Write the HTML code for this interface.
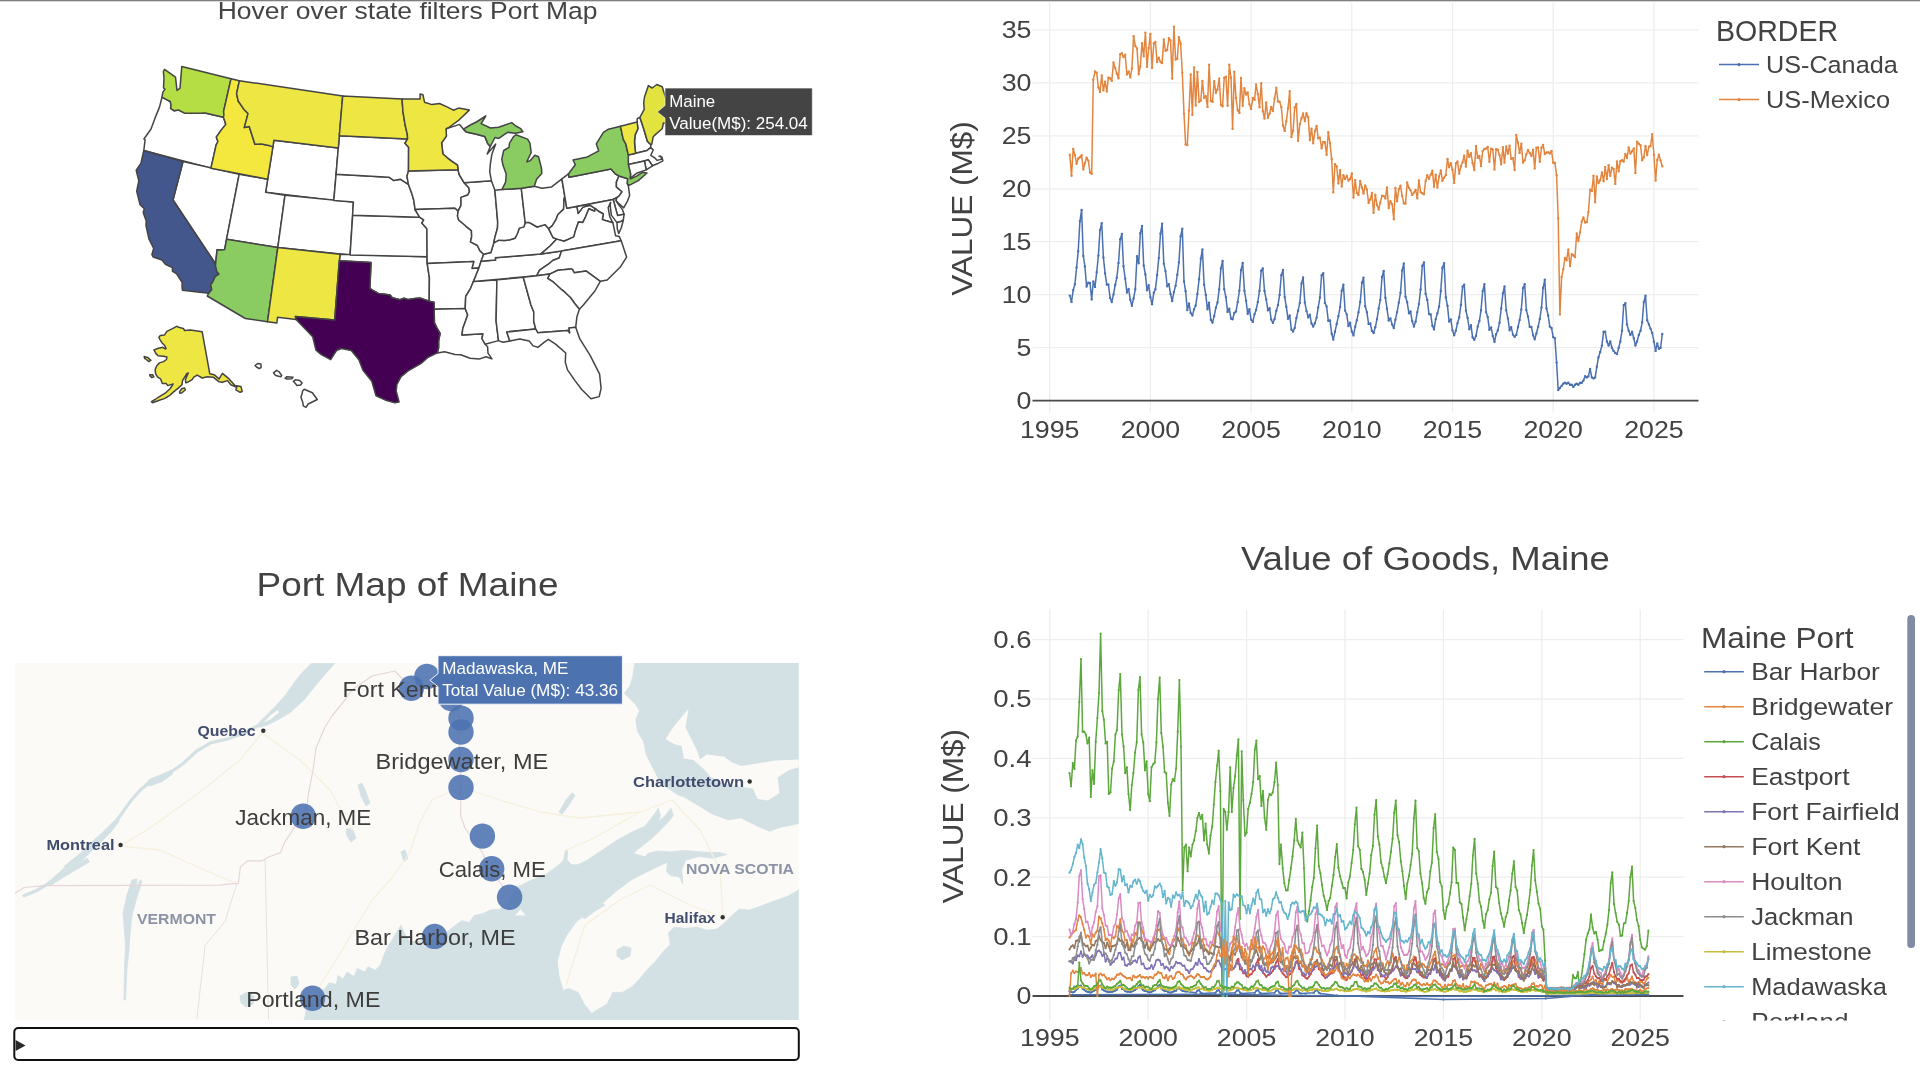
<!DOCTYPE html>
<html lang="en"><head><meta charset="utf-8"><title>Border crossing dashboard</title>
<style>
html,body{margin:0;padding:0;background:#fff;overflow:hidden}
body{width:1920px;height:1070px;font-family:'Liberation Sans', sans-serif;}
svg{display:block;position:absolute;left:0;top:0;will-change:transform}
svg text{font-family:'Liberation Sans', sans-serif;}
</style></head><body>
<svg width="1920" height="1070" viewBox="0 0 1920 1070">
<rect width="1920" height="1070" fill="#fff"/>
<rect x="0" y="0" width="1920" height="1.3" fill="#7f7f7f"/>
<g id="usmap" stroke-linejoin="round">
<path d="M162.0,97.2L167.0,99.8L170.3,101.5L171.0,105.4L170.6,108.4L174.3,110.8L178.3,109.9L184.2,112.9L190.7,113.2L202.1,113.1L205.1,112.9L223.4,117.2L224.4,120.1L225.8,124.4L221.2,130.1L216.3,137.1L217.9,141.5L216.1,145.1L210.9,168.3L143.8,150.5L145.1,139.9L143.9,139.0L150.9,129.2L155.5,116.9L159.5,107.1Z" fill="#fff" stroke="#444" stroke-width="1.5"/>
<path d="M183.0,161.6L239.2,174.2L226.6,239.2L224.6,249.6L221.3,250.0L217.1,249.7L216.4,256.1L215.6,264.0L173.0,200.0Z" fill="#fff" stroke="#444" stroke-width="1.5"/>
<path d="M273.9,140.2L338.3,148.1L333.8,200.6L265.6,192.3Z" fill="#fff" stroke="#444" stroke-width="1.5"/>
<path d="M239.2,174.2L267.7,179.2L265.6,192.3L285.0,195.2L277.8,247.6L226.6,239.2Z" fill="#fff" stroke="#444" stroke-width="1.5"/>
<path d="M285.0,195.2L353.4,202.1L350.1,254.9L277.8,247.6Z" fill="#fff" stroke="#444" stroke-width="1.5"/>
<path d="M340.2,254.2L427.1,256.8L427.2,263.4L429.4,277.9L429.2,301.2L420.3,298.1L414.9,298.6L408.4,299.6L404.1,298.3L399.8,299.8L392.2,297.7L390.1,295.0L384.7,294.2L378.3,293.4L373.0,290.5L369.9,288.3L371.0,262.6L339.3,260.8Z" fill="#fff" stroke="#444" stroke-width="1.5"/>
<path d="M352.7,215.3L419.6,217.2L423.7,219.8L421.8,223.1L426.9,228.7L427.1,256.8L350.1,254.9Z" fill="#fff" stroke="#444" stroke-width="1.5"/>
<path d="M336.1,174.3L388.9,177.2L393.6,180.4L400.3,179.2L406.0,182.8L408.4,184.3L411.8,193.4L413.7,200.0L414.7,206.6L415.0,209.5L417.2,213.2L419.6,217.2L352.6,215.3L353.4,202.1L333.8,200.6Z" fill="#fff" stroke="#444" stroke-width="1.5"/>
<path d="M339.3,135.8L407.6,138.9L404.9,143.3L408.6,147.3L408.5,170.9L407.0,176.2L408.4,184.3L406.0,182.8L400.3,179.2L393.6,180.4L388.9,177.2L336.1,174.3Z" fill="#fff" stroke="#444" stroke-width="1.5"/>
<path d="M408.5,170.9L458.0,169.8L459.4,175.0L464.1,182.7L468.8,187.7L469.5,191.6L467.7,195.0L461.0,197.4L461.0,205.3L458.1,211.1L454.9,208.2L415.0,209.5L414.7,206.6L413.7,200.0L411.8,193.4L408.4,184.3L407.0,176.2Z" fill="#fff" stroke="#444" stroke-width="1.5"/>
<path d="M415.0,209.5L454.9,208.2L458.1,211.1L457.5,216.1L458.7,220.0L466.1,226.3L471.4,230.6L471.7,236.6L470.5,241.9L477.4,245.5L479.8,250.6L483.7,254.3L481.1,261.2L478.9,267.9L471.9,268.4L473.8,261.6L427.2,263.4L427.1,256.8L426.9,228.7L421.8,223.1L423.7,219.8L419.6,217.2L417.2,213.2Z" fill="#fff" stroke="#444" stroke-width="1.5"/>
<path d="M427.2,263.4L473.8,261.6L471.9,268.4L478.9,267.9L475.7,276.1L473.4,281.5L470.6,288.3L465.7,296.5L465.2,308.5L434.2,309.3L434.0,302.3L429.2,301.2L429.4,277.9Z" fill="#fff" stroke="#444" stroke-width="1.5"/>
<path d="M434.2,309.3L465.2,308.5L467.7,314.9L462.8,328.4L462.0,335.0L483.0,333.8L481.9,338.5L485.1,344.2L487.6,346.7L488.0,353.2L491.9,358.9L486.0,356.7L479.2,359.1L470.0,358.3L460.7,354.8L454.9,354.4L444.6,351.8L437.3,352.9L438.6,347.7L438.6,341.1L440.1,333.4L437.0,328.0L434.4,322.9Z" fill="#fff" stroke="#444" stroke-width="1.5"/>
<path d="M473.4,281.5L470.6,288.3L465.7,296.5L465.2,308.5L467.7,314.9L462.8,328.4L462.0,335.0L483.0,333.8L481.9,338.5L485.1,344.2L498.5,340.6L496.1,321.0L496.9,281.2L495.7,280.0Z" fill="#fff" stroke="#444" stroke-width="1.5"/>
<path d="M495.7,280.0L496.9,281.2L496.1,321.0L498.5,340.6L503.1,342.2L509.8,341.0L506.8,332.0L535.7,329.0L533.7,321.3L533.8,312.0L530.9,304.8L523.3,277.3Z" fill="#fff" stroke="#444" stroke-width="1.5"/>
<path d="M473.4,281.5L475.7,276.1L478.9,267.9L481.1,261.2L495.5,260.1L495.3,257.7L540.9,253.9L561.5,251.1L559.2,258.0L553.1,260.2L548.4,264.2L539.6,270.1L536.8,275.7Z" fill="#fff" stroke="#444" stroke-width="1.5"/>
<path d="M481.1,261.2L483.7,254.3L490.9,252.5L493.7,242.9L498.9,240.2L504.8,240.6L509.9,239.7L514.9,238.3L517.0,234.5L519.4,228.1L523.9,226.9L525.2,222.5L529.5,222.6L537.2,227.0L545.0,224.6L548.7,228.8L553.0,237.5L556.7,239.1L550.1,246.0L540.9,253.9L495.3,257.7L495.5,260.1Z" fill="#fff" stroke="#444" stroke-width="1.5"/>
<path d="M464.1,182.7L491.4,180.7L494.9,190.2L497.7,222.0L497.5,228.0L495.2,236.2L493.7,242.9L490.9,252.5L483.7,254.3L479.8,250.6L477.4,245.5L470.5,241.9L471.7,236.6L471.4,230.6L466.1,226.3L458.7,220.0L457.5,216.1L458.1,211.1L461.0,205.3L461.0,197.4L467.7,195.0L469.5,191.6L468.8,187.7Z" fill="#fff" stroke="#444" stroke-width="1.5"/>
<path d="M446.1,128.7L455.9,125.6L459.5,124.4L463.4,129.1L466.2,131.9L475.5,134.1L484.8,136.4L487.7,143.4L490.3,146.5L487.2,154.0L495.7,144.0L491.9,154.2L490.4,163.6L489.7,171.6L491.4,180.7L464.1,182.7L459.4,175.0L458.0,169.8L457.5,165.2L451.2,160.9L447.3,157.8L442.9,154.0L441.6,142.9L446.4,136.1Z" fill="#fff" stroke="#444" stroke-width="1.5"/>
<path d="M494.9,190.2L501.9,189.6L521.3,188.3L525.2,222.5L523.9,226.9L519.4,228.1L517.0,234.5L514.9,238.3L509.9,239.7L504.8,240.6L498.9,240.2L493.7,242.9L495.2,236.2L497.5,228.0L497.7,222.0Z" fill="#fff" stroke="#444" stroke-width="1.5"/>
<path d="M521.3,188.3L534.3,186.3L541.9,188.3L551.6,186.9L561.9,178.8L564.8,196.3L564.0,199.6L563.6,209.1L557.8,214.7L556.0,219.7L552.3,225.6L548.7,228.8L545.0,224.6L537.2,227.0L529.5,222.6L525.2,222.5Z" fill="#fff" stroke="#444" stroke-width="1.5"/>
<path d="M564.8,196.3L564.0,199.6L563.6,209.1L557.8,214.7L556.0,219.7L552.3,225.6L548.7,228.8L553.0,237.5L556.7,239.1L564.0,241.2L573.8,236.9L575.7,229.9L578.5,222.0L582.7,222.6L585.2,217.7L588.9,208.7L594.7,211.2L595.3,208.6L589.8,205.2L583.0,207.1L578.2,213.4L577.0,206.6L566.8,208.3Z" fill="#fff" stroke="#444" stroke-width="1.5"/>
<path d="M561.9,178.8L568.5,173.8L569.1,177.3L611.0,169.1L615.0,173.6L619.0,176.0L616.4,182.1L616.4,186.9L622.1,191.7L619.0,196.1L616.8,197.6L613.2,199.5L566.8,208.3Z" fill="#fff" stroke="#444" stroke-width="1.5"/>
<path d="M637.1,122.0L637.2,118.7L639.9,117.3L644.0,129.8L647.4,141.2L649.3,143.1L651.0,144.7L650.6,147.6L647.1,150.4L635.8,153.3L635.1,149.8L634.5,141.8L635.1,134.9L637.9,128.7Z" fill="#fff" stroke="#444" stroke-width="1.5"/>
<path d="M628.3,154.9L635.8,153.3L647.1,150.4L650.6,147.6L653.3,149.8L650.8,155.3L655.1,158.2L657.2,160.4L661.9,159.1L660.6,156.0L659.1,156.2L661.9,157.0L662.9,160.9L657.2,163.8L652.5,165.8L648.3,159.8L644.4,161.0L628.3,164.4Z" fill="#fff" stroke="#444" stroke-width="1.5"/>
<path d="M644.4,161.0L648.3,159.8L652.5,165.8L646.2,169.9Z" fill="#fff" stroke="#444" stroke-width="1.5"/>
<path d="M628.3,164.4L644.4,161.0L646.2,169.9L636.5,173.3L630.1,178.3L630.6,174.1Z" fill="#fff" stroke="#444" stroke-width="1.5"/>
<path d="M619.0,176.0L627.7,178.8L627.3,183.7L628.4,186.1L629.6,195.4L627.7,200.6L623.7,207.9L619.2,203.9L615.9,200.5L616.8,197.6L619.0,196.1L622.1,191.7L616.4,186.9L616.4,182.1Z" fill="#fff" stroke="#444" stroke-width="1.5"/>
<path d="M613.2,199.5L616.8,197.6L615.9,200.5L618.2,204.1L622.6,209.9L624.1,214.3L617.6,215.6Z" fill="#fff" stroke="#444" stroke-width="1.5"/>
<path d="M577.0,206.6L613.2,199.5L617.6,215.6L624.1,214.3L623.3,220.2L619.5,222.1L617.0,222.6L611.3,215.1L610.2,205.1L610.6,202.3L608.2,207.6L609.7,216.7L612.9,222.8L606.2,220.8L602.3,219.6L603.3,214.0L598.1,211.0L595.3,208.6L589.8,205.2L583.0,207.1L578.2,213.4Z" fill="#fff" stroke="#444" stroke-width="1.5"/>
<path d="M540.9,253.9L550.1,246.0L556.7,239.1L564.0,241.2L573.8,236.9L575.7,229.9L578.5,222.0L582.7,222.6L585.2,217.7L588.9,208.7L594.7,211.2L595.3,208.6L598.1,211.0L603.3,214.0L602.3,219.6L606.2,220.8L612.9,222.8L614.1,228.7L615.6,235.8L619.2,236.4L621.2,240.7L561.5,251.1ZM619.5,222.1L623.3,220.2L621.3,227.8L618.8,233.5L617.3,228.7L617.0,222.6Z" fill="#fff" stroke="#444" stroke-width="1.5"/>
<path d="M536.8,275.7L539.6,270.1L548.4,264.2L553.1,260.2L559.2,258.0L561.5,251.1L621.2,240.7L626.6,257.1L620.1,267.3L607.2,280.0L600.3,281.3L586.3,271.1L574.3,272.8L572.4,269.4L571.0,268.9L557.8,270.3L549.7,274.1Z" fill="#fff" stroke="#444" stroke-width="1.5"/>
<path d="M549.7,274.1L557.8,270.3L571.0,268.9L572.4,269.4L574.3,272.8L586.3,271.1L600.3,281.3L594.9,291.0L588.5,298.8L583.4,305.0L579.4,309.3L574.9,303.7L570.6,297.7L564.8,292.2L561.7,289.7L553.5,282.2L547.6,278.3Z" fill="#fff" stroke="#444" stroke-width="1.5"/>
<path d="M523.3,277.3L536.8,275.7L549.7,274.1L547.6,278.3L553.5,282.2L561.7,289.7L564.8,292.2L570.6,297.7L574.9,303.7L579.4,309.3L576.9,316.8L575.7,327.3L569.0,327.9L569.7,332.9L567.7,330.5L537.8,332.8L535.7,329.0L533.7,321.3L533.8,312.0L530.9,304.8Z" fill="#fff" stroke="#444" stroke-width="1.5"/>
<path d="M506.8,332.0L506.8,332.0L535.7,329.0L537.8,332.8L567.7,330.5L569.7,332.9L569.0,327.9L575.7,327.3L579.8,338.9L590.0,355.2L599.6,374.1L601.1,388.4L599.2,396.6L591.0,398.8L581.7,389.5L575.0,380.6L567.5,369.9L565.3,362.3L565.7,353.0L555.9,344.4L548.4,339.4L544.7,341.9L537.9,347.3L533.1,345.9L529.2,341.0L519.8,338.9L509.8,341.0Z" fill="#fff" stroke="#444" stroke-width="1.5"/>
<path d="M164.5,69.4L175.5,77.2L177.0,90.5L180.0,88.1L181.8,66.6L231.0,78.8L223.6,111.4L223.9,115.0L223.4,117.2L205.1,112.9L202.1,113.1L190.7,113.2L184.2,112.9L178.3,109.9L174.3,110.8L170.6,108.4L171.0,105.4L170.3,101.5L167.0,99.8L162.0,97.2L162.8,92.4L165.0,89.0L163.5,87.8L164.0,78.5L163.4,71.5Z" fill="#b5dd44" stroke="#444" stroke-width="1.5"/>
<path d="M143.8,150.5L183.0,161.6L173.0,200.0L215.6,264.0L215.5,266.0L216.9,271.7L218.9,274.1L215.2,276.7L212.6,282.3L210.7,284.6L211.7,289.7L208.7,293.3L182.4,290.3L182.0,285.9L182.2,282.5L176.4,273.7L172.5,271.4L172.3,267.6L165.4,264.3L162.0,260.0L153.1,257.0L151.9,254.7L153.7,248.3L148.9,238.8L146.0,225.6L146.2,220.9L143.2,212.5L144.3,208.6L140.1,204.7L136.7,191.2L138.8,180.8L136.2,170.3L140.9,163.5Z" fill="#43578c" stroke="#444" stroke-width="1.5"/>
<path d="M231.0,78.8L239.4,80.7L236.6,93.6L238.2,101.0L243.8,109.2L248.0,113.6L244.3,127.6L249.2,126.5L252.2,135.8L254.9,144.3L261.5,144.1L268.9,145.4L272.9,146.9L267.7,179.2L210.9,168.3L216.1,145.1L217.9,141.5L216.3,137.1L221.2,130.1L225.8,124.4L224.4,120.1L223.4,117.2L223.9,115.0L223.6,111.4Z" fill="#f4e83e" stroke="#444" stroke-width="1.5"/>
<path d="M239.4,80.7L342.7,96.0L338.3,148.1L273.9,140.2L272.9,146.9L268.9,145.4L261.5,144.1L254.9,144.3L252.2,135.8L249.2,126.5L244.3,127.6L248.0,113.6L243.8,109.2L238.2,101.0L236.6,93.6Z" fill="#eee642" stroke="#444" stroke-width="1.5"/>
<path d="M226.6,239.2L277.8,247.6L267.5,321.8L245.3,318.5L207.2,296.0L208.7,293.3L211.7,289.7L210.7,284.6L212.6,282.3L215.2,276.7L218.9,274.1L216.9,271.7L215.5,266.0L215.6,264.0L216.4,256.1L217.1,249.7L221.3,250.0L224.6,249.6Z" fill="#8acb62" stroke="#444" stroke-width="1.5"/>
<path d="M277.8,247.6L340.2,254.2L339.3,260.8L334.7,320.1L295.4,316.4L296.1,319.4L277.6,317.2L276.8,323.1L267.5,321.8Z" fill="#eee642" stroke="#444" stroke-width="1.5"/>
<path d="M339.3,260.8L371.0,262.6L369.9,288.3L373.0,290.5L378.3,293.4L384.7,294.2L390.1,295.0L392.2,297.7L399.8,299.8L404.1,298.3L408.4,299.6L414.9,298.6L420.3,298.1L429.2,301.2L434.0,302.3L434.2,309.3L434.4,322.9L437.0,328.0L440.1,333.4L438.6,341.1L438.6,347.7L437.3,352.9L427.6,357.7L420.8,363.7L408.1,370.9L401.1,376.7L396.9,384.5L396.2,391.0L399.1,402.0L394.9,402.7L386.6,400.6L376.0,395.8L371.8,381.3L363.0,370.4L358.9,359.8L351.3,350.6L341.2,348.5L336.5,350.5L330.7,359.7L321.3,354.6L316.0,350.2L312.7,336.7L301.4,325.0L296.1,319.4L295.4,316.4L334.7,320.1Z" fill="#440154" stroke="#444" stroke-width="1.5"/>
<path d="M342.7,96.0L402.0,98.9L403.0,111.9L405.1,125.0L407.3,134.2L407.6,138.9L339.3,135.8Z" fill="#eee642" stroke="#444" stroke-width="1.5"/>
<path d="M402.0,98.9L420.1,99.0L420.1,94.1L423.0,94.8L424.5,102.2L432.0,104.6L439.5,103.5L448.0,107.4L453.4,110.2L458.6,108.1L469.3,110.1L459.2,119.8L448.8,127.5L446.1,128.7L446.4,136.1L441.6,142.9L442.9,154.0L447.3,157.8L451.2,160.9L457.5,165.2L458.0,169.8L408.5,170.9L408.6,147.3L404.9,143.3L407.6,138.9L407.3,134.2L405.1,125.0L403.0,111.9Z" fill="#eee642" stroke="#444" stroke-width="1.5"/>
<path d="M463.4,129.1L470.3,125.0L476.4,122.0L485.8,116.0L481.1,123.6L490.5,128.0L498.6,127.3L511.7,122.6L515.8,126.0L520.7,128.7L522.9,131.7L515.7,133.3L507.4,132.3L498.8,138.4L495.0,137.5L490.3,146.5L487.7,143.4L484.8,136.4L475.5,134.1L466.2,131.9ZM501.9,189.6L521.3,188.3L534.3,186.3L536.7,179.0L541.8,173.6L541.5,168.3L538.5,156.8L534.9,155.3L530.4,160.6L526.8,161.7L531.2,152.5L530.0,143.4L527.6,139.1L515.9,134.8L513.4,136.9L509.5,143.2L509.0,147.3L503.7,150.5L501.8,159.2L502.9,165.1L506.2,174.0L505.6,182.1Z" fill="#8acb62" stroke="#444" stroke-width="1.5"/>
<path d="M568.5,173.8L575.3,164.8L573.0,159.9L587.4,156.9L598.7,150.8L596.3,143.9L603.4,132.3L608.4,129.2L620.5,126.3L623.2,139.2L625.8,144.0L628.3,154.9L628.3,164.4L630.6,174.1L630.1,178.3L630.7,178.8L637.1,175.9L642.3,172.3L647.0,173.0L638.3,180.6L629.2,185.3L627.3,183.7L627.7,178.8L619.0,176.0L615.0,173.6L611.0,169.1L569.1,177.3Z" fill="#8acb62" stroke="#444" stroke-width="1.5"/>
<path d="M620.5,126.3L637.1,122.0L637.9,128.7L635.1,134.9L634.5,141.8L635.1,149.8L635.8,153.3L628.3,154.9L625.8,144.0L623.2,139.2Z" fill="#eee642" stroke="#444" stroke-width="1.5"/>
<path d="M639.9,117.3L644.2,109.4L643.7,102.7L644.5,97.0L648.4,85.6L652.2,88.0L656.8,84.5L662.2,86.8L666.7,101.0L670.9,104.3L672.0,108.0L674.8,109.2L678.0,112.8L672.9,118.8L668.5,123.5L663.4,123.0L662.2,128.8L655.9,134.1L653.2,136.8L651.8,144.1L651.0,144.7L649.3,143.1L647.4,141.2L644.0,129.8Z" fill="#e2e33f" stroke="#444" stroke-width="1.5"/>
<path d="M158.9,337.2L160.2,335.6L164.4,335.1L166.9,331.4L172.0,328.8L176.6,326.3L179.5,327.6L183.3,328.4L184.6,330.5L190.5,330.1L197.2,330.9L202.2,331.8L209.8,373.8L214.0,374.7L219.1,378.9L222.4,373.4L229.1,378.9L235.0,385.6L240.9,386.4L242.2,391.5L240.1,392.3L235.9,389.8L236.7,387.3L230.8,384.8L227.5,380.6L222.4,382.2L219.1,381.8L213.2,377.2L207.3,376.8L202.2,378.0L197.2,375.1L193.8,377.2L192.1,379.7L187.9,382.2L185.8,382.7L185.4,379.7L187.1,375.5L188.4,373.0L186.7,373.8L182.5,380.6L182.0,384.8L178.3,388.1L173.6,391.9L169.4,395.7L164.4,398.6L159.3,400.3L152.6,402.8L151.4,401.6L155.1,399.5L160.2,396.1L165.2,393.2L170.3,388.5L173.2,383.9L167.8,385.6L166.1,383.5L162.3,383.5L160.6,378.9L157.7,377.2L155.6,373.8L155.1,369.6L156.8,365.8L159.3,362.9L163.5,361.6L166.5,359.5L166.9,357.0L163.5,356.2L158.1,355.7L156.0,353.6L153.9,349.9L158.5,348.2L162.7,347.3L165.2,349.0L166.1,348.6L164.4,345.2L161.9,342.7L159.8,339.3ZM144.2,356.6L147.6,357.4L150.9,360.4L148.8,361.6L146.3,359.5L144.6,358.3ZM149.7,374.7L152.6,374.7L153.9,376.8L151.8,377.6L150.1,375.9ZM179.5,391.9L182.0,388.5L184.6,388.1L185.4,389.8L182.0,392.7L179.9,393.2Z" fill="#eee642" stroke="#444" stroke-width="1.5"/><path d="M255.0,365.5L258.1,363.4L260.9,364.0L261.1,367.6L259.3,368.5L256.8,367.3ZM273.5,372.8L276.6,370.3L279.0,371.6L281.7,375.5L280.8,376.7L276.6,375.8L274.8,374.6ZM285.1,378.2L286.6,376.7L293.0,377.3L291.8,378.8L286.9,379.0ZM293.3,381.3L295.4,379.8L299.7,380.4L302.1,383.1L300.6,384.9L296.9,385.5L295.1,383.1ZM302.7,390.7L304.2,389.2L312.4,392.8L317.3,399.5L308.2,404.0L306.0,407.4L303.3,405.9L302.7,402.2L300.9,397.1L302.1,393.7Z" fill="#fff" stroke="#444" stroke-width="1.5"/>
<text x="407.6" y="18.5" font-size="23.09" text-anchor="middle" fill="#444" textLength="379.7" lengthAdjust="spacingAndGlyphs">Hover over state filters Port Map</text>
<path d="M657.3,111.9L665,105.6V88.1H812.3V135.6H665V118.1Z" fill="#444" stroke="#fff" stroke-width="0.6"/>
<text x="669.2" y="106.6" font-size="16.9" text-anchor="start" fill="#fff">Maine</text>
<text x="669.2" y="128.7" font-size="16.9" text-anchor="start" fill="#fff" textLength="138.6" lengthAdjust="spacingAndGlyphs">Value(M$): 254.04</text>
</g>
<g id="chart1">
<path d="M1049.7,3.0V412.5M1150.4,3.0V412.5M1251.1,3.0V412.5M1351.8,3.0V412.5M1452.5,3.0V412.5M1553.2,3.0V412.5M1653.9,3.0V412.5M1032.5,347.7H1698.5M1032.5,294.7H1698.5M1032.5,241.7H1698.5M1032.5,188.8H1698.5M1032.5,135.8H1698.5M1032.5,82.8H1698.5M1032.5,29.8H1698.5" stroke="#eeeeee" stroke-width="1.3" fill="none"/>
<path d="M1032.5,400.7H1698.5" stroke="#4a4a4a" stroke-width="1.8"/>
<clipPath id="c1"><rect x="1032.5" y="3.0" width="666.0" height="409.5"/></clipPath><g clip-path="url(#c1)">
<path d="M1069.8,295.6L1071.5,301.9L1073.2,290.2L1074.9,284.3L1076.6,267.4L1078.2,251.2L1079.9,221.3L1081.6,209.9L1083.3,255.9L1084.9,266.5L1086.6,286.5L1088.3,282.8L1090.0,283.0L1091.7,299.4L1093.3,281.5L1095.0,286.9L1096.7,272.2L1098.4,255.6L1100.0,230.1L1101.7,223.2L1103.4,257.5L1105.1,273.4L1106.8,284.6L1108.4,284.5L1110.1,297.9L1111.8,302.1L1113.5,294.4L1115.2,285.0L1116.8,277.7L1118.5,262.9L1120.2,239.2L1121.9,233.9L1123.5,266.3L1125.2,278.6L1126.9,292.5L1128.6,289.0L1130.3,299.7L1131.9,305.7L1133.6,298.5L1135.3,289.2L1137.0,256.2L1138.7,263.3L1140.3,233.2L1142.0,225.9L1143.7,265.4L1145.4,274.5L1147.0,290.2L1148.7,285.3L1150.4,297.2L1152.1,304.3L1153.8,292.7L1155.4,289.3L1157.1,275.0L1158.8,258.1L1160.5,233.5L1162.1,223.8L1163.8,263.6L1165.5,271.1L1167.2,286.2L1168.9,284.1L1170.5,293.9L1172.2,301.0L1173.9,292.1L1175.6,285.8L1177.3,274.8L1178.9,262.4L1180.6,236.2L1182.3,228.8L1184.0,281.4L1185.6,291.3L1187.3,310.1L1189.0,303.5L1190.7,313.1L1192.4,315.4L1194.0,309.4L1195.7,305.4L1197.4,293.9L1199.1,279.3L1200.8,258.6L1202.4,249.4L1204.1,284.7L1205.8,294.9L1207.5,309.3L1209.1,302.7L1210.8,319.7L1212.5,322.6L1214.2,316.0L1215.9,307.6L1217.5,302.5L1219.2,289.4L1220.9,268.5L1222.6,260.9L1224.2,289.2L1225.9,297.1L1227.6,311.9L1229.3,308.8L1231.0,318.5L1232.6,319.2L1234.3,313.0L1236.0,311.4L1237.7,302.0L1239.4,290.6L1241.0,270.2L1242.7,263.0L1244.4,290.7L1246.1,300.7L1247.7,313.8L1249.4,309.2L1251.1,319.6L1252.8,321.9L1254.5,314.3L1256.1,310.0L1257.8,302.0L1259.5,290.8L1261.2,270.8L1262.8,268.5L1264.5,291.0L1266.2,299.5L1267.9,310.2L1269.6,308.3L1271.2,319.6L1272.9,322.8L1274.6,319.0L1276.3,310.8L1278.0,305.1L1279.6,294.9L1281.3,275.2L1283.0,270.0L1284.7,297.1L1286.3,306.7L1288.0,318.7L1289.7,315.5L1291.4,329.6L1293.1,331.5L1294.7,327.9L1296.4,318.0L1298.1,310.7L1299.8,302.9L1301.5,283.4L1303.1,277.5L1304.8,302.4L1306.5,310.9L1308.2,317.4L1309.8,314.6L1311.5,323.4L1313.2,326.6L1314.9,323.2L1316.6,317.6L1318.2,307.5L1319.9,297.5L1321.6,275.2L1323.3,273.2L1324.9,302.9L1326.6,306.5L1328.3,320.8L1330.0,320.4L1331.7,333.7L1333.3,339.6L1335.0,331.7L1336.7,324.0L1338.4,316.1L1340.1,306.9L1341.7,290.7L1343.4,284.8L1345.1,310.6L1346.8,314.6L1348.4,326.1L1350.1,322.7L1351.8,331.5L1353.5,335.4L1355.2,326.8L1356.8,320.3L1358.5,312.2L1360.2,302.0L1361.9,282.7L1363.5,277.6L1365.2,306.2L1366.9,312.2L1368.6,323.9L1370.3,323.5L1371.9,330.8L1373.6,333.0L1375.3,327.3L1377.0,319.1L1378.7,308.4L1380.3,300.0L1382.0,277.0L1383.7,271.0L1385.4,297.8L1387.0,308.7L1388.7,320.6L1390.4,318.4L1392.1,324.4L1393.8,328.1L1395.4,319.7L1397.1,312.1L1398.8,302.6L1400.5,292.8L1402.2,270.4L1403.8,263.5L1405.5,296.8L1407.2,302.3L1408.9,313.3L1410.5,311.5L1412.2,321.3L1413.9,326.6L1415.6,321.8L1417.3,312.1L1418.9,304.1L1420.6,289.4L1422.3,265.8L1424.0,262.4L1425.6,293.7L1427.3,299.9L1429.0,314.1L1430.7,314.5L1432.4,325.7L1434.0,329.4L1435.7,319.1L1437.4,313.2L1439.1,306.6L1440.8,290.9L1442.4,267.8L1444.1,263.2L1445.8,297.3L1447.5,305.8L1449.1,321.6L1450.8,319.5L1452.5,330.4L1454.2,335.3L1455.9,330.6L1457.5,323.2L1459.2,317.3L1460.9,304.9L1462.6,286.6L1464.2,284.6L1465.9,310.6L1467.6,318.0L1469.3,329.2L1471.0,325.2L1472.6,337.3L1474.3,339.7L1476.0,335.9L1477.7,326.5L1479.4,320.9L1481.0,310.3L1482.7,291.1L1484.4,284.1L1486.1,312.1L1487.7,316.9L1489.4,329.7L1491.1,327.4L1492.8,335.9L1494.5,341.8L1496.1,334.3L1497.8,330.3L1499.5,322.8L1501.2,308.5L1502.9,293.3L1504.5,286.4L1506.2,310.2L1507.9,318.5L1509.6,330.2L1511.2,327.1L1512.9,334.6L1514.6,336.7L1516.3,334.9L1518.0,327.0L1519.6,320.1L1521.3,309.6L1523.0,288.1L1524.7,284.1L1526.3,310.0L1528.0,316.6L1529.7,326.7L1531.4,327.0L1533.1,335.2L1534.7,339.2L1536.4,333.5L1538.1,326.8L1539.8,318.9L1541.5,307.6L1543.1,287.9L1544.8,279.7L1546.5,308.4L1548.2,315.5L1549.8,326.6L1551.5,327.9L1553.2,337.1L1554.9,338.2L1556.6,362.6L1558.2,390.1L1559.9,388.0L1561.6,385.9L1563.3,383.7L1564.9,382.7L1566.6,383.7L1568.3,382.7L1570.0,384.8L1571.7,384.8L1573.3,386.9L1575.0,384.8L1576.7,383.7L1578.4,384.8L1580.1,382.7L1581.7,382.7L1583.4,380.6L1585.1,376.3L1586.8,377.4L1588.4,376.3L1590.1,368.9L1591.8,377.4L1593.5,378.4L1595.2,377.4L1596.8,366.8L1598.5,357.3L1600.2,352.0L1601.9,345.6L1603.6,331.8L1605.2,331.8L1606.9,341.4L1608.6,345.6L1610.3,341.4L1611.9,347.7L1613.6,350.9L1615.3,353.0L1617.0,354.1L1618.7,347.7L1620.3,341.4L1622.0,330.8L1623.7,305.3L1625.4,303.2L1627.0,324.4L1628.7,330.8L1630.4,335.0L1632.1,331.8L1633.8,338.2L1635.4,345.6L1637.1,341.4L1638.8,335.0L1640.5,330.8L1642.2,322.3L1643.8,302.1L1645.5,295.8L1647.2,320.2L1648.9,324.4L1650.5,328.6L1652.2,332.9L1653.9,341.4L1655.6,350.9L1657.3,343.5L1658.9,348.8L1660.6,347.7L1662.3,333.9" fill="none" stroke="rgb(74,112,176)" stroke-width="1.5" stroke-linejoin="round"/><path d="M1069.8,295.6h0M1071.5,301.9h0M1073.2,290.2h0M1074.9,284.3h0M1076.6,267.4h0M1078.2,251.2h0M1079.9,221.3h0M1081.6,209.9h0M1083.3,255.9h0M1084.9,266.5h0M1086.6,286.5h0M1088.3,282.8h0M1090.0,283.0h0M1091.7,299.4h0M1093.3,281.5h0M1095.0,286.9h0M1096.7,272.2h0M1098.4,255.6h0M1100.0,230.1h0M1101.7,223.2h0M1103.4,257.5h0M1105.1,273.4h0M1106.8,284.6h0M1108.4,284.5h0M1110.1,297.9h0M1111.8,302.1h0M1113.5,294.4h0M1115.2,285.0h0M1116.8,277.7h0M1118.5,262.9h0M1120.2,239.2h0M1121.9,233.9h0M1123.5,266.3h0M1125.2,278.6h0M1126.9,292.5h0M1128.6,289.0h0M1130.3,299.7h0M1131.9,305.7h0M1133.6,298.5h0M1135.3,289.2h0M1137.0,256.2h0M1138.7,263.3h0M1140.3,233.2h0M1142.0,225.9h0M1143.7,265.4h0M1145.4,274.5h0M1147.0,290.2h0M1148.7,285.3h0M1150.4,297.2h0M1152.1,304.3h0M1153.8,292.7h0M1155.4,289.3h0M1157.1,275.0h0M1158.8,258.1h0M1160.5,233.5h0M1162.1,223.8h0M1163.8,263.6h0M1165.5,271.1h0M1167.2,286.2h0M1168.9,284.1h0M1170.5,293.9h0M1172.2,301.0h0M1173.9,292.1h0M1175.6,285.8h0M1177.3,274.8h0M1178.9,262.4h0M1180.6,236.2h0M1182.3,228.8h0M1184.0,281.4h0M1185.6,291.3h0M1187.3,310.1h0M1189.0,303.5h0M1190.7,313.1h0M1192.4,315.4h0M1194.0,309.4h0M1195.7,305.4h0M1197.4,293.9h0M1199.1,279.3h0M1200.8,258.6h0M1202.4,249.4h0M1204.1,284.7h0M1205.8,294.9h0M1207.5,309.3h0M1209.1,302.7h0M1210.8,319.7h0M1212.5,322.6h0M1214.2,316.0h0M1215.9,307.6h0M1217.5,302.5h0M1219.2,289.4h0M1220.9,268.5h0M1222.6,260.9h0M1224.2,289.2h0M1225.9,297.1h0M1227.6,311.9h0M1229.3,308.8h0M1231.0,318.5h0M1232.6,319.2h0M1234.3,313.0h0M1236.0,311.4h0M1237.7,302.0h0M1239.4,290.6h0M1241.0,270.2h0M1242.7,263.0h0M1244.4,290.7h0M1246.1,300.7h0M1247.7,313.8h0M1249.4,309.2h0M1251.1,319.6h0M1252.8,321.9h0M1254.5,314.3h0M1256.1,310.0h0M1257.8,302.0h0M1259.5,290.8h0M1261.2,270.8h0M1262.8,268.5h0M1264.5,291.0h0M1266.2,299.5h0M1267.9,310.2h0M1269.6,308.3h0M1271.2,319.6h0M1272.9,322.8h0M1274.6,319.0h0M1276.3,310.8h0M1278.0,305.1h0M1279.6,294.9h0M1281.3,275.2h0M1283.0,270.0h0M1284.7,297.1h0M1286.3,306.7h0M1288.0,318.7h0M1289.7,315.5h0M1291.4,329.6h0M1293.1,331.5h0M1294.7,327.9h0M1296.4,318.0h0M1298.1,310.7h0M1299.8,302.9h0M1301.5,283.4h0M1303.1,277.5h0M1304.8,302.4h0M1306.5,310.9h0M1308.2,317.4h0M1309.8,314.6h0M1311.5,323.4h0M1313.2,326.6h0M1314.9,323.2h0M1316.6,317.6h0M1318.2,307.5h0M1319.9,297.5h0M1321.6,275.2h0M1323.3,273.2h0M1324.9,302.9h0M1326.6,306.5h0M1328.3,320.8h0M1330.0,320.4h0M1331.7,333.7h0M1333.3,339.6h0M1335.0,331.7h0M1336.7,324.0h0M1338.4,316.1h0M1340.1,306.9h0M1341.7,290.7h0M1343.4,284.8h0M1345.1,310.6h0M1346.8,314.6h0M1348.4,326.1h0M1350.1,322.7h0M1351.8,331.5h0M1353.5,335.4h0M1355.2,326.8h0M1356.8,320.3h0M1358.5,312.2h0M1360.2,302.0h0M1361.9,282.7h0M1363.5,277.6h0M1365.2,306.2h0M1366.9,312.2h0M1368.6,323.9h0M1370.3,323.5h0M1371.9,330.8h0M1373.6,333.0h0M1375.3,327.3h0M1377.0,319.1h0M1378.7,308.4h0M1380.3,300.0h0M1382.0,277.0h0M1383.7,271.0h0M1385.4,297.8h0M1387.0,308.7h0M1388.7,320.6h0M1390.4,318.4h0M1392.1,324.4h0M1393.8,328.1h0M1395.4,319.7h0M1397.1,312.1h0M1398.8,302.6h0M1400.5,292.8h0M1402.2,270.4h0M1403.8,263.5h0M1405.5,296.8h0M1407.2,302.3h0M1408.9,313.3h0M1410.5,311.5h0M1412.2,321.3h0M1413.9,326.6h0M1415.6,321.8h0M1417.3,312.1h0M1418.9,304.1h0M1420.6,289.4h0M1422.3,265.8h0M1424.0,262.4h0M1425.6,293.7h0M1427.3,299.9h0M1429.0,314.1h0M1430.7,314.5h0M1432.4,325.7h0M1434.0,329.4h0M1435.7,319.1h0M1437.4,313.2h0M1439.1,306.6h0M1440.8,290.9h0M1442.4,267.8h0M1444.1,263.2h0M1445.8,297.3h0M1447.5,305.8h0M1449.1,321.6h0M1450.8,319.5h0M1452.5,330.4h0M1454.2,335.3h0M1455.9,330.6h0M1457.5,323.2h0M1459.2,317.3h0M1460.9,304.9h0M1462.6,286.6h0M1464.2,284.6h0M1465.9,310.6h0M1467.6,318.0h0M1469.3,329.2h0M1471.0,325.2h0M1472.6,337.3h0M1474.3,339.7h0M1476.0,335.9h0M1477.7,326.5h0M1479.4,320.9h0M1481.0,310.3h0M1482.7,291.1h0M1484.4,284.1h0M1486.1,312.1h0M1487.7,316.9h0M1489.4,329.7h0M1491.1,327.4h0M1492.8,335.9h0M1494.5,341.8h0M1496.1,334.3h0M1497.8,330.3h0M1499.5,322.8h0M1501.2,308.5h0M1502.9,293.3h0M1504.5,286.4h0M1506.2,310.2h0M1507.9,318.5h0M1509.6,330.2h0M1511.2,327.1h0M1512.9,334.6h0M1514.6,336.7h0M1516.3,334.9h0M1518.0,327.0h0M1519.6,320.1h0M1521.3,309.6h0M1523.0,288.1h0M1524.7,284.1h0M1526.3,310.0h0M1528.0,316.6h0M1529.7,326.7h0M1531.4,327.0h0M1533.1,335.2h0M1534.7,339.2h0M1536.4,333.5h0M1538.1,326.8h0M1539.8,318.9h0M1541.5,307.6h0M1543.1,287.9h0M1544.8,279.7h0M1546.5,308.4h0M1548.2,315.5h0M1549.8,326.6h0M1551.5,327.9h0M1553.2,337.1h0M1554.9,338.2h0M1556.6,362.6h0M1558.2,390.1h0M1559.9,388.0h0M1561.6,385.9h0M1563.3,383.7h0M1564.9,382.7h0M1566.6,383.7h0M1568.3,382.7h0M1570.0,384.8h0M1571.7,384.8h0M1573.3,386.9h0M1575.0,384.8h0M1576.7,383.7h0M1578.4,384.8h0M1580.1,382.7h0M1581.7,382.7h0M1583.4,380.6h0M1585.1,376.3h0M1586.8,377.4h0M1588.4,376.3h0M1590.1,368.9h0M1591.8,377.4h0M1593.5,378.4h0M1595.2,377.4h0M1596.8,366.8h0M1598.5,357.3h0M1600.2,352.0h0M1601.9,345.6h0M1603.6,331.8h0M1605.2,331.8h0M1606.9,341.4h0M1608.6,345.6h0M1610.3,341.4h0M1611.9,347.7h0M1613.6,350.9h0M1615.3,353.0h0M1617.0,354.1h0M1618.7,347.7h0M1620.3,341.4h0M1622.0,330.8h0M1623.7,305.3h0M1625.4,303.2h0M1627.0,324.4h0M1628.7,330.8h0M1630.4,335.0h0M1632.1,331.8h0M1633.8,338.2h0M1635.4,345.6h0M1637.1,341.4h0M1638.8,335.0h0M1640.5,330.8h0M1642.2,322.3h0M1643.8,302.1h0M1645.5,295.8h0M1647.2,320.2h0M1648.9,324.4h0M1650.5,328.6h0M1652.2,332.9h0M1653.9,341.4h0M1655.6,350.9h0M1657.3,343.5h0M1658.9,348.8h0M1660.6,347.7h0M1662.3,333.9h0" stroke="rgb(74,112,176)" stroke-width="2.4" stroke-linecap="round" fill="none"/>
<path d="M1069.8,154.7L1071.5,175.8L1073.2,148.9L1074.9,155.1L1076.6,163.7L1078.2,158.5L1079.9,157.2L1081.6,155.1L1083.3,169.4L1084.9,163.3L1086.6,157.7L1088.3,160.6L1090.0,172.5L1091.7,173.7L1093.3,79.7L1095.0,71.5L1096.7,72.8L1098.4,87.3L1100.0,91.9L1101.7,75.5L1103.4,90.4L1105.1,81.6L1106.8,91.4L1108.4,77.6L1110.1,78.3L1111.8,80.7L1113.5,62.4L1115.2,68.1L1116.8,73.5L1118.5,78.2L1120.2,54.3L1121.9,53.3L1123.5,57.1L1125.2,54.8L1126.9,74.4L1128.6,71.5L1130.3,77.4L1131.9,68.6L1133.6,36.2L1135.3,46.0L1137.0,48.4L1138.7,74.3L1140.3,66.6L1142.0,43.3L1143.7,56.2L1145.4,32.6L1147.0,66.7L1148.7,47.9L1150.4,34.0L1152.1,67.8L1153.8,43.5L1155.4,42.0L1157.1,62.1L1158.8,57.7L1160.5,62.1L1162.1,63.1L1163.8,39.4L1165.5,50.8L1167.2,50.0L1168.9,38.3L1170.5,40.4L1172.2,78.5L1173.9,26.6L1175.6,59.6L1177.3,58.7L1178.9,37.3L1180.6,43.5L1182.3,72.6L1184.0,113.6L1185.6,144.4L1187.3,145.0L1189.0,110.7L1190.7,74.5L1192.4,114.9L1194.0,67.4L1195.7,105.5L1197.4,71.9L1199.1,101.9L1200.8,100.5L1202.4,80.9L1204.1,97.8L1205.8,96.1L1207.5,106.9L1209.1,64.8L1210.8,101.1L1212.5,101.7L1214.2,81.3L1215.9,92.7L1217.5,89.5L1219.2,78.6L1220.9,105.0L1222.6,106.3L1224.2,77.8L1225.9,76.8L1227.6,105.8L1229.3,64.8L1231.0,77.6L1232.6,128.8L1234.3,71.7L1236.0,98.0L1237.7,110.3L1239.4,112.9L1241.0,77.9L1242.7,105.7L1244.4,88.1L1246.1,94.5L1247.7,92.5L1249.4,104.3L1251.1,108.9L1252.8,98.1L1254.5,99.8L1256.1,84.4L1257.8,94.0L1259.5,107.2L1261.2,83.3L1262.8,110.9L1264.5,118.5L1266.2,102.5L1267.9,117.7L1269.6,113.8L1271.2,106.9L1272.9,111.0L1274.6,98.4L1276.3,87.8L1278.0,101.5L1279.6,101.6L1281.3,107.1L1283.0,125.5L1284.7,130.9L1286.3,121.2L1288.0,108.3L1289.7,91.3L1291.4,137.1L1293.1,130.7L1294.7,107.4L1296.4,104.0L1298.1,140.7L1299.8,124.1L1301.5,118.3L1303.1,113.4L1304.8,121.1L1306.5,113.2L1308.2,117.1L1309.8,140.0L1311.5,128.7L1313.2,143.2L1314.9,131.1L1316.6,125.9L1318.2,138.3L1319.9,137.6L1321.6,148.2L1323.3,141.9L1324.9,142.2L1326.6,154.8L1328.3,132.3L1330.0,143.1L1331.7,159.2L1333.3,192.3L1335.0,164.1L1336.7,166.4L1338.4,183.4L1340.1,170.2L1341.7,186.5L1343.4,175.3L1345.1,178.9L1346.8,175.7L1348.4,180.5L1350.1,179.0L1351.8,173.5L1353.5,197.6L1355.2,180.1L1356.8,192.9L1358.5,195.1L1360.2,180.9L1361.9,187.5L1363.5,193.5L1365.2,185.4L1366.9,189.6L1368.6,202.9L1370.3,199.4L1371.9,192.9L1373.6,212.7L1375.3,194.7L1377.0,205.0L1378.7,209.4L1380.3,202.4L1382.0,195.7L1383.7,196.1L1385.4,198.4L1387.0,187.4L1388.7,208.1L1390.4,201.3L1392.1,204.1L1393.8,219.3L1395.4,187.9L1397.1,201.2L1398.8,189.3L1400.5,185.6L1402.2,196.1L1403.8,203.4L1405.5,203.6L1407.2,182.5L1408.9,187.9L1410.5,190.1L1412.2,194.9L1413.9,192.6L1415.6,189.9L1417.3,198.3L1418.9,180.4L1420.6,192.0L1422.3,193.2L1424.0,194.3L1425.6,181.1L1427.3,175.3L1429.0,178.8L1430.7,174.7L1432.4,170.6L1434.0,186.7L1435.7,174.7L1437.4,187.5L1439.1,176.6L1440.8,170.4L1442.4,180.7L1444.1,177.7L1445.8,175.1L1447.5,158.9L1449.1,167.3L1450.8,163.2L1452.5,169.8L1454.2,182.9L1455.9,163.4L1457.5,161.5L1459.2,173.6L1460.9,166.3L1462.6,162.3L1464.2,155.8L1465.9,166.6L1467.6,150.7L1469.3,156.9L1471.0,153.3L1472.6,163.0L1474.3,170.1L1476.0,145.9L1477.7,157.9L1479.4,155.9L1481.0,166.1L1482.7,151.1L1484.4,149.0L1486.1,148.6L1487.7,147.0L1489.4,161.7L1491.1,148.7L1492.8,149.4L1494.5,169.4L1496.1,149.2L1497.8,149.7L1499.5,155.1L1501.2,164.3L1502.9,147.2L1504.5,162.5L1506.2,146.4L1507.9,153.5L1509.6,145.6L1511.2,158.8L1512.9,158.1L1514.6,170.0L1516.3,135.0L1518.0,142.8L1519.6,152.9L1521.3,143.7L1523.0,162.6L1524.7,160.2L1526.3,154.3L1528.0,150.0L1529.7,153.0L1531.4,156.0L1533.1,149.7L1534.7,168.4L1536.4,147.7L1538.1,147.4L1539.8,161.7L1541.5,147.8L1543.1,144.9L1544.8,154.0L1546.5,152.6L1548.2,152.3L1549.8,153.4L1551.5,150.9L1553.2,162.7L1554.9,162.8L1556.6,175.2L1558.2,218.4L1559.9,314.4L1561.6,277.1L1563.3,269.3L1564.9,258.0L1566.6,260.2L1568.3,249.4L1570.0,266.1L1571.7,254.3L1573.3,255.2L1575.0,257.1L1576.7,233.5L1578.4,241.0L1580.1,232.1L1581.7,221.6L1583.4,217.4L1585.1,222.5L1586.8,222.0L1588.4,212.1L1590.1,189.6L1591.8,190.9L1593.5,175.7L1595.2,202.3L1596.8,176.4L1598.5,183.0L1600.2,180.2L1601.9,172.4L1603.6,181.2L1605.2,167.1L1606.9,179.1L1608.6,165.2L1610.3,175.7L1611.9,167.8L1613.6,168.9L1615.3,183.9L1617.0,161.4L1618.7,171.2L1620.3,161.3L1622.0,160.2L1623.7,161.6L1625.4,153.9L1627.0,158.1L1628.7,147.5L1630.4,153.6L1632.1,151.3L1633.8,148.4L1635.4,173.1L1637.1,141.8L1638.8,143.8L1640.5,145.2L1642.2,160.3L1643.8,157.2L1645.5,146.0L1647.2,155.0L1648.9,146.6L1650.5,146.0L1652.2,134.1L1653.9,154.8L1655.6,180.5L1657.3,159.9L1658.9,154.8L1660.6,160.6L1662.3,166.3" fill="none" stroke="rgb(226,133,62)" stroke-width="1.5" stroke-linejoin="round"/><path d="M1069.8,154.7h0M1071.5,175.8h0M1073.2,148.9h0M1074.9,155.1h0M1076.6,163.7h0M1078.2,158.5h0M1079.9,157.2h0M1081.6,155.1h0M1083.3,169.4h0M1084.9,163.3h0M1086.6,157.7h0M1088.3,160.6h0M1090.0,172.5h0M1091.7,173.7h0M1093.3,79.7h0M1095.0,71.5h0M1096.7,72.8h0M1098.4,87.3h0M1100.0,91.9h0M1101.7,75.5h0M1103.4,90.4h0M1105.1,81.6h0M1106.8,91.4h0M1108.4,77.6h0M1110.1,78.3h0M1111.8,80.7h0M1113.5,62.4h0M1115.2,68.1h0M1116.8,73.5h0M1118.5,78.2h0M1120.2,54.3h0M1121.9,53.3h0M1123.5,57.1h0M1125.2,54.8h0M1126.9,74.4h0M1128.6,71.5h0M1130.3,77.4h0M1131.9,68.6h0M1133.6,36.2h0M1135.3,46.0h0M1137.0,48.4h0M1138.7,74.3h0M1140.3,66.6h0M1142.0,43.3h0M1143.7,56.2h0M1145.4,32.6h0M1147.0,66.7h0M1148.7,47.9h0M1150.4,34.0h0M1152.1,67.8h0M1153.8,43.5h0M1155.4,42.0h0M1157.1,62.1h0M1158.8,57.7h0M1160.5,62.1h0M1162.1,63.1h0M1163.8,39.4h0M1165.5,50.8h0M1167.2,50.0h0M1168.9,38.3h0M1170.5,40.4h0M1172.2,78.5h0M1173.9,26.6h0M1175.6,59.6h0M1177.3,58.7h0M1178.9,37.3h0M1180.6,43.5h0M1182.3,72.6h0M1184.0,113.6h0M1185.6,144.4h0M1187.3,145.0h0M1189.0,110.7h0M1190.7,74.5h0M1192.4,114.9h0M1194.0,67.4h0M1195.7,105.5h0M1197.4,71.9h0M1199.1,101.9h0M1200.8,100.5h0M1202.4,80.9h0M1204.1,97.8h0M1205.8,96.1h0M1207.5,106.9h0M1209.1,64.8h0M1210.8,101.1h0M1212.5,101.7h0M1214.2,81.3h0M1215.9,92.7h0M1217.5,89.5h0M1219.2,78.6h0M1220.9,105.0h0M1222.6,106.3h0M1224.2,77.8h0M1225.9,76.8h0M1227.6,105.8h0M1229.3,64.8h0M1231.0,77.6h0M1232.6,128.8h0M1234.3,71.7h0M1236.0,98.0h0M1237.7,110.3h0M1239.4,112.9h0M1241.0,77.9h0M1242.7,105.7h0M1244.4,88.1h0M1246.1,94.5h0M1247.7,92.5h0M1249.4,104.3h0M1251.1,108.9h0M1252.8,98.1h0M1254.5,99.8h0M1256.1,84.4h0M1257.8,94.0h0M1259.5,107.2h0M1261.2,83.3h0M1262.8,110.9h0M1264.5,118.5h0M1266.2,102.5h0M1267.9,117.7h0M1269.6,113.8h0M1271.2,106.9h0M1272.9,111.0h0M1274.6,98.4h0M1276.3,87.8h0M1278.0,101.5h0M1279.6,101.6h0M1281.3,107.1h0M1283.0,125.5h0M1284.7,130.9h0M1286.3,121.2h0M1288.0,108.3h0M1289.7,91.3h0M1291.4,137.1h0M1293.1,130.7h0M1294.7,107.4h0M1296.4,104.0h0M1298.1,140.7h0M1299.8,124.1h0M1301.5,118.3h0M1303.1,113.4h0M1304.8,121.1h0M1306.5,113.2h0M1308.2,117.1h0M1309.8,140.0h0M1311.5,128.7h0M1313.2,143.2h0M1314.9,131.1h0M1316.6,125.9h0M1318.2,138.3h0M1319.9,137.6h0M1321.6,148.2h0M1323.3,141.9h0M1324.9,142.2h0M1326.6,154.8h0M1328.3,132.3h0M1330.0,143.1h0M1331.7,159.2h0M1333.3,192.3h0M1335.0,164.1h0M1336.7,166.4h0M1338.4,183.4h0M1340.1,170.2h0M1341.7,186.5h0M1343.4,175.3h0M1345.1,178.9h0M1346.8,175.7h0M1348.4,180.5h0M1350.1,179.0h0M1351.8,173.5h0M1353.5,197.6h0M1355.2,180.1h0M1356.8,192.9h0M1358.5,195.1h0M1360.2,180.9h0M1361.9,187.5h0M1363.5,193.5h0M1365.2,185.4h0M1366.9,189.6h0M1368.6,202.9h0M1370.3,199.4h0M1371.9,192.9h0M1373.6,212.7h0M1375.3,194.7h0M1377.0,205.0h0M1378.7,209.4h0M1380.3,202.4h0M1382.0,195.7h0M1383.7,196.1h0M1385.4,198.4h0M1387.0,187.4h0M1388.7,208.1h0M1390.4,201.3h0M1392.1,204.1h0M1393.8,219.3h0M1395.4,187.9h0M1397.1,201.2h0M1398.8,189.3h0M1400.5,185.6h0M1402.2,196.1h0M1403.8,203.4h0M1405.5,203.6h0M1407.2,182.5h0M1408.9,187.9h0M1410.5,190.1h0M1412.2,194.9h0M1413.9,192.6h0M1415.6,189.9h0M1417.3,198.3h0M1418.9,180.4h0M1420.6,192.0h0M1422.3,193.2h0M1424.0,194.3h0M1425.6,181.1h0M1427.3,175.3h0M1429.0,178.8h0M1430.7,174.7h0M1432.4,170.6h0M1434.0,186.7h0M1435.7,174.7h0M1437.4,187.5h0M1439.1,176.6h0M1440.8,170.4h0M1442.4,180.7h0M1444.1,177.7h0M1445.8,175.1h0M1447.5,158.9h0M1449.1,167.3h0M1450.8,163.2h0M1452.5,169.8h0M1454.2,182.9h0M1455.9,163.4h0M1457.5,161.5h0M1459.2,173.6h0M1460.9,166.3h0M1462.6,162.3h0M1464.2,155.8h0M1465.9,166.6h0M1467.6,150.7h0M1469.3,156.9h0M1471.0,153.3h0M1472.6,163.0h0M1474.3,170.1h0M1476.0,145.9h0M1477.7,157.9h0M1479.4,155.9h0M1481.0,166.1h0M1482.7,151.1h0M1484.4,149.0h0M1486.1,148.6h0M1487.7,147.0h0M1489.4,161.7h0M1491.1,148.7h0M1492.8,149.4h0M1494.5,169.4h0M1496.1,149.2h0M1497.8,149.7h0M1499.5,155.1h0M1501.2,164.3h0M1502.9,147.2h0M1504.5,162.5h0M1506.2,146.4h0M1507.9,153.5h0M1509.6,145.6h0M1511.2,158.8h0M1512.9,158.1h0M1514.6,170.0h0M1516.3,135.0h0M1518.0,142.8h0M1519.6,152.9h0M1521.3,143.7h0M1523.0,162.6h0M1524.7,160.2h0M1526.3,154.3h0M1528.0,150.0h0M1529.7,153.0h0M1531.4,156.0h0M1533.1,149.7h0M1534.7,168.4h0M1536.4,147.7h0M1538.1,147.4h0M1539.8,161.7h0M1541.5,147.8h0M1543.1,144.9h0M1544.8,154.0h0M1546.5,152.6h0M1548.2,152.3h0M1549.8,153.4h0M1551.5,150.9h0M1553.2,162.7h0M1554.9,162.8h0M1556.6,175.2h0M1558.2,218.4h0M1559.9,314.4h0M1561.6,277.1h0M1563.3,269.3h0M1564.9,258.0h0M1566.6,260.2h0M1568.3,249.4h0M1570.0,266.1h0M1571.7,254.3h0M1573.3,255.2h0M1575.0,257.1h0M1576.7,233.5h0M1578.4,241.0h0M1580.1,232.1h0M1581.7,221.6h0M1583.4,217.4h0M1585.1,222.5h0M1586.8,222.0h0M1588.4,212.1h0M1590.1,189.6h0M1591.8,190.9h0M1593.5,175.7h0M1595.2,202.3h0M1596.8,176.4h0M1598.5,183.0h0M1600.2,180.2h0M1601.9,172.4h0M1603.6,181.2h0M1605.2,167.1h0M1606.9,179.1h0M1608.6,165.2h0M1610.3,175.7h0M1611.9,167.8h0M1613.6,168.9h0M1615.3,183.9h0M1617.0,161.4h0M1618.7,171.2h0M1620.3,161.3h0M1622.0,160.2h0M1623.7,161.6h0M1625.4,153.9h0M1627.0,158.1h0M1628.7,147.5h0M1630.4,153.6h0M1632.1,151.3h0M1633.8,148.4h0M1635.4,173.1h0M1637.1,141.8h0M1638.8,143.8h0M1640.5,145.2h0M1642.2,160.3h0M1643.8,157.2h0M1645.5,146.0h0M1647.2,155.0h0M1648.9,146.6h0M1650.5,146.0h0M1652.2,134.1h0M1653.9,154.8h0M1655.6,180.5h0M1657.3,159.9h0M1658.9,154.8h0M1660.6,160.6h0M1662.3,166.3h0" stroke="rgb(226,133,62)" stroke-width="2.4" stroke-linecap="round" fill="none"/>
</g>
<text x="1049.7" y="438.4" font-size="23.75" text-anchor="middle" fill="#424242" textLength="59.5" lengthAdjust="spacingAndGlyphs">1995</text>
<text x="1150.4" y="438.4" font-size="23.75" text-anchor="middle" fill="#424242" textLength="59.5" lengthAdjust="spacingAndGlyphs">2000</text>
<text x="1251.1" y="438.4" font-size="23.75" text-anchor="middle" fill="#424242" textLength="59.5" lengthAdjust="spacingAndGlyphs">2005</text>
<text x="1351.8" y="438.4" font-size="23.75" text-anchor="middle" fill="#424242" textLength="59.5" lengthAdjust="spacingAndGlyphs">2010</text>
<text x="1452.5" y="438.4" font-size="23.75" text-anchor="middle" fill="#424242" textLength="59.5" lengthAdjust="spacingAndGlyphs">2015</text>
<text x="1553.2" y="438.4" font-size="23.75" text-anchor="middle" fill="#424242" textLength="59.5" lengthAdjust="spacingAndGlyphs">2020</text>
<text x="1653.9" y="438.4" font-size="23.75" text-anchor="middle" fill="#424242" textLength="59.5" lengthAdjust="spacingAndGlyphs">2025</text>
<text x="1031.5" y="409.0" font-size="23.75" text-anchor="end" fill="#424242" textLength="14.9" lengthAdjust="spacingAndGlyphs">0</text>
<text x="1031.5" y="356.0" font-size="23.75" text-anchor="end" fill="#424242" textLength="14.9" lengthAdjust="spacingAndGlyphs">5</text>
<text x="1031.5" y="303.0" font-size="23.75" text-anchor="end" fill="#424242" textLength="29.8" lengthAdjust="spacingAndGlyphs">10</text>
<text x="1031.5" y="250.0" font-size="23.75" text-anchor="end" fill="#424242" textLength="29.8" lengthAdjust="spacingAndGlyphs">15</text>
<text x="1031.5" y="197.1" font-size="23.75" text-anchor="end" fill="#424242" textLength="29.8" lengthAdjust="spacingAndGlyphs">20</text>
<text x="1031.5" y="144.1" font-size="23.75" text-anchor="end" fill="#424242" textLength="29.8" lengthAdjust="spacingAndGlyphs">25</text>
<text x="1031.5" y="91.1" font-size="23.75" text-anchor="end" fill="#424242" textLength="29.8" lengthAdjust="spacingAndGlyphs">30</text>
<text x="1031.5" y="38.1" font-size="23.75" text-anchor="end" fill="#424242" textLength="29.8" lengthAdjust="spacingAndGlyphs">35</text>
<g transform="translate(972.2,208.4) rotate(-90)"><text x="0.0" y="0.0" font-size="30.35" text-anchor="middle" fill="#424242" textLength="174.5" lengthAdjust="spacingAndGlyphs">VALUE (M$)</text></g>
<text x="1716.0" y="40.6" font-size="29.03" text-anchor="start" fill="#424242" textLength="122.0" lengthAdjust="spacingAndGlyphs">BORDER</text>
<path d="M1719,64.6H1759" stroke="rgb(74,112,176)" stroke-width="1.5"/><circle cx="1739.0" cy="64.6" r="1.6" fill="rgb(74,112,176)"/><text x="1766.0" y="73.2" font-size="23.75" text-anchor="start" fill="#424242" textLength="131.7" lengthAdjust="spacingAndGlyphs">US-Canada</text>
<path d="M1719,99.6H1759" stroke="rgb(226,133,62)" stroke-width="1.5"/><circle cx="1739.0" cy="99.6" r="1.6" fill="rgb(226,133,62)"/><text x="1766.0" y="108.2" font-size="23.75" text-anchor="start" fill="#424242" textLength="124.1" lengthAdjust="spacingAndGlyphs">US-Mexico</text>
</g>
<g id="memap">
<text x="407.5" y="596.0" font-size="33.09" text-anchor="middle" fill="#424242" textLength="301.9" lengthAdjust="spacingAndGlyphs">Port Map of Maine</text>
<clipPath id="cm"><rect x="14.6" y="663.0" width="784.1999999999999" height="356.9"/></clipPath>
<g clip-path="url(#cm)"><rect x="14.6" y="663.0" width="784.1999999999999" height="356.9" fill="#fbfaf6"/>
<path d="M304.4,1019.9L306.1,1011.0L308.8,1004.0L318.5,993.3L325.6,988.0L329.2,982.7L336.3,984.5L338.0,975.6L343.3,979.2L346.9,972.1L354.0,976.5L357.5,968.5L364.6,972.1L368.1,966.8L375.2,970.3L380.5,965.0L384.1,954.4L387.6,947.3L392.9,938.4L398.2,929.6L400.9,925.2L404.4,933.1L408.9,941.1L417.7,942.0L424.8,938.4L433.6,941.1L440.7,939.3L447.8,931.4L456.7,924.3L462.0,920.7L469.1,922.5L474.4,915.4L483.2,913.6L490.3,910.1L499.2,909.2L506.3,906.6L510.0,900.0L517.6,886.9L530.4,880.5L546.2,874.2L552.6,869.4L558.9,864.7L563.7,859.9L565.3,850.4L567.7,851.1L566.9,859.9L571.7,864.7L578.0,864.7L587.5,859.9L597.1,853.5L606.6,847.2L616.1,840.8L627.2,834.5L636.8,829.7L644.7,826.5L651.1,818.6L655.8,812.2L658.2,808.3L660.6,815.4L658.2,821.8L665.4,815.4L670.9,808.3L673.3,815.4L668.5,821.8L660.6,829.7L652.7,837.6L644.7,844.0L638.4,848.8L633.6,853.5L644.7,856.7L647.9,853.5L657.4,851.1L670.1,851.9L684.4,850.4L700.3,851.9L720.0,852.7L726.8,854.5L712.4,858.3L699.0,856.4L685.6,860.2L681.8,869.8L682.7,884.2L679.9,877.5L678.0,876.5L670.3,875.6L666.5,871.7L667.4,862.2L658.8,866.0L647.3,871.7L632.0,879.4L616.6,890.9L603.2,902.4L584.1,915.8L576.4,921.6L566.8,935.0L561.1,946.5L557.2,961.8L559.2,977.1L563.0,990.5L568.7,988.6L578.3,992.4L584.1,1003.9L591.7,1013.5L597.5,1009.7L607.1,1003.9L612.8,992.4L622.4,992.4L632.0,986.7L639.6,979.0L647.3,969.5L655.0,961.8L662.6,952.2L670.3,944.5L668.4,933.0L674.1,927.3L685.6,928.3L697.1,927.3L706.7,930.2L716.3,929.2L723.9,923.5L731.6,915.8L739.3,909.1L748.9,910.1L760.3,906.2L775.7,900.5L787.2,896.6L798.7,889.9L798.8,1019.9L304.4,1019.9ZM634.8,663.0L632.9,676.1L630.1,685.7L624.3,693.3L630.1,699.1L635.8,704.8L639.6,710.6L635.8,720.1L637.7,731.6L643.5,741.2L646.3,754.6L651.1,764.2L655.0,771.9L658.8,779.5L666.5,787.2L678.0,794.9L683.7,796.8L693.3,802.5L702.9,808.3L712.4,814.0L727.8,819.8L741.2,817.9L760.3,827.4L769.9,831.3L779.5,827.4L798.7,823.6L798.8,663.0ZM257.7,723.9L267.1,714.6L276.4,705.2L285.8,694.7L293.9,683.0L302.1,672.5L311.5,663.2L334.8,663.2L325.5,673.7L313.8,687.7L304.5,699.4L290.4,712.3L278.8,719.3L267.1,725.1L258.9,727.4ZM171.3,770.0L161.9,774.2L150.2,778.9L144.4,784.7L150.2,785.9L161.9,781.7L172.4,774.2ZM119.8,816.3L112.8,822.1L102.3,832.6L91.8,842.0L80.1,853.6L69.6,861.8L63.8,866.5L69.6,867.7L80.1,860.7L89.5,852.5L100.0,843.1L110.5,832.6L118.7,822.1ZM87.1,858.3L75.4,865.3L61.4,873.5L49.7,880.5L45.1,885.2L50.9,885.2L63.8,877.0L77.8,868.8L89.5,861.8ZM132.0,880.0L137.0,879.0L136.0,890.0L140.0,880.0L142.0,881.0L137.0,897.0L132.0,915.0L130.0,935.0L129.0,950.0L127.0,968.0L125.5,1000.0L124.0,1000.0L124.5,968.0L125.5,945.0L124.0,925.0L123.0,913.0L127.0,895.0ZM358.0,785.0L362.0,783.0L366.0,792.0L370.0,803.0L366.0,806.0L361.0,796.0ZM346.0,829.0L352.0,828.0L356.0,838.0L351.0,842.0L347.0,836.0ZM559.0,812.0L566.0,800.0L572.0,793.0L575.0,795.0L569.0,805.0L562.0,814.0ZM617.0,950.0L624.0,946.0L631.0,948.0L630.0,956.0L622.0,960.0L617.0,956.0ZM291.0,977.0L297.0,976.0L299.0,984.0L295.0,989.0L291.0,985.0ZM240.0,996.0L247.0,992.0L254.0,996.0L253.0,1004.0L246.0,1007.0L241.0,1003.0ZM401.0,852.0L405.0,850.0L408.0,858.0L404.0,862.0ZM582.8,917.1L593.9,908.3L603.4,903.6L604.7,905.2L595.5,910.7L584.4,919.0Z" fill="#d3e1e5" stroke="#d3e1e5" stroke-width="0.8" stroke-linejoin="round"/>
<path d="M257.7,725.6L243.7,733.3L227.3,739.1L211.0,742.6L197.0,750.8L182.9,763.7L171.3,771.8L161.9,777.7L150.2,782.4L140.9,789.4L131.5,799.9L119.8,816.3L110.5,827.9L96.5,844.3L80.1,860.7L63.8,870.0L49.7,882.9L35.7,891.0L24.0,895.7" fill="none" stroke="#d3e1e5" stroke-width="3.2" stroke-linejoin="round" stroke-linecap="round"/>
<path d="M688.5,708.7L685.6,727.8L691.4,739.3L697.1,750.8L700.0,759.4L706.7,754.6L723.9,756.6L731.6,762.3L741.2,766.1L758.4,763.3L775.7,760.4L799.1,759.4L799.1,767.1L789.1,770.0L777.6,777.6L779.5,793.0L768.0,800.6L757.5,798.7L752.7,788.2L743.1,787.2L731.6,785.3L720.1,782.4L710.5,776.7L703.8,769.0L693.3,760.0L683.7,758.5L681.8,746.0L674.1,744.1L665.5,739.3L674.1,725.9ZM515.1,915.4L520.4,909.2L525.7,915.4ZM263.6,722.8L269.4,716.2L277.6,709.9L279.2,712.3L270.6,719.3Z" fill="#fbfaf6"/>
<path d="M312.0,998.0L336.0,960.0L372.0,900.0L392.0,878.0L410.0,852.0L420.0,822.0L432.0,800.0L461.0,787.0M120.0,846.0L150.0,828.0L200.0,792.0L240.0,760.0L262.0,733.0M262.0,733.0L300.0,760.0L330.0,790.0L352.0,830.0M120.0,846.0L160.0,850.0L200.0,868.0L238.0,884.0M461.0,787.0L500.0,800.0L540.0,812.0L580.0,818.0L640.0,812.0L672.0,800.0M672.0,800.0L700.0,830.0L720.0,870.0L723.0,917.0M566.0,850.0L590.0,840.0L640.0,812.0M723.0,917.0L690.0,905.0L650.0,885.0L620.0,900.0L585.0,925.0L566.0,985.0" fill="none" stroke="#f6f0dc" stroke-width="1.3" stroke-linejoin="round"/>
<path d="M14.7,893.4L24.0,887.5L45.1,885.7L220.3,885.2L225.0,884.4L238.4,883.4L240.4,867.0L247.6,860.8L262.0,860.8L269.2,856.7L280.5,852.6L284.6,842.3L292.8,830.0L307.2,805.3L308.3,795.0L313.0,770.0L316.0,748.0L325.0,727.0L332.0,716.0L345.0,700.0L352.0,690.0L372.0,676.0L395.0,671.0L411.0,688.0L427.0,677.0L445.0,692.0L458.0,712.0L461.0,790.0L460.5,815.0L465.0,828.0L482.0,852.0L490.0,868.0L498.0,880.0L508.0,893.0" fill="none" stroke="#e6d6da" stroke-width="1.2" stroke-linejoin="round"/>
<path d="M265.1,858.7L268.5,1019.5M237.1,883.0L231.0,902.0L225.1,921.4L205.0,945.5L203.0,965.0L201.0,981.6L196.9,1019.0" fill="none" stroke="#e4e2dd" stroke-width="1"/>
<text x="197.5" y="736.0" font-size="15.5" text-anchor="start" fill="#414d6e" textLength="58.0" lengthAdjust="spacingAndGlyphs" font-weight="bold">Quebec</text>
<circle cx="263.3" cy="730.8" r="2.2" fill="#333"/>
<text x="46.5" y="850.2" font-size="15.5" text-anchor="start" fill="#414d6e" textLength="68.0" lengthAdjust="spacingAndGlyphs" font-weight="bold">Montreal</text>
<circle cx="120.6" cy="845.0" r="2.2" fill="#333"/>
<text x="633.0" y="786.6" font-size="15.5" text-anchor="start" fill="#414d6e" textLength="111.0" lengthAdjust="spacingAndGlyphs" font-weight="bold">Charlottetown</text>
<circle cx="749.7" cy="781.5" r="2.2" fill="#333"/>
<text x="664.5" y="922.5" font-size="15.5" text-anchor="start" fill="#414d6e" textLength="51.0" lengthAdjust="spacingAndGlyphs" font-weight="bold">Halifax</text>
<circle cx="722.7" cy="917.3" r="2.2" fill="#333"/>
<text x="137.0" y="924.0" font-size="14.5" text-anchor="start" fill="#8b93a6" textLength="79.0" lengthAdjust="spacingAndGlyphs" font-weight="bold">VERMONT</text>
<text x="686.0" y="873.5" font-size="14.5" text-anchor="start" fill="#8b93a6" textLength="108.0" lengthAdjust="spacingAndGlyphs" font-weight="bold">NOVA SCOTIA</text>
<circle cx="426.9" cy="676.5" r="12.7" fill="rgb(76,114,176)" fill-opacity="0.88"/>
<circle cx="411.3" cy="688.2" r="12.7" fill="rgb(76,114,176)" fill-opacity="0.88"/>
<circle cx="451.3" cy="698.5" r="12.7" fill="rgb(76,114,176)" fill-opacity="0.88"/>
<circle cx="461.0" cy="718.1" r="12.7" fill="rgb(76,114,176)" fill-opacity="0.88"/>
<circle cx="461.0" cy="732.0" r="12.7" fill="rgb(76,114,176)" fill-opacity="0.88"/>
<circle cx="461.0" cy="759.5" r="12.7" fill="rgb(76,114,176)" fill-opacity="0.88"/>
<circle cx="461.0" cy="787.4" r="12.7" fill="rgb(76,114,176)" fill-opacity="0.88"/>
<circle cx="482.4" cy="836.1" r="12.7" fill="rgb(76,114,176)" fill-opacity="0.88"/>
<circle cx="491.7" cy="868.8" r="12.7" fill="rgb(76,114,176)" fill-opacity="0.88"/>
<circle cx="509.6" cy="897.2" r="12.7" fill="rgb(76,114,176)" fill-opacity="0.88"/>
<circle cx="434.6" cy="936.4" r="12.7" fill="rgb(76,114,176)" fill-opacity="0.88"/>
<circle cx="303.2" cy="816.3" r="12.7" fill="rgb(76,114,176)" fill-opacity="0.88"/>
<circle cx="312.5" cy="998.3" r="12.7" fill="rgb(76,114,176)" fill-opacity="0.88"/>
<text x="342.6" y="697.2" font-size="21.5" text-anchor="start" fill="#3d3d3d" textLength="95.5" lengthAdjust="spacingAndGlyphs">Fort Kent</text>
<text x="375.6" y="768.6" font-size="21.5" text-anchor="start" fill="#3d3d3d" textLength="172.6" lengthAdjust="spacingAndGlyphs">Bridgewater, ME</text>
<text x="235.3" y="824.8" font-size="21.5" text-anchor="start" fill="#3d3d3d" textLength="136.0" lengthAdjust="spacingAndGlyphs">Jackman, ME</text>
<text x="438.8" y="877.3" font-size="21.5" text-anchor="start" fill="#3d3d3d" textLength="107.0" lengthAdjust="spacingAndGlyphs">Calais, ME</text>
<text x="354.5" y="944.6" font-size="21.5" text-anchor="start" fill="#3d3d3d" textLength="161.0" lengthAdjust="spacingAndGlyphs">Bar Harbor, ME</text>
<text x="246.2" y="1006.8" font-size="21.5" text-anchor="start" fill="#3d3d3d" textLength="134.2" lengthAdjust="spacingAndGlyphs">Portland, ME</text>
</g>
<path d="M429.9,680.2L438,673.6V655.7H622.4V704.2H438V686.7Z" fill="rgb(76,114,176)" stroke="#f4f6fa" stroke-width="1"/>
<text x="442.2" y="673.6" font-size="17" text-anchor="start" fill="#fff" textLength="126.2" lengthAdjust="spacingAndGlyphs">Madawaska, ME</text>
<text x="442.2" y="695.6" font-size="17" text-anchor="start" fill="#fff" textLength="175.8" lengthAdjust="spacingAndGlyphs">Total Value (M$): 43.36</text>
<rect x="14.3" y="1028.1" width="784.5" height="31.8" rx="4" fill="#fff" stroke="#111" stroke-width="2"/>
<path d="M15.6,1040.1L25.5,1045.4L15.6,1051Z" fill="#2a2a2a"/>
</g>
<g id="chart2">
<path d="M1049.8,609.5V1020.5M1148.2,609.5V1020.5M1246.6,609.5V1020.5M1345.0,609.5V1020.5M1443.4,609.5V1020.5M1541.8,609.5V1020.5M1640.2,609.5V1020.5M1032.5,936.6H1683.5M1032.5,877.2H1683.5M1032.5,817.8H1683.5M1032.5,758.4H1683.5M1032.5,699.0H1683.5M1032.5,639.6H1683.5" stroke="#eeeeee" stroke-width="1.3" fill="none"/>
<path d="M1032.5,996.0H1683.5" stroke="#4a4a4a" stroke-width="1.8"/>
<clipPath id="c2"><rect x="1032.5" y="609.5" width="651.0" height="411.0"/></clipPath><g clip-path="url(#c2)">
<path d="M1069.5,991.2L1069.5,991.5L1071.1,991.9L1072.8,992.4L1074.4,991.8L1076.0,989.9L1077.7,988.7L1079.3,986.0L1081.0,985.5L1082.6,988.7L1084.2,989.7L1085.9,991.2L1087.5,991.8L1089.2,992.2L1090.8,992.6L1092.4,991.6L1094.1,990.7L1095.7,989.8L1097.4,989.0L1099.0,986.2L1100.6,985.6L1102.3,989.4L1103.9,990.4L1105.6,991.3L1107.2,991.7L1108.8,992.2L1110.5,992.0L1112.1,991.8L1113.8,991.2L1115.4,990.6L1117.0,989.6L1118.7,986.4L1120.3,985.7L1122.0,988.9L1123.6,989.3L1125.2,991.1L1126.9,991.8L1128.5,991.6L1130.2,992.1L1131.8,991.6L1133.4,990.8L1135.1,990.0L1136.7,988.7L1138.4,986.3L1140.0,984.7L1141.6,988.3L1143.3,990.3L1144.9,991.0L1146.6,991.2L1148.2,992.1L1149.8,992.4L1151.5,991.9L1153.1,990.8L1154.8,990.3L1156.4,988.6L1158.0,986.3L1159.7,984.9L1161.3,988.4L1163.0,989.9L1164.6,991.2L1166.2,990.9L1167.9,992.0L1169.5,992.5L1171.2,992.4L1172.8,992.0L1174.4,990.9L1176.1,990.8L1177.7,988.2L1179.4,988.4L1181.0,989.8L1182.6,991.1L1184.3,991.2L1185.9,991.6L1195.8,992.8L1197.4,990.7L1199.0,990.1L1200.7,992.7L1202.3,993.5L1215.4,992.8L1217.1,990.7L1218.7,990.1L1220.4,992.7L1222.0,993.5L1235.1,992.8L1236.8,990.7L1238.4,990.1L1240.0,992.7L1241.7,993.5L1254.8,992.8L1256.4,990.7L1258.1,990.1L1259.7,992.7L1261.4,993.5L1274.5,992.8L1276.1,990.7L1277.8,990.1L1279.4,992.7L1281.0,993.5L1294.2,992.8L1295.8,990.7L1297.4,990.1L1299.1,992.7L1300.7,993.5L1313.8,992.8L1315.5,990.7L1317.1,990.1L1318.8,992.7L1320.4,993.5L1337.1,995.4L1443.4,999.6L1545.7,998.4L1591.0,994.8L1612.6,992.4L1632.3,993.0L1648.1,994.2" fill="none" stroke="rgb(76,114,176)" stroke-width="1.5" stroke-linejoin="round"/><path d="M1069.5,991.2h0M1069.5,991.5h0M1071.1,991.9h0M1072.8,992.4h0M1074.4,991.8h0M1076.0,989.9h0M1077.7,988.7h0M1079.3,986.0h0M1081.0,985.5h0M1082.6,988.7h0M1084.2,989.7h0M1085.9,991.2h0M1087.5,991.8h0M1089.2,992.2h0M1090.8,992.6h0M1092.4,991.6h0M1094.1,990.7h0M1095.7,989.8h0M1097.4,989.0h0M1099.0,986.2h0M1100.6,985.6h0M1102.3,989.4h0M1103.9,990.4h0M1105.6,991.3h0M1107.2,991.7h0M1108.8,992.2h0M1110.5,992.0h0M1112.1,991.8h0M1113.8,991.2h0M1115.4,990.6h0M1117.0,989.6h0M1118.7,986.4h0M1120.3,985.7h0M1122.0,988.9h0M1123.6,989.3h0M1125.2,991.1h0M1126.9,991.8h0M1128.5,991.6h0M1130.2,992.1h0M1131.8,991.6h0M1133.4,990.8h0M1135.1,990.0h0M1136.7,988.7h0M1138.4,986.3h0M1140.0,984.7h0M1141.6,988.3h0M1143.3,990.3h0M1144.9,991.0h0M1146.6,991.2h0M1148.2,992.1h0M1149.8,992.4h0M1151.5,991.9h0M1153.1,990.8h0M1154.8,990.3h0M1156.4,988.6h0M1158.0,986.3h0M1159.7,984.9h0M1161.3,988.4h0M1163.0,989.9h0M1164.6,991.2h0M1166.2,990.9h0M1167.9,992.0h0M1169.5,992.5h0M1171.2,992.4h0M1172.8,992.0h0M1174.4,990.9h0M1176.1,990.8h0M1177.7,988.2h0M1179.4,988.4h0M1181.0,989.8h0M1182.6,991.1h0M1184.3,991.2h0M1185.9,991.6h0M1195.8,992.8h0M1197.4,990.7h0M1199.0,990.1h0M1200.7,992.7h0M1202.3,993.5h0M1215.4,992.8h0M1217.1,990.7h0M1218.7,990.1h0M1220.4,992.7h0M1222.0,993.5h0M1235.1,992.8h0M1236.8,990.7h0M1238.4,990.1h0M1240.0,992.7h0M1241.7,993.5h0M1254.8,992.8h0M1256.4,990.7h0M1258.1,990.1h0M1259.7,992.7h0M1261.4,993.5h0M1274.5,992.8h0M1276.1,990.7h0M1277.8,990.1h0M1279.4,992.7h0M1281.0,993.5h0M1294.2,992.8h0M1295.8,990.7h0M1297.4,990.1h0M1299.1,992.7h0M1300.7,993.5h0M1313.8,992.8h0M1315.5,990.7h0M1317.1,990.1h0M1318.8,992.7h0M1320.4,993.5h0M1337.1,995.4h0M1443.4,999.6h0M1545.7,998.4h0M1591.0,994.8h0M1612.6,992.4h0M1632.3,993.0h0M1648.1,994.2h0" stroke="rgb(76,114,176)" stroke-width="2.2" stroke-linecap="round" fill="none"/>
<path d="M1069.5,937.7L1071.1,935.0L1072.8,932.7L1074.4,931.3L1076.0,929.9L1077.7,920.5L1079.3,915.4L1081.0,917.4L1082.6,924.0L1084.2,929.9L1085.9,937.6L1087.5,935.4L1089.2,936.7L1090.8,943.9L1092.4,934.2L1094.1,936.6L1095.7,932.7L1097.4,930.6L1099.0,916.6L1100.6,918.2L1102.3,923.4L1103.9,929.3L1105.6,940.2L1107.2,938.7L1108.8,940.5L1110.5,946.4L1112.1,935.6L1113.8,938.3L1115.4,936.4L1117.0,926.2L1118.7,927.8L1120.3,919.4L1122.0,930.4L1123.6,932.8L1125.2,940.3L1126.9,940.2L1128.5,946.4L1130.2,950.1L1131.8,939.3L1133.4,942.3L1135.1,933.2L1136.7,934.7L1138.4,922.4L1140.0,922.3L1141.6,930.0L1143.3,933.2L1144.9,940.4L1146.6,940.2L1148.2,949.2L1149.8,948.1L1151.5,941.9L1153.1,944.9L1154.8,934.1L1156.4,930.4L1158.0,930.0L1159.7,929.5L1161.3,935.1L1163.0,939.1L1164.6,938.7L1166.2,945.7L1167.9,952.4L1169.5,954.0L1171.2,945.1L1172.8,939.6L1174.4,940.4L1176.1,936.4L1177.7,930.8L1179.4,928.1L1181.0,939.5L1182.6,939.2L1184.3,945.0L1185.9,945.6L1187.6,953.1L1189.2,955.5L1190.8,950.9L1192.5,942.5L1194.1,944.0L1195.8,937.6L1197.4,935.4L1199.0,936.5L1200.7,943.3L1202.3,939.4L1204.0,945.2L1205.6,950.2L1207.2,950.6L1208.9,952.9L1210.5,947.9L1212.2,944.4L1213.8,945.7L1215.4,936.3L1217.1,931.7L1218.7,934.5L1220.4,938.0L1222.0,945.0L1223.6,951.3L1225.3,953.7L1226.9,950.8L1228.6,959.8L1230.2,957.9L1231.8,948.1L1233.5,944.7L1235.1,943.8L1236.8,935.8L1238.4,942.6L1240.0,946.6L1241.7,949.4L1243.3,953.1L1245.0,956.6L1246.6,960.6L1248.2,960.1L1249.9,952.1L1251.5,948.7L1253.2,947.5L1254.8,946.5L1256.4,944.3L1258.1,936.9L1259.7,946.8L1261.4,947.8L1263.0,959.1L1264.6,958.5L1266.3,955.4L1267.9,957.7L1269.6,954.3L1271.2,954.5L1272.8,952.8L1274.5,948.0L1276.1,941.2L1277.8,945.7L1279.4,948.9L1281.0,954.1L1282.7,953.9L1284.3,962.1L1286.0,958.4L1287.6,957.7L1289.2,964.1L1290.9,956.3L1292.5,952.6L1294.2,947.4L1295.8,945.9L1297.4,948.4L1299.1,952.1L1300.7,949.5L1302.4,954.3L1304.0,962.6L1305.6,965.5L1307.3,967.3L1308.9,965.7L1310.6,959.4L1312.2,959.2L1313.8,949.2L1315.5,947.4L1317.1,951.8L1318.8,952.9L1320.4,957.4L1322.0,959.9L1323.7,963.4L1325.3,966.4L1327.0,967.9L1328.6,963.9L1330.2,958.6L1331.9,957.2L1333.5,959.0L1335.2,949.1L1336.8,947.0L1338.4,952.6L1340.1,954.9L1341.7,966.2L1343.4,962.8L1345.0,969.0L1346.6,963.8L1348.3,967.3L1349.9,960.0L1351.6,961.5L1353.2,954.4L1354.8,954.5L1356.5,956.4L1358.1,957.6L1359.8,960.6L1361.4,958.7L1363.0,965.2L1364.7,965.5L1366.3,966.5L1368.0,960.6L1369.6,966.6L1371.2,959.0L1372.9,957.1L1374.5,951.4L1376.2,948.6L1377.8,959.2L1379.4,957.7L1381.1,963.0L1382.7,963.4L1384.4,970.3L1386.0,964.7L1387.6,961.1L1389.3,964.9L1390.9,962.5L1392.6,953.4L1394.2,958.4L1395.8,958.0L1397.5,962.3L1399.1,957.5L1400.8,961.5L1402.4,965.2L1404.0,965.7L1405.7,972.9L1407.3,964.9L1409.0,964.9L1410.6,961.5L1412.2,960.0L1413.9,956.5L1415.5,957.6L1417.2,963.5L1418.8,961.9L1420.4,967.2L1422.1,963.6L1423.7,964.6L1425.4,966.9L1427.0,967.4L1428.6,967.6L1430.3,963.5L1431.9,960.0L1433.6,955.3L1435.2,951.6L1436.8,964.0L1438.5,962.3L1440.1,965.6L1441.8,964.2L1443.4,964.6L1445.0,967.0L1446.7,966.5L1448.3,963.4L1450.0,961.7L1451.6,957.3L1453.2,955.7L1454.9,955.2L1456.5,963.4L1458.2,959.0L1459.8,967.4L1461.4,965.9L1463.1,965.9L1464.7,965.9L1466.4,963.8L1468.0,971.3L1469.6,965.9L1471.3,963.4L1472.9,959.6L1474.6,961.3L1476.2,961.3L1477.8,967.8L1479.5,968.9L1481.1,963.5L1482.8,967.4L1484.4,971.3L1486.0,972.9L1487.7,963.0L1489.3,963.0L1491.0,965.3L1492.6,961.1L1494.2,957.6L1495.9,961.0L1497.5,966.9L1499.2,963.5L1500.8,970.2L1502.4,972.7L1504.1,968.4L1505.7,973.2L1507.4,966.4L1509.0,968.6L1510.6,962.5L1512.3,962.6L1513.9,961.1L1515.6,959.4L1517.2,965.8L1518.8,969.1L1520.5,968.1L1522.1,973.1L1523.8,975.3L1525.4,971.6L1527.0,970.8L1528.7,969.3L1530.3,959.5L1532.0,965.4L1533.6,957.4L1535.2,959.8L1536.9,963.8L1538.5,973.2L1540.2,969.3L1541.8,975.4L1543.4,971.2L1545.1,968.6L1546.7,990.7L1548.4,990.4L1550.0,989.0L1551.6,989.4L1553.3,987.8L1554.9,988.8L1556.6,990.1L1558.2,988.7L1559.8,987.7L1561.5,987.3L1563.1,990.7L1564.8,990.5L1566.4,987.9L1568.0,990.1L1569.7,987.7L1571.3,988.4L1573.0,987.4L1574.6,988.8L1576.2,988.1L1577.9,985.2L1579.5,988.6L1581.2,985.4L1582.8,987.4L1584.4,987.7L1586.1,983.2L1587.7,983.3L1589.4,980.8L1591.0,979.5L1592.6,976.7L1594.3,981.2L1595.9,980.2L1597.6,984.1L1599.2,981.3L1600.8,983.2L1602.5,984.4L1604.1,979.8L1605.8,979.3L1607.4,980.7L1609.0,977.8L1610.7,974.9L1612.3,976.8L1614.0,976.7L1615.6,982.9L1617.2,980.7L1618.9,980.2L1620.5,982.3L1622.2,981.5L1623.8,981.6L1625.4,980.3L1627.1,978.1L1628.7,981.6L1630.4,979.8L1632.0,976.6L1633.6,981.4L1635.3,982.4L1636.9,983.0L1638.6,982.2L1640.2,982.5L1641.8,981.4L1643.5,983.6L1645.1,982.8L1646.8,978.8L1648.4,977.8" fill="none" stroke="rgb(226,133,62)" stroke-width="1.5" stroke-linejoin="round"/><path d="M1069.5,937.7h0M1071.1,935.0h0M1072.8,932.7h0M1074.4,931.3h0M1076.0,929.9h0M1077.7,920.5h0M1079.3,915.4h0M1081.0,917.4h0M1082.6,924.0h0M1084.2,929.9h0M1085.9,937.6h0M1087.5,935.4h0M1089.2,936.7h0M1090.8,943.9h0M1092.4,934.2h0M1094.1,936.6h0M1095.7,932.7h0M1097.4,930.6h0M1099.0,916.6h0M1100.6,918.2h0M1102.3,923.4h0M1103.9,929.3h0M1105.6,940.2h0M1107.2,938.7h0M1108.8,940.5h0M1110.5,946.4h0M1112.1,935.6h0M1113.8,938.3h0M1115.4,936.4h0M1117.0,926.2h0M1118.7,927.8h0M1120.3,919.4h0M1122.0,930.4h0M1123.6,932.8h0M1125.2,940.3h0M1126.9,940.2h0M1128.5,946.4h0M1130.2,950.1h0M1131.8,939.3h0M1133.4,942.3h0M1135.1,933.2h0M1136.7,934.7h0M1138.4,922.4h0M1140.0,922.3h0M1141.6,930.0h0M1143.3,933.2h0M1144.9,940.4h0M1146.6,940.2h0M1148.2,949.2h0M1149.8,948.1h0M1151.5,941.9h0M1153.1,944.9h0M1154.8,934.1h0M1156.4,930.4h0M1158.0,930.0h0M1159.7,929.5h0M1161.3,935.1h0M1163.0,939.1h0M1164.6,938.7h0M1166.2,945.7h0M1167.9,952.4h0M1169.5,954.0h0M1171.2,945.1h0M1172.8,939.6h0M1174.4,940.4h0M1176.1,936.4h0M1177.7,930.8h0M1179.4,928.1h0M1181.0,939.5h0M1182.6,939.2h0M1184.3,945.0h0M1185.9,945.6h0M1187.6,953.1h0M1189.2,955.5h0M1190.8,950.9h0M1192.5,942.5h0M1194.1,944.0h0M1195.8,937.6h0M1197.4,935.4h0M1199.0,936.5h0M1200.7,943.3h0M1202.3,939.4h0M1204.0,945.2h0M1205.6,950.2h0M1207.2,950.6h0M1208.9,952.9h0M1210.5,947.9h0M1212.2,944.4h0M1213.8,945.7h0M1215.4,936.3h0M1217.1,931.7h0M1218.7,934.5h0M1220.4,938.0h0M1222.0,945.0h0M1223.6,951.3h0M1225.3,953.7h0M1226.9,950.8h0M1228.6,959.8h0M1230.2,957.9h0M1231.8,948.1h0M1233.5,944.7h0M1235.1,943.8h0M1236.8,935.8h0M1238.4,942.6h0M1240.0,946.6h0M1241.7,949.4h0M1243.3,953.1h0M1245.0,956.6h0M1246.6,960.6h0M1248.2,960.1h0M1249.9,952.1h0M1251.5,948.7h0M1253.2,947.5h0M1254.8,946.5h0M1256.4,944.3h0M1258.1,936.9h0M1259.7,946.8h0M1261.4,947.8h0M1263.0,959.1h0M1264.6,958.5h0M1266.3,955.4h0M1267.9,957.7h0M1269.6,954.3h0M1271.2,954.5h0M1272.8,952.8h0M1274.5,948.0h0M1276.1,941.2h0M1277.8,945.7h0M1279.4,948.9h0M1281.0,954.1h0M1282.7,953.9h0M1284.3,962.1h0M1286.0,958.4h0M1287.6,957.7h0M1289.2,964.1h0M1290.9,956.3h0M1292.5,952.6h0M1294.2,947.4h0M1295.8,945.9h0M1297.4,948.4h0M1299.1,952.1h0M1300.7,949.5h0M1302.4,954.3h0M1304.0,962.6h0M1305.6,965.5h0M1307.3,967.3h0M1308.9,965.7h0M1310.6,959.4h0M1312.2,959.2h0M1313.8,949.2h0M1315.5,947.4h0M1317.1,951.8h0M1318.8,952.9h0M1320.4,957.4h0M1322.0,959.9h0M1323.7,963.4h0M1325.3,966.4h0M1327.0,967.9h0M1328.6,963.9h0M1330.2,958.6h0M1331.9,957.2h0M1333.5,959.0h0M1335.2,949.1h0M1336.8,947.0h0M1338.4,952.6h0M1340.1,954.9h0M1341.7,966.2h0M1343.4,962.8h0M1345.0,969.0h0M1346.6,963.8h0M1348.3,967.3h0M1349.9,960.0h0M1351.6,961.5h0M1353.2,954.4h0M1354.8,954.5h0M1356.5,956.4h0M1358.1,957.6h0M1359.8,960.6h0M1361.4,958.7h0M1363.0,965.2h0M1364.7,965.5h0M1366.3,966.5h0M1368.0,960.6h0M1369.6,966.6h0M1371.2,959.0h0M1372.9,957.1h0M1374.5,951.4h0M1376.2,948.6h0M1377.8,959.2h0M1379.4,957.7h0M1381.1,963.0h0M1382.7,963.4h0M1384.4,970.3h0M1386.0,964.7h0M1387.6,961.1h0M1389.3,964.9h0M1390.9,962.5h0M1392.6,953.4h0M1394.2,958.4h0M1395.8,958.0h0M1397.5,962.3h0M1399.1,957.5h0M1400.8,961.5h0M1402.4,965.2h0M1404.0,965.7h0M1405.7,972.9h0M1407.3,964.9h0M1409.0,964.9h0M1410.6,961.5h0M1412.2,960.0h0M1413.9,956.5h0M1415.5,957.6h0M1417.2,963.5h0M1418.8,961.9h0M1420.4,967.2h0M1422.1,963.6h0M1423.7,964.6h0M1425.4,966.9h0M1427.0,967.4h0M1428.6,967.6h0M1430.3,963.5h0M1431.9,960.0h0M1433.6,955.3h0M1435.2,951.6h0M1436.8,964.0h0M1438.5,962.3h0M1440.1,965.6h0M1441.8,964.2h0M1443.4,964.6h0M1445.0,967.0h0M1446.7,966.5h0M1448.3,963.4h0M1450.0,961.7h0M1451.6,957.3h0M1453.2,955.7h0M1454.9,955.2h0M1456.5,963.4h0M1458.2,959.0h0M1459.8,967.4h0M1461.4,965.9h0M1463.1,965.9h0M1464.7,965.9h0M1466.4,963.8h0M1468.0,971.3h0M1469.6,965.9h0M1471.3,963.4h0M1472.9,959.6h0M1474.6,961.3h0M1476.2,961.3h0M1477.8,967.8h0M1479.5,968.9h0M1481.1,963.5h0M1482.8,967.4h0M1484.4,971.3h0M1486.0,972.9h0M1487.7,963.0h0M1489.3,963.0h0M1491.0,965.3h0M1492.6,961.1h0M1494.2,957.6h0M1495.9,961.0h0M1497.5,966.9h0M1499.2,963.5h0M1500.8,970.2h0M1502.4,972.7h0M1504.1,968.4h0M1505.7,973.2h0M1507.4,966.4h0M1509.0,968.6h0M1510.6,962.5h0M1512.3,962.6h0M1513.9,961.1h0M1515.6,959.4h0M1517.2,965.8h0M1518.8,969.1h0M1520.5,968.1h0M1522.1,973.1h0M1523.8,975.3h0M1525.4,971.6h0M1527.0,970.8h0M1528.7,969.3h0M1530.3,959.5h0M1532.0,965.4h0M1533.6,957.4h0M1535.2,959.8h0M1536.9,963.8h0M1538.5,973.2h0M1540.2,969.3h0M1541.8,975.4h0M1543.4,971.2h0M1545.1,968.6h0M1546.7,990.7h0M1548.4,990.4h0M1550.0,989.0h0M1551.6,989.4h0M1553.3,987.8h0M1554.9,988.8h0M1556.6,990.1h0M1558.2,988.7h0M1559.8,987.7h0M1561.5,987.3h0M1563.1,990.7h0M1564.8,990.5h0M1566.4,987.9h0M1568.0,990.1h0M1569.7,987.7h0M1571.3,988.4h0M1573.0,987.4h0M1574.6,988.8h0M1576.2,988.1h0M1577.9,985.2h0M1579.5,988.6h0M1581.2,985.4h0M1582.8,987.4h0M1584.4,987.7h0M1586.1,983.2h0M1587.7,983.3h0M1589.4,980.8h0M1591.0,979.5h0M1592.6,976.7h0M1594.3,981.2h0M1595.9,980.2h0M1597.6,984.1h0M1599.2,981.3h0M1600.8,983.2h0M1602.5,984.4h0M1604.1,979.8h0M1605.8,979.3h0M1607.4,980.7h0M1609.0,977.8h0M1610.7,974.9h0M1612.3,976.8h0M1614.0,976.7h0M1615.6,982.9h0M1617.2,980.7h0M1618.9,980.2h0M1620.5,982.3h0M1622.2,981.5h0M1623.8,981.6h0M1625.4,980.3h0M1627.1,978.1h0M1628.7,981.6h0M1630.4,979.8h0M1632.0,976.6h0M1633.6,981.4h0M1635.3,982.4h0M1636.9,983.0h0M1638.6,982.2h0M1640.2,982.5h0M1641.8,981.4h0M1643.5,983.6h0M1645.1,982.8h0M1646.8,978.8h0M1648.4,977.8h0" stroke="rgb(226,133,62)" stroke-width="2.2" stroke-linecap="round" fill="none"/>
<path d="M1069.5,773.2L1071.1,786.3L1072.8,763.2L1074.4,769.1L1076.0,740.6L1077.7,736.4L1079.3,702.0L1081.0,659.2L1082.6,731.7L1084.2,731.7L1085.9,734.6L1087.5,743.5L1089.2,737.6L1090.8,797.0L1092.4,770.3L1094.1,783.9L1095.7,741.8L1097.4,718.0L1099.0,693.1L1100.6,633.7L1102.3,710.9L1103.9,719.8L1105.6,743.5L1107.2,741.8L1108.8,794.0L1110.5,792.3L1112.1,768.5L1113.8,761.4L1115.4,734.6L1117.0,729.9L1118.7,690.1L1120.3,674.1L1122.0,734.6L1123.6,746.5L1125.2,773.2L1126.9,767.3L1128.5,794.0L1130.2,810.1L1131.8,785.1L1133.4,773.2L1135.1,752.5L1136.7,742.4L1138.4,690.1L1140.0,677.0L1141.6,734.6L1143.3,742.4L1144.9,770.3L1146.6,761.4L1148.2,794.0L1149.8,801.2L1151.5,767.3L1153.1,764.3L1154.8,762.6L1156.4,742.4L1158.0,699.0L1159.7,677.6L1161.3,732.9L1163.0,746.5L1164.6,772.1L1166.2,773.2L1167.9,803.0L1169.5,816.0L1171.2,784.5L1172.8,779.2L1174.4,781.0L1176.1,768.5L1177.7,731.7L1179.4,680.0L1181.0,746.5L1182.6,890.3L1184.3,847.5L1185.9,844.5L1187.6,871.3L1189.2,847.5L1190.8,856.4L1192.5,844.5L1194.1,840.4L1195.8,830.9L1197.4,817.8L1199.0,813.0L1200.7,819.0L1202.3,814.8L1204.0,840.4L1205.6,823.7L1207.2,844.5L1208.9,853.4L1210.5,835.6L1212.2,826.7L1213.8,804.7L1215.4,782.2L1217.1,765.5L1218.7,750.7L1220.4,791.1L1222.0,996.0L1223.6,808.9L1225.3,811.9L1226.9,829.7L1228.6,811.9L1230.2,767.3L1231.8,811.9L1233.5,788.1L1235.1,776.2L1236.8,755.4L1238.4,739.4L1240.0,918.8L1241.7,751.3L1243.3,800.0L1245.0,835.6L1246.6,832.6L1248.2,808.9L1249.9,803.0L1251.5,794.0L1253.2,782.2L1254.8,749.5L1256.4,740.6L1258.1,779.2L1259.7,776.2L1261.4,805.9L1263.0,791.1L1264.6,817.8L1266.3,829.7L1267.9,800.0L1269.6,794.0L1271.2,795.2L1272.8,792.3L1274.5,782.2L1276.1,762.6L1277.8,785.1L1279.4,864.1L1281.0,844.5L1282.7,868.3L1284.3,883.1L1286.0,890.3L1287.6,890.3L1289.2,880.2L1290.9,868.3L1292.5,856.4L1294.2,840.4L1295.8,819.0L1297.4,840.4L1299.1,844.5L1300.7,847.5L1302.4,832.6L1304.0,868.3L1305.6,914.2L1307.3,921.4L1308.9,911.4L1310.6,900.4L1312.2,887.1L1313.8,877.9L1315.5,848.3L1317.1,825.5L1318.8,866.0L1320.4,873.2L1322.0,885.1L1323.7,895.8L1325.3,901.1L1327.0,910.0L1328.6,901.2L1330.2,898.2L1331.9,885.8L1333.5,875.2L1335.2,857.1L1336.8,844.0L1338.4,867.7L1340.1,876.4L1341.7,882.5L1343.4,888.2L1345.0,888.0L1346.6,898.4L1348.3,882.3L1349.9,876.7L1351.6,863.1L1353.2,850.1L1354.8,824.3L1356.5,807.7L1358.1,846.1L1359.8,849.8L1361.4,868.9L1363.0,872.0L1364.7,880.0L1366.3,894.9L1368.0,883.5L1369.6,873.6L1371.2,855.2L1372.9,845.9L1374.5,814.7L1376.2,800.2L1377.8,836.4L1379.4,844.5L1381.1,862.6L1382.7,868.1L1384.4,876.7L1386.0,883.2L1387.6,874.3L1389.3,863.7L1390.9,851.9L1392.6,838.7L1394.2,812.8L1395.8,800.6L1397.5,835.2L1399.1,842.0L1400.8,861.3L1402.4,871.3L1404.0,886.0L1405.7,898.9L1407.3,883.3L1409.0,875.9L1410.6,865.0L1412.2,853.6L1413.9,818.3L1415.5,800.6L1417.2,848.2L1418.8,851.0L1420.4,873.4L1422.1,883.1L1423.7,897.9L1425.4,903.8L1427.0,891.9L1428.6,888.6L1430.3,871.5L1431.9,862.6L1433.6,828.2L1435.2,814.3L1436.8,851.8L1438.5,859.0L1440.1,882.1L1441.8,886.5L1443.4,910.3L1445.0,918.8L1446.7,906.9L1448.3,904.1L1450.0,893.4L1451.6,882.3L1453.2,847.5L1454.9,850.0L1456.5,882.9L1458.2,883.1L1459.8,902.4L1461.4,903.9L1463.1,917.7L1464.7,930.3L1466.4,919.0L1468.0,909.6L1469.6,896.2L1471.3,883.9L1472.9,855.5L1474.6,838.9L1476.2,873.6L1477.8,883.7L1479.5,901.8L1481.1,906.8L1482.8,920.9L1484.4,927.9L1486.0,914.2L1487.7,910.0L1489.3,899.4L1491.0,892.9L1492.6,866.2L1494.2,851.7L1495.9,886.9L1497.5,888.6L1499.2,903.3L1500.8,913.3L1502.4,918.8L1504.1,926.7L1505.7,917.0L1507.4,912.5L1509.0,900.4L1510.6,890.7L1512.3,873.9L1513.9,861.3L1515.6,887.0L1517.2,890.6L1518.8,910.0L1520.5,914.3L1522.1,922.9L1523.8,933.1L1525.4,922.9L1527.0,915.0L1528.7,903.1L1530.3,889.9L1532.0,865.6L1533.6,850.2L1535.2,880.3L1536.9,891.9L1538.5,903.7L1540.2,908.8L1541.8,926.5L1543.4,929.5L1545.1,960.4L1546.7,994.8L1548.4,993.6L1550.0,992.4L1551.6,991.2L1553.3,990.1L1554.9,991.2L1556.6,991.2L1558.2,991.8L1559.8,991.8L1561.5,992.4L1563.1,992.4L1564.8,991.8L1566.4,991.8L1568.0,991.2L1569.7,990.7L1571.3,989.5L1573.0,975.2L1574.6,978.2L1576.2,978.2L1577.9,972.2L1579.5,988.9L1581.2,978.2L1582.8,966.3L1584.4,954.4L1586.1,939.6L1587.7,933.6L1589.4,929.5L1591.0,914.6L1592.6,927.7L1594.3,933.6L1595.9,931.8L1597.6,939.6L1599.2,950.9L1600.8,950.3L1602.5,949.7L1604.1,941.4L1605.8,933.6L1607.4,924.7L1609.0,909.9L1610.7,883.1L1612.3,872.4L1614.0,903.9L1615.6,912.8L1617.2,921.8L1618.9,924.7L1620.5,936.0L1622.2,935.4L1623.8,923.5L1625.4,922.9L1627.1,912.8L1628.7,901.0L1630.4,877.2L1632.0,866.5L1633.6,901.0L1635.3,908.1L1636.9,920.0L1638.6,925.9L1640.2,939.6L1641.8,947.3L1643.5,948.5L1645.1,949.7L1646.8,946.1L1648.4,930.7" fill="none" stroke="rgb(92,168,60)" stroke-width="1.5" stroke-linejoin="round"/><path d="M1069.5,773.2h0M1071.1,786.3h0M1072.8,763.2h0M1074.4,769.1h0M1076.0,740.6h0M1077.7,736.4h0M1079.3,702.0h0M1081.0,659.2h0M1082.6,731.7h0M1084.2,731.7h0M1085.9,734.6h0M1087.5,743.5h0M1089.2,737.6h0M1090.8,797.0h0M1092.4,770.3h0M1094.1,783.9h0M1095.7,741.8h0M1097.4,718.0h0M1099.0,693.1h0M1100.6,633.7h0M1102.3,710.9h0M1103.9,719.8h0M1105.6,743.5h0M1107.2,741.8h0M1108.8,794.0h0M1110.5,792.3h0M1112.1,768.5h0M1113.8,761.4h0M1115.4,734.6h0M1117.0,729.9h0M1118.7,690.1h0M1120.3,674.1h0M1122.0,734.6h0M1123.6,746.5h0M1125.2,773.2h0M1126.9,767.3h0M1128.5,794.0h0M1130.2,810.1h0M1131.8,785.1h0M1133.4,773.2h0M1135.1,752.5h0M1136.7,742.4h0M1138.4,690.1h0M1140.0,677.0h0M1141.6,734.6h0M1143.3,742.4h0M1144.9,770.3h0M1146.6,761.4h0M1148.2,794.0h0M1149.8,801.2h0M1151.5,767.3h0M1153.1,764.3h0M1154.8,762.6h0M1156.4,742.4h0M1158.0,699.0h0M1159.7,677.6h0M1161.3,732.9h0M1163.0,746.5h0M1164.6,772.1h0M1166.2,773.2h0M1167.9,803.0h0M1169.5,816.0h0M1171.2,784.5h0M1172.8,779.2h0M1174.4,781.0h0M1176.1,768.5h0M1177.7,731.7h0M1179.4,680.0h0M1181.0,746.5h0M1182.6,890.3h0M1184.3,847.5h0M1185.9,844.5h0M1187.6,871.3h0M1189.2,847.5h0M1190.8,856.4h0M1192.5,844.5h0M1194.1,840.4h0M1195.8,830.9h0M1197.4,817.8h0M1199.0,813.0h0M1200.7,819.0h0M1202.3,814.8h0M1204.0,840.4h0M1205.6,823.7h0M1207.2,844.5h0M1208.9,853.4h0M1210.5,835.6h0M1212.2,826.7h0M1213.8,804.7h0M1215.4,782.2h0M1217.1,765.5h0M1218.7,750.7h0M1220.4,791.1h0M1222.0,996.0h0M1223.6,808.9h0M1225.3,811.9h0M1226.9,829.7h0M1228.6,811.9h0M1230.2,767.3h0M1231.8,811.9h0M1233.5,788.1h0M1235.1,776.2h0M1236.8,755.4h0M1238.4,739.4h0M1240.0,918.8h0M1241.7,751.3h0M1243.3,800.0h0M1245.0,835.6h0M1246.6,832.6h0M1248.2,808.9h0M1249.9,803.0h0M1251.5,794.0h0M1253.2,782.2h0M1254.8,749.5h0M1256.4,740.6h0M1258.1,779.2h0M1259.7,776.2h0M1261.4,805.9h0M1263.0,791.1h0M1264.6,817.8h0M1266.3,829.7h0M1267.9,800.0h0M1269.6,794.0h0M1271.2,795.2h0M1272.8,792.3h0M1274.5,782.2h0M1276.1,762.6h0M1277.8,785.1h0M1279.4,864.1h0M1281.0,844.5h0M1282.7,868.3h0M1284.3,883.1h0M1286.0,890.3h0M1287.6,890.3h0M1289.2,880.2h0M1290.9,868.3h0M1292.5,856.4h0M1294.2,840.4h0M1295.8,819.0h0M1297.4,840.4h0M1299.1,844.5h0M1300.7,847.5h0M1302.4,832.6h0M1304.0,868.3h0M1305.6,914.2h0M1307.3,921.4h0M1308.9,911.4h0M1310.6,900.4h0M1312.2,887.1h0M1313.8,877.9h0M1315.5,848.3h0M1317.1,825.5h0M1318.8,866.0h0M1320.4,873.2h0M1322.0,885.1h0M1323.7,895.8h0M1325.3,901.1h0M1327.0,910.0h0M1328.6,901.2h0M1330.2,898.2h0M1331.9,885.8h0M1333.5,875.2h0M1335.2,857.1h0M1336.8,844.0h0M1338.4,867.7h0M1340.1,876.4h0M1341.7,882.5h0M1343.4,888.2h0M1345.0,888.0h0M1346.6,898.4h0M1348.3,882.3h0M1349.9,876.7h0M1351.6,863.1h0M1353.2,850.1h0M1354.8,824.3h0M1356.5,807.7h0M1358.1,846.1h0M1359.8,849.8h0M1361.4,868.9h0M1363.0,872.0h0M1364.7,880.0h0M1366.3,894.9h0M1368.0,883.5h0M1369.6,873.6h0M1371.2,855.2h0M1372.9,845.9h0M1374.5,814.7h0M1376.2,800.2h0M1377.8,836.4h0M1379.4,844.5h0M1381.1,862.6h0M1382.7,868.1h0M1384.4,876.7h0M1386.0,883.2h0M1387.6,874.3h0M1389.3,863.7h0M1390.9,851.9h0M1392.6,838.7h0M1394.2,812.8h0M1395.8,800.6h0M1397.5,835.2h0M1399.1,842.0h0M1400.8,861.3h0M1402.4,871.3h0M1404.0,886.0h0M1405.7,898.9h0M1407.3,883.3h0M1409.0,875.9h0M1410.6,865.0h0M1412.2,853.6h0M1413.9,818.3h0M1415.5,800.6h0M1417.2,848.2h0M1418.8,851.0h0M1420.4,873.4h0M1422.1,883.1h0M1423.7,897.9h0M1425.4,903.8h0M1427.0,891.9h0M1428.6,888.6h0M1430.3,871.5h0M1431.9,862.6h0M1433.6,828.2h0M1435.2,814.3h0M1436.8,851.8h0M1438.5,859.0h0M1440.1,882.1h0M1441.8,886.5h0M1443.4,910.3h0M1445.0,918.8h0M1446.7,906.9h0M1448.3,904.1h0M1450.0,893.4h0M1451.6,882.3h0M1453.2,847.5h0M1454.9,850.0h0M1456.5,882.9h0M1458.2,883.1h0M1459.8,902.4h0M1461.4,903.9h0M1463.1,917.7h0M1464.7,930.3h0M1466.4,919.0h0M1468.0,909.6h0M1469.6,896.2h0M1471.3,883.9h0M1472.9,855.5h0M1474.6,838.9h0M1476.2,873.6h0M1477.8,883.7h0M1479.5,901.8h0M1481.1,906.8h0M1482.8,920.9h0M1484.4,927.9h0M1486.0,914.2h0M1487.7,910.0h0M1489.3,899.4h0M1491.0,892.9h0M1492.6,866.2h0M1494.2,851.7h0M1495.9,886.9h0M1497.5,888.6h0M1499.2,903.3h0M1500.8,913.3h0M1502.4,918.8h0M1504.1,926.7h0M1505.7,917.0h0M1507.4,912.5h0M1509.0,900.4h0M1510.6,890.7h0M1512.3,873.9h0M1513.9,861.3h0M1515.6,887.0h0M1517.2,890.6h0M1518.8,910.0h0M1520.5,914.3h0M1522.1,922.9h0M1523.8,933.1h0M1525.4,922.9h0M1527.0,915.0h0M1528.7,903.1h0M1530.3,889.9h0M1532.0,865.6h0M1533.6,850.2h0M1535.2,880.3h0M1536.9,891.9h0M1538.5,903.7h0M1540.2,908.8h0M1541.8,926.5h0M1543.4,929.5h0M1545.1,960.4h0M1546.7,994.8h0M1548.4,993.6h0M1550.0,992.4h0M1551.6,991.2h0M1553.3,990.1h0M1554.9,991.2h0M1556.6,991.2h0M1558.2,991.8h0M1559.8,991.8h0M1561.5,992.4h0M1563.1,992.4h0M1564.8,991.8h0M1566.4,991.8h0M1568.0,991.2h0M1569.7,990.7h0M1571.3,989.5h0M1573.0,975.2h0M1574.6,978.2h0M1576.2,978.2h0M1577.9,972.2h0M1579.5,988.9h0M1581.2,978.2h0M1582.8,966.3h0M1584.4,954.4h0M1586.1,939.6h0M1587.7,933.6h0M1589.4,929.5h0M1591.0,914.6h0M1592.6,927.7h0M1594.3,933.6h0M1595.9,931.8h0M1597.6,939.6h0M1599.2,950.9h0M1600.8,950.3h0M1602.5,949.7h0M1604.1,941.4h0M1605.8,933.6h0M1607.4,924.7h0M1609.0,909.9h0M1610.7,883.1h0M1612.3,872.4h0M1614.0,903.9h0M1615.6,912.8h0M1617.2,921.8h0M1618.9,924.7h0M1620.5,936.0h0M1622.2,935.4h0M1623.8,923.5h0M1625.4,922.9h0M1627.1,912.8h0M1628.7,901.0h0M1630.4,877.2h0M1632.0,866.5h0M1633.6,901.0h0M1635.3,908.1h0M1636.9,920.0h0M1638.6,925.9h0M1640.2,939.6h0M1641.8,947.3h0M1643.5,948.5h0M1645.1,949.7h0M1646.8,946.1h0M1648.4,930.7h0" stroke="rgb(92,168,60)" stroke-width="2.2" stroke-linecap="round" fill="none"/>
<path d="M1235.1,966.6L1236.8,960.5L1238.4,958.9L1240.0,969.3L1241.7,969.6L1243.3,973.3L1245.0,973.2L1246.6,976.1L1248.2,976.7L1249.9,974.6L1251.5,974.2L1253.2,971.2L1254.8,970.0L1256.4,963.5L1258.1,959.4L1259.7,968.3L1261.4,970.2L1263.0,972.6L1264.6,974.3L1266.3,976.8L1267.9,975.1L1269.6,974.5L1271.2,973.0L1272.8,970.9L1274.5,966.8L1276.1,962.4L1277.8,959.0L1279.4,968.6L1281.0,970.2L1282.7,973.3L1284.3,974.9L1286.0,977.2L1287.6,976.7L1289.2,974.5L1290.9,973.7L1292.5,971.8L1294.2,968.1L1295.8,962.9L1297.4,960.8L1299.1,968.9L1300.7,969.6L1302.4,975.3L1304.0,976.0L1305.6,977.7L1307.3,978.8L1308.9,976.6L1310.6,974.2L1312.2,970.8L1313.8,969.4L1315.5,962.1L1317.1,960.2L1318.8,969.2L1320.4,970.0L1322.0,974.5L1323.7,975.9L1325.3,978.1L1327.0,976.7L1328.6,975.5L1330.2,973.7L1331.9,973.2L1333.5,968.8L1335.2,960.0L1336.8,958.9L1338.4,967.0L1340.1,972.5L1341.7,973.4L1343.4,977.1L1345.0,977.5L1346.6,979.9L1348.3,975.6L1349.9,974.5L1351.6,970.8L1353.2,967.9L1354.8,959.7L1356.5,958.8L1358.1,966.8L1359.8,970.4L1361.4,975.7L1363.0,973.9L1364.7,977.8L1366.3,979.4L1368.0,978.3L1369.6,975.3L1371.2,973.5L1372.9,967.3L1374.5,959.3L1376.2,959.6L1377.8,969.9L1379.4,971.1L1381.1,976.4L1382.7,975.5L1384.4,976.3L1386.0,979.3L1387.6,977.1L1389.3,973.8L1390.9,972.6L1392.6,969.3L1394.2,959.2L1395.8,957.0L1397.5,966.9L1399.1,970.5L1400.8,975.6L1402.4,975.0L1404.0,976.4L1405.7,978.1L1407.3,977.9L1409.0,976.0L1410.6,972.7L1412.2,967.7L1413.9,960.1L1415.5,957.6L1417.2,967.0L1418.8,972.5L1420.4,974.9L1422.1,976.3L1423.7,977.4L1425.4,977.5L1427.0,977.9L1428.6,973.7L1430.3,973.9L1431.9,968.3L1433.6,959.8L1435.2,958.3L1436.8,967.8L1438.5,971.2L1440.1,975.5L1441.8,975.0L1443.4,979.5L1445.0,979.3L1446.7,976.1L1448.3,976.7L1450.0,971.0L1451.6,969.5L1453.2,959.0L1454.9,958.1L1456.5,968.1L1458.2,971.3L1459.8,976.9L1461.4,975.2L1463.1,977.9L1464.7,978.3L1466.4,977.1L1468.0,975.2L1469.6,972.2L1471.3,969.0L1472.9,957.9L1474.6,958.0L1476.2,966.5L1477.8,969.6L1479.5,975.5L1481.1,974.9L1482.8,977.4L1484.4,978.7L1486.0,978.0L1487.7,976.1L1489.3,972.8L1491.0,968.9L1492.6,957.3L1494.2,956.7L1495.9,968.1L1497.5,971.2L1499.2,974.4L1500.8,976.1L1502.4,977.9L1504.1,980.1L1505.7,978.2L1507.4,977.0L1509.0,973.3L1510.6,968.9L1512.3,957.4L1513.9,955.8L1515.6,968.9L1517.2,971.0L1518.8,976.9L1520.5,975.8L1522.1,978.4L1523.8,978.1L1525.4,978.3L1527.0,974.3L1528.7,973.0L1530.3,966.1L1532.0,957.7L1533.6,956.9L1535.2,966.1L1536.9,971.4L1538.5,975.9L1540.2,977.1L1541.8,976.8L1543.4,980.6L1545.1,976.4L1546.7,988.6L1548.4,989.5L1550.0,988.7L1551.6,988.2L1553.3,989.3L1554.9,988.7L1556.6,988.5L1558.2,988.6L1559.8,988.5L1561.5,988.7L1563.1,989.1L1564.8,989.5L1566.4,989.3L1568.0,989.1L1569.7,988.8L1571.3,989.0L1573.0,987.9L1574.6,986.4L1576.2,985.8L1577.9,985.1L1579.5,985.9L1581.2,984.6L1582.8,985.8L1584.4,983.0L1586.1,982.4L1587.7,980.3L1589.4,976.6L1591.0,968.1L1592.6,966.0L1594.3,973.6L1595.9,976.3L1597.6,978.2L1599.2,978.2L1600.8,980.7L1602.5,980.8L1604.1,978.9L1605.8,979.7L1607.4,975.9L1609.0,974.3L1610.7,967.8L1612.3,962.9L1614.0,972.2L1615.6,976.4L1617.2,979.1L1618.9,978.9L1620.5,981.1L1622.2,982.6L1623.8,980.7L1625.4,978.9L1627.1,975.4L1628.7,973.3L1630.4,965.6L1632.0,964.6L1633.6,972.5L1635.3,974.6L1636.9,978.1L1638.6,978.0L1640.2,979.9L1641.8,980.2L1643.5,980.0L1645.1,976.7L1646.8,976.3L1648.4,974.2" fill="none" stroke="rgb(196,78,82)" stroke-width="1.5" stroke-linejoin="round"/><path d="M1235.1,966.6h0M1236.8,960.5h0M1238.4,958.9h0M1240.0,969.3h0M1241.7,969.6h0M1243.3,973.3h0M1245.0,973.2h0M1246.6,976.1h0M1248.2,976.7h0M1249.9,974.6h0M1251.5,974.2h0M1253.2,971.2h0M1254.8,970.0h0M1256.4,963.5h0M1258.1,959.4h0M1259.7,968.3h0M1261.4,970.2h0M1263.0,972.6h0M1264.6,974.3h0M1266.3,976.8h0M1267.9,975.1h0M1269.6,974.5h0M1271.2,973.0h0M1272.8,970.9h0M1274.5,966.8h0M1276.1,962.4h0M1277.8,959.0h0M1279.4,968.6h0M1281.0,970.2h0M1282.7,973.3h0M1284.3,974.9h0M1286.0,977.2h0M1287.6,976.7h0M1289.2,974.5h0M1290.9,973.7h0M1292.5,971.8h0M1294.2,968.1h0M1295.8,962.9h0M1297.4,960.8h0M1299.1,968.9h0M1300.7,969.6h0M1302.4,975.3h0M1304.0,976.0h0M1305.6,977.7h0M1307.3,978.8h0M1308.9,976.6h0M1310.6,974.2h0M1312.2,970.8h0M1313.8,969.4h0M1315.5,962.1h0M1317.1,960.2h0M1318.8,969.2h0M1320.4,970.0h0M1322.0,974.5h0M1323.7,975.9h0M1325.3,978.1h0M1327.0,976.7h0M1328.6,975.5h0M1330.2,973.7h0M1331.9,973.2h0M1333.5,968.8h0M1335.2,960.0h0M1336.8,958.9h0M1338.4,967.0h0M1340.1,972.5h0M1341.7,973.4h0M1343.4,977.1h0M1345.0,977.5h0M1346.6,979.9h0M1348.3,975.6h0M1349.9,974.5h0M1351.6,970.8h0M1353.2,967.9h0M1354.8,959.7h0M1356.5,958.8h0M1358.1,966.8h0M1359.8,970.4h0M1361.4,975.7h0M1363.0,973.9h0M1364.7,977.8h0M1366.3,979.4h0M1368.0,978.3h0M1369.6,975.3h0M1371.2,973.5h0M1372.9,967.3h0M1374.5,959.3h0M1376.2,959.6h0M1377.8,969.9h0M1379.4,971.1h0M1381.1,976.4h0M1382.7,975.5h0M1384.4,976.3h0M1386.0,979.3h0M1387.6,977.1h0M1389.3,973.8h0M1390.9,972.6h0M1392.6,969.3h0M1394.2,959.2h0M1395.8,957.0h0M1397.5,966.9h0M1399.1,970.5h0M1400.8,975.6h0M1402.4,975.0h0M1404.0,976.4h0M1405.7,978.1h0M1407.3,977.9h0M1409.0,976.0h0M1410.6,972.7h0M1412.2,967.7h0M1413.9,960.1h0M1415.5,957.6h0M1417.2,967.0h0M1418.8,972.5h0M1420.4,974.9h0M1422.1,976.3h0M1423.7,977.4h0M1425.4,977.5h0M1427.0,977.9h0M1428.6,973.7h0M1430.3,973.9h0M1431.9,968.3h0M1433.6,959.8h0M1435.2,958.3h0M1436.8,967.8h0M1438.5,971.2h0M1440.1,975.5h0M1441.8,975.0h0M1443.4,979.5h0M1445.0,979.3h0M1446.7,976.1h0M1448.3,976.7h0M1450.0,971.0h0M1451.6,969.5h0M1453.2,959.0h0M1454.9,958.1h0M1456.5,968.1h0M1458.2,971.3h0M1459.8,976.9h0M1461.4,975.2h0M1463.1,977.9h0M1464.7,978.3h0M1466.4,977.1h0M1468.0,975.2h0M1469.6,972.2h0M1471.3,969.0h0M1472.9,957.9h0M1474.6,958.0h0M1476.2,966.5h0M1477.8,969.6h0M1479.5,975.5h0M1481.1,974.9h0M1482.8,977.4h0M1484.4,978.7h0M1486.0,978.0h0M1487.7,976.1h0M1489.3,972.8h0M1491.0,968.9h0M1492.6,957.3h0M1494.2,956.7h0M1495.9,968.1h0M1497.5,971.2h0M1499.2,974.4h0M1500.8,976.1h0M1502.4,977.9h0M1504.1,980.1h0M1505.7,978.2h0M1507.4,977.0h0M1509.0,973.3h0M1510.6,968.9h0M1512.3,957.4h0M1513.9,955.8h0M1515.6,968.9h0M1517.2,971.0h0M1518.8,976.9h0M1520.5,975.8h0M1522.1,978.4h0M1523.8,978.1h0M1525.4,978.3h0M1527.0,974.3h0M1528.7,973.0h0M1530.3,966.1h0M1532.0,957.7h0M1533.6,956.9h0M1535.2,966.1h0M1536.9,971.4h0M1538.5,975.9h0M1540.2,977.1h0M1541.8,976.8h0M1543.4,980.6h0M1545.1,976.4h0M1546.7,988.6h0M1548.4,989.5h0M1550.0,988.7h0M1551.6,988.2h0M1553.3,989.3h0M1554.9,988.7h0M1556.6,988.5h0M1558.2,988.6h0M1559.8,988.5h0M1561.5,988.7h0M1563.1,989.1h0M1564.8,989.5h0M1566.4,989.3h0M1568.0,989.1h0M1569.7,988.8h0M1571.3,989.0h0M1573.0,987.9h0M1574.6,986.4h0M1576.2,985.8h0M1577.9,985.1h0M1579.5,985.9h0M1581.2,984.6h0M1582.8,985.8h0M1584.4,983.0h0M1586.1,982.4h0M1587.7,980.3h0M1589.4,976.6h0M1591.0,968.1h0M1592.6,966.0h0M1594.3,973.6h0M1595.9,976.3h0M1597.6,978.2h0M1599.2,978.2h0M1600.8,980.7h0M1602.5,980.8h0M1604.1,978.9h0M1605.8,979.7h0M1607.4,975.9h0M1609.0,974.3h0M1610.7,967.8h0M1612.3,962.9h0M1614.0,972.2h0M1615.6,976.4h0M1617.2,979.1h0M1618.9,978.9h0M1620.5,981.1h0M1622.2,982.6h0M1623.8,980.7h0M1625.4,978.9h0M1627.1,975.4h0M1628.7,973.3h0M1630.4,965.6h0M1632.0,964.6h0M1633.6,972.5h0M1635.3,974.6h0M1636.9,978.1h0M1638.6,978.0h0M1640.2,979.9h0M1641.8,980.2h0M1643.5,980.0h0M1645.1,976.7h0M1646.8,976.3h0M1648.4,974.2h0" stroke="rgb(196,78,82)" stroke-width="2.2" stroke-linecap="round" fill="none"/>
<path d="M1069.5,961.5L1071.1,961.0L1072.8,963.5L1074.4,957.3L1076.0,960.2L1077.7,955.4L1079.3,956.3L1081.0,951.4L1082.6,956.8L1084.2,954.2L1085.9,955.9L1087.5,955.6L1089.2,958.6L1090.8,957.3L1092.4,955.4L1094.1,959.5L1095.7,955.5L1097.4,951.3L1099.0,950.5L1100.6,952.1L1102.3,956.0L1103.9,953.9L1105.6,961.6L1107.2,958.4L1108.8,959.6L1110.5,964.9L1112.1,962.7L1113.8,961.8L1115.4,958.8L1117.0,958.3L1118.7,953.1L1120.3,952.8L1122.0,959.5L1123.6,957.7L1125.2,965.2L1126.9,965.7L1128.5,964.0L1130.2,964.4L1131.8,963.2L1133.4,961.1L1135.1,960.4L1136.7,962.4L1138.4,957.6L1140.0,956.4L1141.6,964.3L1143.3,963.5L1144.9,968.1L1146.6,968.9L1148.2,968.5L1149.8,968.3L1151.5,965.2L1153.1,968.9L1154.8,965.0L1156.4,960.3L1158.0,959.5L1159.7,960.5L1161.3,965.0L1163.0,964.0L1164.6,968.5L1166.2,966.7L1167.9,968.1L1169.5,970.6L1171.2,966.9L1172.8,967.9L1174.4,965.8L1176.1,961.9L1177.7,963.2L1179.4,963.2L1181.0,963.6L1182.6,965.8L1184.3,965.5L1185.9,969.7L1187.6,970.3L1189.2,973.1L1190.8,969.5L1192.5,969.0L1194.1,966.5L1195.8,962.9L1197.4,965.0L1199.0,959.0L1200.7,963.4L1202.3,964.2L1204.0,968.0L1205.6,968.3L1207.2,970.7L1208.9,971.7L1210.5,971.5L1212.2,969.7L1213.8,968.0L1215.4,966.0L1217.1,960.5L1218.7,960.7L1220.4,964.4L1222.0,969.5L1223.6,970.3L1225.3,969.1L1226.9,969.6L1228.6,972.2L1230.2,969.6L1231.8,966.7L1233.5,968.8L1235.1,966.4L1236.8,961.9L1238.4,964.2L1240.0,964.5L1241.7,967.8L1243.3,972.3L1245.0,970.2L1246.6,973.9L1248.2,970.6L1249.9,968.9L1251.5,969.5L1253.2,965.6L1254.8,967.9L1256.4,964.3L1258.1,965.5L1259.7,969.0L1261.4,965.8L1263.0,972.7L1264.6,967.9L1266.3,971.6L1267.9,971.7L1269.6,974.2L1271.2,967.8L1272.8,966.7L1274.5,969.0L1276.1,966.3L1277.8,966.1L1279.4,966.8L1281.0,970.7L1282.7,968.8L1284.3,971.1L1286.0,971.3L1287.6,974.9L1289.2,971.2L1290.9,971.1L1292.5,968.1L1294.2,967.7L1295.8,961.9L1297.4,962.4L1299.1,965.3L1300.7,969.7L1302.4,972.9L1304.0,973.7L1305.6,975.3L1307.3,971.3L1308.9,974.0L1310.6,969.1L1312.2,971.1L1313.8,966.9L1315.5,966.8L1317.1,966.0L1318.8,966.3L1320.4,968.6L1322.0,969.0L1323.7,973.7L1325.3,975.0L1327.0,977.3L1328.6,975.0L1330.2,969.0L1331.9,969.6L1333.5,968.2L1335.2,966.7L1336.8,963.7L1338.4,967.1L1340.1,971.8L1341.7,974.9L1343.4,974.7L1345.0,972.4L1346.6,973.9L1348.3,975.5L1349.9,974.0L1351.6,971.6L1353.2,967.5L1354.8,964.7L1356.5,967.3L1358.1,969.7L1359.8,971.8L1361.4,970.1L1363.0,973.0L1364.7,972.2L1366.3,977.4L1368.0,973.6L1369.6,972.6L1371.2,968.4L1372.9,969.9L1374.5,968.2L1376.2,964.2L1377.8,966.5L1379.4,970.7L1381.1,974.3L1382.7,976.3L1384.4,975.7L1386.0,973.9L1387.6,975.8L1389.3,973.8L1390.9,971.1L1392.6,971.1L1394.2,969.3L1395.8,966.4L1397.5,966.8L1399.1,969.0L1400.8,974.9L1402.4,972.6L1404.0,973.8L1405.7,976.4L1407.3,976.2L1409.0,975.7L1410.6,970.7L1412.2,968.8L1413.9,969.1L1415.5,969.1L1417.2,972.3L1418.8,969.6L1420.4,971.9L1422.1,974.6L1423.7,975.6L1425.4,976.1L1427.0,977.8L1428.6,974.2L1430.3,972.6L1431.9,968.2L1433.6,969.9L1435.2,965.3L1436.8,972.6L1438.5,971.4L1440.1,972.2L1441.8,977.6L1443.4,976.8L1445.0,980.6L1446.7,976.2L1448.3,974.8L1450.0,970.0L1451.6,970.9L1453.2,965.9L1454.9,966.5L1456.5,968.9L1458.2,973.3L1459.8,977.4L1461.4,974.7L1463.1,979.4L1464.7,977.4L1466.4,978.6L1468.0,974.6L1469.6,971.6L1471.3,968.5L1472.9,970.5L1474.6,970.2L1476.2,971.8L1477.8,970.0L1479.5,976.9L1481.1,976.1L1482.8,978.2L1484.4,981.2L1486.0,976.8L1487.7,976.7L1489.3,973.8L1491.0,970.2L1492.6,968.1L1494.2,970.2L1495.9,970.9L1497.5,973.1L1499.2,974.3L1500.8,979.3L1502.4,979.2L1504.1,978.0L1505.7,977.2L1507.4,976.0L1509.0,973.9L1510.6,971.4L1512.3,968.2L1513.9,967.1L1515.6,970.5L1517.2,971.3L1518.8,975.8L1520.5,978.8L1522.1,979.1L1523.8,977.2L1525.4,976.2L1527.0,975.6L1528.7,976.5L1530.3,974.3L1532.0,968.8L1533.6,969.7L1535.2,974.1L1536.9,971.0L1538.5,977.8L1540.2,974.2L1541.8,977.5L1543.4,976.5L1545.1,976.1L1546.7,989.5L1548.4,989.0L1550.0,988.3L1551.6,988.4L1553.3,989.4L1554.9,989.8L1556.6,988.2L1558.2,990.1L1559.8,989.6L1561.5,989.4L1563.1,989.4L1564.8,988.0L1566.4,988.2L1568.0,989.3L1569.7,988.0L1571.3,987.8L1573.0,988.4L1574.6,989.3L1576.2,988.0L1577.9,986.6L1579.5,987.9L1581.2,988.0L1582.8,987.4L1584.4,987.7L1586.1,988.2L1587.7,985.2L1589.4,985.8L1591.0,984.5L1592.6,982.4L1594.3,982.8L1595.9,983.7L1597.6,987.5L1599.2,985.5L1600.8,986.5L1602.5,985.9L1604.1,987.1L1605.8,986.1L1607.4,984.2L1609.0,983.7L1610.7,984.3L1612.3,982.0L1614.0,983.2L1615.6,983.7L1617.2,985.1L1618.9,984.9L1620.5,986.9L1622.2,986.9L1623.8,985.6L1625.4,985.7L1627.1,984.0L1628.7,985.0L1630.4,984.4L1632.0,982.7L1633.6,983.7L1635.3,984.9L1636.9,984.2L1638.6,987.1L1640.2,984.9L1641.8,987.2L1643.5,987.0L1645.1,984.7L1646.8,985.3L1648.4,982.5" fill="none" stroke="rgb(129,114,179)" stroke-width="1.5" stroke-linejoin="round"/><path d="M1069.5,961.5h0M1071.1,961.0h0M1072.8,963.5h0M1074.4,957.3h0M1076.0,960.2h0M1077.7,955.4h0M1079.3,956.3h0M1081.0,951.4h0M1082.6,956.8h0M1084.2,954.2h0M1085.9,955.9h0M1087.5,955.6h0M1089.2,958.6h0M1090.8,957.3h0M1092.4,955.4h0M1094.1,959.5h0M1095.7,955.5h0M1097.4,951.3h0M1099.0,950.5h0M1100.6,952.1h0M1102.3,956.0h0M1103.9,953.9h0M1105.6,961.6h0M1107.2,958.4h0M1108.8,959.6h0M1110.5,964.9h0M1112.1,962.7h0M1113.8,961.8h0M1115.4,958.8h0M1117.0,958.3h0M1118.7,953.1h0M1120.3,952.8h0M1122.0,959.5h0M1123.6,957.7h0M1125.2,965.2h0M1126.9,965.7h0M1128.5,964.0h0M1130.2,964.4h0M1131.8,963.2h0M1133.4,961.1h0M1135.1,960.4h0M1136.7,962.4h0M1138.4,957.6h0M1140.0,956.4h0M1141.6,964.3h0M1143.3,963.5h0M1144.9,968.1h0M1146.6,968.9h0M1148.2,968.5h0M1149.8,968.3h0M1151.5,965.2h0M1153.1,968.9h0M1154.8,965.0h0M1156.4,960.3h0M1158.0,959.5h0M1159.7,960.5h0M1161.3,965.0h0M1163.0,964.0h0M1164.6,968.5h0M1166.2,966.7h0M1167.9,968.1h0M1169.5,970.6h0M1171.2,966.9h0M1172.8,967.9h0M1174.4,965.8h0M1176.1,961.9h0M1177.7,963.2h0M1179.4,963.2h0M1181.0,963.6h0M1182.6,965.8h0M1184.3,965.5h0M1185.9,969.7h0M1187.6,970.3h0M1189.2,973.1h0M1190.8,969.5h0M1192.5,969.0h0M1194.1,966.5h0M1195.8,962.9h0M1197.4,965.0h0M1199.0,959.0h0M1200.7,963.4h0M1202.3,964.2h0M1204.0,968.0h0M1205.6,968.3h0M1207.2,970.7h0M1208.9,971.7h0M1210.5,971.5h0M1212.2,969.7h0M1213.8,968.0h0M1215.4,966.0h0M1217.1,960.5h0M1218.7,960.7h0M1220.4,964.4h0M1222.0,969.5h0M1223.6,970.3h0M1225.3,969.1h0M1226.9,969.6h0M1228.6,972.2h0M1230.2,969.6h0M1231.8,966.7h0M1233.5,968.8h0M1235.1,966.4h0M1236.8,961.9h0M1238.4,964.2h0M1240.0,964.5h0M1241.7,967.8h0M1243.3,972.3h0M1245.0,970.2h0M1246.6,973.9h0M1248.2,970.6h0M1249.9,968.9h0M1251.5,969.5h0M1253.2,965.6h0M1254.8,967.9h0M1256.4,964.3h0M1258.1,965.5h0M1259.7,969.0h0M1261.4,965.8h0M1263.0,972.7h0M1264.6,967.9h0M1266.3,971.6h0M1267.9,971.7h0M1269.6,974.2h0M1271.2,967.8h0M1272.8,966.7h0M1274.5,969.0h0M1276.1,966.3h0M1277.8,966.1h0M1279.4,966.8h0M1281.0,970.7h0M1282.7,968.8h0M1284.3,971.1h0M1286.0,971.3h0M1287.6,974.9h0M1289.2,971.2h0M1290.9,971.1h0M1292.5,968.1h0M1294.2,967.7h0M1295.8,961.9h0M1297.4,962.4h0M1299.1,965.3h0M1300.7,969.7h0M1302.4,972.9h0M1304.0,973.7h0M1305.6,975.3h0M1307.3,971.3h0M1308.9,974.0h0M1310.6,969.1h0M1312.2,971.1h0M1313.8,966.9h0M1315.5,966.8h0M1317.1,966.0h0M1318.8,966.3h0M1320.4,968.6h0M1322.0,969.0h0M1323.7,973.7h0M1325.3,975.0h0M1327.0,977.3h0M1328.6,975.0h0M1330.2,969.0h0M1331.9,969.6h0M1333.5,968.2h0M1335.2,966.7h0M1336.8,963.7h0M1338.4,967.1h0M1340.1,971.8h0M1341.7,974.9h0M1343.4,974.7h0M1345.0,972.4h0M1346.6,973.9h0M1348.3,975.5h0M1349.9,974.0h0M1351.6,971.6h0M1353.2,967.5h0M1354.8,964.7h0M1356.5,967.3h0M1358.1,969.7h0M1359.8,971.8h0M1361.4,970.1h0M1363.0,973.0h0M1364.7,972.2h0M1366.3,977.4h0M1368.0,973.6h0M1369.6,972.6h0M1371.2,968.4h0M1372.9,969.9h0M1374.5,968.2h0M1376.2,964.2h0M1377.8,966.5h0M1379.4,970.7h0M1381.1,974.3h0M1382.7,976.3h0M1384.4,975.7h0M1386.0,973.9h0M1387.6,975.8h0M1389.3,973.8h0M1390.9,971.1h0M1392.6,971.1h0M1394.2,969.3h0M1395.8,966.4h0M1397.5,966.8h0M1399.1,969.0h0M1400.8,974.9h0M1402.4,972.6h0M1404.0,973.8h0M1405.7,976.4h0M1407.3,976.2h0M1409.0,975.7h0M1410.6,970.7h0M1412.2,968.8h0M1413.9,969.1h0M1415.5,969.1h0M1417.2,972.3h0M1418.8,969.6h0M1420.4,971.9h0M1422.1,974.6h0M1423.7,975.6h0M1425.4,976.1h0M1427.0,977.8h0M1428.6,974.2h0M1430.3,972.6h0M1431.9,968.2h0M1433.6,969.9h0M1435.2,965.3h0M1436.8,972.6h0M1438.5,971.4h0M1440.1,972.2h0M1441.8,977.6h0M1443.4,976.8h0M1445.0,980.6h0M1446.7,976.2h0M1448.3,974.8h0M1450.0,970.0h0M1451.6,970.9h0M1453.2,965.9h0M1454.9,966.5h0M1456.5,968.9h0M1458.2,973.3h0M1459.8,977.4h0M1461.4,974.7h0M1463.1,979.4h0M1464.7,977.4h0M1466.4,978.6h0M1468.0,974.6h0M1469.6,971.6h0M1471.3,968.5h0M1472.9,970.5h0M1474.6,970.2h0M1476.2,971.8h0M1477.8,970.0h0M1479.5,976.9h0M1481.1,976.1h0M1482.8,978.2h0M1484.4,981.2h0M1486.0,976.8h0M1487.7,976.7h0M1489.3,973.8h0M1491.0,970.2h0M1492.6,968.1h0M1494.2,970.2h0M1495.9,970.9h0M1497.5,973.1h0M1499.2,974.3h0M1500.8,979.3h0M1502.4,979.2h0M1504.1,978.0h0M1505.7,977.2h0M1507.4,976.0h0M1509.0,973.9h0M1510.6,971.4h0M1512.3,968.2h0M1513.9,967.1h0M1515.6,970.5h0M1517.2,971.3h0M1518.8,975.8h0M1520.5,978.8h0M1522.1,979.1h0M1523.8,977.2h0M1525.4,976.2h0M1527.0,975.6h0M1528.7,976.5h0M1530.3,974.3h0M1532.0,968.8h0M1533.6,969.7h0M1535.2,974.1h0M1536.9,971.0h0M1538.5,977.8h0M1540.2,974.2h0M1541.8,977.5h0M1543.4,976.5h0M1545.1,976.1h0M1546.7,989.5h0M1548.4,989.0h0M1550.0,988.3h0M1551.6,988.4h0M1553.3,989.4h0M1554.9,989.8h0M1556.6,988.2h0M1558.2,990.1h0M1559.8,989.6h0M1561.5,989.4h0M1563.1,989.4h0M1564.8,988.0h0M1566.4,988.2h0M1568.0,989.3h0M1569.7,988.0h0M1571.3,987.8h0M1573.0,988.4h0M1574.6,989.3h0M1576.2,988.0h0M1577.9,986.6h0M1579.5,987.9h0M1581.2,988.0h0M1582.8,987.4h0M1584.4,987.7h0M1586.1,988.2h0M1587.7,985.2h0M1589.4,985.8h0M1591.0,984.5h0M1592.6,982.4h0M1594.3,982.8h0M1595.9,983.7h0M1597.6,987.5h0M1599.2,985.5h0M1600.8,986.5h0M1602.5,985.9h0M1604.1,987.1h0M1605.8,986.1h0M1607.4,984.2h0M1609.0,983.7h0M1610.7,984.3h0M1612.3,982.0h0M1614.0,983.2h0M1615.6,983.7h0M1617.2,985.1h0M1618.9,984.9h0M1620.5,986.9h0M1622.2,986.9h0M1623.8,985.6h0M1625.4,985.7h0M1627.1,984.0h0M1628.7,985.0h0M1630.4,984.4h0M1632.0,982.7h0M1633.6,983.7h0M1635.3,984.9h0M1636.9,984.2h0M1638.6,987.1h0M1640.2,984.9h0M1641.8,987.2h0M1643.5,987.0h0M1645.1,984.7h0M1646.8,985.3h0M1648.4,982.5h0" stroke="rgb(129,114,179)" stroke-width="2.2" stroke-linecap="round" fill="none"/>
<path d="M1069.5,949.4L1071.1,946.6L1072.8,945.4L1074.4,948.0L1076.0,941.0L1077.7,940.3L1079.3,941.6L1081.0,934.6L1082.6,943.0L1084.2,944.3L1085.9,946.3L1087.5,945.7L1089.2,950.6L1090.8,947.7L1092.4,944.9L1094.1,945.5L1095.7,941.2L1097.4,940.2L1099.0,936.0L1100.6,940.1L1102.3,942.1L1103.9,942.9L1105.6,948.2L1107.2,942.5L1108.8,946.4L1110.5,951.3L1112.1,946.2L1113.8,945.8L1115.4,945.2L1117.0,943.3L1118.7,938.6L1120.3,940.9L1122.0,940.4L1123.6,942.3L1125.2,947.6L1126.9,942.7L1128.5,950.2L1130.2,950.2L1131.8,944.0L1133.4,946.7L1135.1,943.3L1136.7,940.3L1138.4,938.7L1140.0,937.8L1141.6,940.7L1143.3,942.3L1144.9,947.7L1146.6,942.7L1148.2,947.9L1149.8,950.7L1151.5,946.9L1153.1,942.7L1154.8,942.3L1156.4,941.7L1158.0,939.2L1159.7,940.7L1161.3,941.0L1163.0,944.6L1164.6,949.3L1166.2,949.5L1167.9,951.5L1169.5,948.6L1171.2,945.8L1172.8,945.3L1174.4,947.2L1176.1,945.7L1177.7,937.5L1179.4,941.2L1181.0,946.0L1182.6,945.0L1184.3,947.5L1185.9,948.8L1187.6,951.3L1189.2,953.6L1190.8,950.8L1192.5,949.6L1194.1,945.9L1195.8,945.4L1197.4,943.4L1199.0,938.4L1200.7,948.3L1202.3,945.6L1204.0,951.1L1205.6,949.1L1207.2,951.7L1208.9,954.3L1210.5,952.5L1212.2,953.8L1213.8,953.2L1215.4,946.0L1217.1,946.8L1218.7,947.6L1220.4,946.5L1222.0,950.2L1223.6,957.5L1225.3,954.9L1226.9,959.6L1228.6,956.1L1230.2,958.9L1231.8,952.7L1233.5,953.0L1235.1,954.7L1236.8,949.7L1238.4,945.5L1240.0,951.3L1241.7,957.3L1243.3,959.1L1245.0,960.7L1246.6,964.1L1248.2,962.0L1249.9,959.8L1251.5,961.8L1253.2,957.4L1254.8,953.1L1256.4,950.2L1258.1,955.1L1259.7,959.7L1261.4,955.8L1263.0,963.3L1264.6,965.4L1266.3,963.0L1267.9,968.1L1269.6,963.2L1271.2,961.7L1272.8,962.3L1274.5,958.9L1276.1,957.3L1277.8,953.1L1279.4,960.5L1281.0,962.5L1282.7,961.4L1284.3,966.3L1286.0,967.0L1287.6,967.8L1289.2,969.8L1290.9,966.1L1292.5,960.6L1294.2,956.7L1295.8,958.4L1297.4,956.9L1299.1,963.6L1300.7,962.4L1302.4,966.5L1304.0,966.2L1305.6,969.5L1307.3,970.7L1308.9,964.8L1310.6,964.1L1312.2,964.8L1313.8,964.6L1315.5,961.9L1317.1,961.1L1318.8,964.6L1320.4,963.3L1322.0,966.8L1323.7,970.3L1325.3,966.9L1327.0,969.7L1328.6,967.7L1330.2,964.7L1331.9,966.6L1333.5,960.2L1335.2,956.8L1336.8,956.8L1338.4,966.7L1340.1,962.8L1341.7,965.0L1343.4,971.9L1345.0,968.4L1346.6,970.0L1348.3,973.9L1349.9,967.4L1351.6,964.7L1353.2,962.4L1354.8,964.4L1356.5,957.4L1358.1,967.4L1359.8,969.2L1361.4,966.0L1363.0,970.0L1364.7,974.0L1366.3,973.7L1368.0,970.3L1369.6,971.2L1371.2,964.2L1372.9,963.6L1374.5,962.8L1376.2,962.4L1377.8,967.8L1379.4,963.4L1381.1,971.3L1382.7,967.4L1384.4,972.1L1386.0,973.3L1387.6,974.2L1389.3,970.1L1390.9,970.7L1392.6,965.9L1394.2,961.8L1395.8,959.0L1397.5,967.7L1399.1,969.8L1400.8,968.5L1402.4,973.8L1404.0,975.2L1405.7,974.4L1407.3,973.1L1409.0,967.3L1410.6,971.6L1412.2,963.5L1413.9,963.5L1415.5,965.3L1417.2,968.2L1418.8,965.3L1420.4,973.5L1422.1,972.4L1423.7,977.0L1425.4,975.0L1427.0,971.8L1428.6,969.8L1430.3,970.3L1431.9,967.4L1433.6,961.6L1435.2,960.7L1436.8,967.4L1438.5,972.0L1440.1,968.7L1441.8,973.6L1443.4,974.5L1445.0,978.8L1446.7,977.3L1448.3,974.9L1450.0,969.5L1451.6,969.2L1453.2,962.5L1454.9,966.6L1456.5,966.6L1458.2,972.9L1459.8,973.5L1461.4,970.0L1463.1,976.7L1464.7,977.6L1466.4,977.9L1468.0,970.1L1469.6,970.5L1471.3,969.9L1472.9,964.8L1474.6,966.4L1476.2,965.6L1477.8,970.7L1479.5,976.3L1481.1,975.8L1482.8,978.9L1484.4,975.0L1486.0,978.0L1487.7,973.6L1489.3,970.5L1491.0,971.7L1492.6,964.9L1494.2,964.5L1495.9,965.9L1497.5,967.7L1499.2,970.4L1500.8,974.3L1502.4,976.4L1504.1,978.1L1505.7,978.5L1507.4,973.4L1509.0,968.2L1510.6,969.5L1512.3,964.0L1513.9,967.7L1515.6,970.5L1517.2,972.0L1518.8,971.2L1520.5,976.1L1522.1,975.1L1523.8,980.7L1525.4,974.6L1527.0,974.8L1528.7,968.7L1530.3,973.3L1532.0,968.6L1533.6,963.5L1535.2,970.3L1536.9,973.2L1538.5,972.0L1540.2,975.7L1541.8,974.3L1543.4,977.9L1545.1,979.5L1546.7,987.8L1548.4,989.8L1550.0,987.9L1551.6,988.1L1553.3,990.2L1554.9,989.3L1556.6,989.5L1558.2,988.5L1559.8,989.0L1561.5,988.2L1563.1,987.5L1564.8,990.2L1566.4,988.6L1568.0,989.6L1569.7,988.3L1571.3,989.3L1573.0,987.3L1574.6,987.8L1576.2,986.9L1577.9,987.2L1579.5,987.1L1581.2,987.0L1582.8,986.4L1584.4,985.9L1586.1,986.2L1587.7,983.5L1589.4,984.2L1591.0,983.2L1592.6,983.7L1594.3,985.1L1595.9,983.5L1597.6,984.6L1599.2,984.1L1600.8,986.9L1602.5,987.8L1604.1,987.3L1605.8,987.1L1607.4,982.5L1609.0,983.1L1610.7,983.4L1612.3,981.1L1614.0,982.1L1615.6,982.9L1617.2,987.6L1618.9,985.9L1620.5,986.8L1622.2,985.5L1623.8,985.1L1625.4,985.3L1627.1,984.7L1628.7,983.4L1630.4,982.1L1632.0,983.2L1633.6,983.3L1635.3,983.2L1636.9,987.6L1638.6,983.4L1640.2,985.4L1641.8,985.5L1643.5,987.9L1645.1,985.5L1646.8,984.0L1648.4,985.3" fill="none" stroke="rgb(147,120,96)" stroke-width="1.5" stroke-linejoin="round"/><path d="M1069.5,949.4h0M1071.1,946.6h0M1072.8,945.4h0M1074.4,948.0h0M1076.0,941.0h0M1077.7,940.3h0M1079.3,941.6h0M1081.0,934.6h0M1082.6,943.0h0M1084.2,944.3h0M1085.9,946.3h0M1087.5,945.7h0M1089.2,950.6h0M1090.8,947.7h0M1092.4,944.9h0M1094.1,945.5h0M1095.7,941.2h0M1097.4,940.2h0M1099.0,936.0h0M1100.6,940.1h0M1102.3,942.1h0M1103.9,942.9h0M1105.6,948.2h0M1107.2,942.5h0M1108.8,946.4h0M1110.5,951.3h0M1112.1,946.2h0M1113.8,945.8h0M1115.4,945.2h0M1117.0,943.3h0M1118.7,938.6h0M1120.3,940.9h0M1122.0,940.4h0M1123.6,942.3h0M1125.2,947.6h0M1126.9,942.7h0M1128.5,950.2h0M1130.2,950.2h0M1131.8,944.0h0M1133.4,946.7h0M1135.1,943.3h0M1136.7,940.3h0M1138.4,938.7h0M1140.0,937.8h0M1141.6,940.7h0M1143.3,942.3h0M1144.9,947.7h0M1146.6,942.7h0M1148.2,947.9h0M1149.8,950.7h0M1151.5,946.9h0M1153.1,942.7h0M1154.8,942.3h0M1156.4,941.7h0M1158.0,939.2h0M1159.7,940.7h0M1161.3,941.0h0M1163.0,944.6h0M1164.6,949.3h0M1166.2,949.5h0M1167.9,951.5h0M1169.5,948.6h0M1171.2,945.8h0M1172.8,945.3h0M1174.4,947.2h0M1176.1,945.7h0M1177.7,937.5h0M1179.4,941.2h0M1181.0,946.0h0M1182.6,945.0h0M1184.3,947.5h0M1185.9,948.8h0M1187.6,951.3h0M1189.2,953.6h0M1190.8,950.8h0M1192.5,949.6h0M1194.1,945.9h0M1195.8,945.4h0M1197.4,943.4h0M1199.0,938.4h0M1200.7,948.3h0M1202.3,945.6h0M1204.0,951.1h0M1205.6,949.1h0M1207.2,951.7h0M1208.9,954.3h0M1210.5,952.5h0M1212.2,953.8h0M1213.8,953.2h0M1215.4,946.0h0M1217.1,946.8h0M1218.7,947.6h0M1220.4,946.5h0M1222.0,950.2h0M1223.6,957.5h0M1225.3,954.9h0M1226.9,959.6h0M1228.6,956.1h0M1230.2,958.9h0M1231.8,952.7h0M1233.5,953.0h0M1235.1,954.7h0M1236.8,949.7h0M1238.4,945.5h0M1240.0,951.3h0M1241.7,957.3h0M1243.3,959.1h0M1245.0,960.7h0M1246.6,964.1h0M1248.2,962.0h0M1249.9,959.8h0M1251.5,961.8h0M1253.2,957.4h0M1254.8,953.1h0M1256.4,950.2h0M1258.1,955.1h0M1259.7,959.7h0M1261.4,955.8h0M1263.0,963.3h0M1264.6,965.4h0M1266.3,963.0h0M1267.9,968.1h0M1269.6,963.2h0M1271.2,961.7h0M1272.8,962.3h0M1274.5,958.9h0M1276.1,957.3h0M1277.8,953.1h0M1279.4,960.5h0M1281.0,962.5h0M1282.7,961.4h0M1284.3,966.3h0M1286.0,967.0h0M1287.6,967.8h0M1289.2,969.8h0M1290.9,966.1h0M1292.5,960.6h0M1294.2,956.7h0M1295.8,958.4h0M1297.4,956.9h0M1299.1,963.6h0M1300.7,962.4h0M1302.4,966.5h0M1304.0,966.2h0M1305.6,969.5h0M1307.3,970.7h0M1308.9,964.8h0M1310.6,964.1h0M1312.2,964.8h0M1313.8,964.6h0M1315.5,961.9h0M1317.1,961.1h0M1318.8,964.6h0M1320.4,963.3h0M1322.0,966.8h0M1323.7,970.3h0M1325.3,966.9h0M1327.0,969.7h0M1328.6,967.7h0M1330.2,964.7h0M1331.9,966.6h0M1333.5,960.2h0M1335.2,956.8h0M1336.8,956.8h0M1338.4,966.7h0M1340.1,962.8h0M1341.7,965.0h0M1343.4,971.9h0M1345.0,968.4h0M1346.6,970.0h0M1348.3,973.9h0M1349.9,967.4h0M1351.6,964.7h0M1353.2,962.4h0M1354.8,964.4h0M1356.5,957.4h0M1358.1,967.4h0M1359.8,969.2h0M1361.4,966.0h0M1363.0,970.0h0M1364.7,974.0h0M1366.3,973.7h0M1368.0,970.3h0M1369.6,971.2h0M1371.2,964.2h0M1372.9,963.6h0M1374.5,962.8h0M1376.2,962.4h0M1377.8,967.8h0M1379.4,963.4h0M1381.1,971.3h0M1382.7,967.4h0M1384.4,972.1h0M1386.0,973.3h0M1387.6,974.2h0M1389.3,970.1h0M1390.9,970.7h0M1392.6,965.9h0M1394.2,961.8h0M1395.8,959.0h0M1397.5,967.7h0M1399.1,969.8h0M1400.8,968.5h0M1402.4,973.8h0M1404.0,975.2h0M1405.7,974.4h0M1407.3,973.1h0M1409.0,967.3h0M1410.6,971.6h0M1412.2,963.5h0M1413.9,963.5h0M1415.5,965.3h0M1417.2,968.2h0M1418.8,965.3h0M1420.4,973.5h0M1422.1,972.4h0M1423.7,977.0h0M1425.4,975.0h0M1427.0,971.8h0M1428.6,969.8h0M1430.3,970.3h0M1431.9,967.4h0M1433.6,961.6h0M1435.2,960.7h0M1436.8,967.4h0M1438.5,972.0h0M1440.1,968.7h0M1441.8,973.6h0M1443.4,974.5h0M1445.0,978.8h0M1446.7,977.3h0M1448.3,974.9h0M1450.0,969.5h0M1451.6,969.2h0M1453.2,962.5h0M1454.9,966.6h0M1456.5,966.6h0M1458.2,972.9h0M1459.8,973.5h0M1461.4,970.0h0M1463.1,976.7h0M1464.7,977.6h0M1466.4,977.9h0M1468.0,970.1h0M1469.6,970.5h0M1471.3,969.9h0M1472.9,964.8h0M1474.6,966.4h0M1476.2,965.6h0M1477.8,970.7h0M1479.5,976.3h0M1481.1,975.8h0M1482.8,978.9h0M1484.4,975.0h0M1486.0,978.0h0M1487.7,973.6h0M1489.3,970.5h0M1491.0,971.7h0M1492.6,964.9h0M1494.2,964.5h0M1495.9,965.9h0M1497.5,967.7h0M1499.2,970.4h0M1500.8,974.3h0M1502.4,976.4h0M1504.1,978.1h0M1505.7,978.5h0M1507.4,973.4h0M1509.0,968.2h0M1510.6,969.5h0M1512.3,964.0h0M1513.9,967.7h0M1515.6,970.5h0M1517.2,972.0h0M1518.8,971.2h0M1520.5,976.1h0M1522.1,975.1h0M1523.8,980.7h0M1525.4,974.6h0M1527.0,974.8h0M1528.7,968.7h0M1530.3,973.3h0M1532.0,968.6h0M1533.6,963.5h0M1535.2,970.3h0M1536.9,973.2h0M1538.5,972.0h0M1540.2,975.7h0M1541.8,974.3h0M1543.4,977.9h0M1545.1,979.5h0M1546.7,987.8h0M1548.4,989.8h0M1550.0,987.9h0M1551.6,988.1h0M1553.3,990.2h0M1554.9,989.3h0M1556.6,989.5h0M1558.2,988.5h0M1559.8,989.0h0M1561.5,988.2h0M1563.1,987.5h0M1564.8,990.2h0M1566.4,988.6h0M1568.0,989.6h0M1569.7,988.3h0M1571.3,989.3h0M1573.0,987.3h0M1574.6,987.8h0M1576.2,986.9h0M1577.9,987.2h0M1579.5,987.1h0M1581.2,987.0h0M1582.8,986.4h0M1584.4,985.9h0M1586.1,986.2h0M1587.7,983.5h0M1589.4,984.2h0M1591.0,983.2h0M1592.6,983.7h0M1594.3,985.1h0M1595.9,983.5h0M1597.6,984.6h0M1599.2,984.1h0M1600.8,986.9h0M1602.5,987.8h0M1604.1,987.3h0M1605.8,987.1h0M1607.4,982.5h0M1609.0,983.1h0M1610.7,983.4h0M1612.3,981.1h0M1614.0,982.1h0M1615.6,982.9h0M1617.2,987.6h0M1618.9,985.9h0M1620.5,986.8h0M1622.2,985.5h0M1623.8,985.1h0M1625.4,985.3h0M1627.1,984.7h0M1628.7,983.4h0M1630.4,982.1h0M1632.0,983.2h0M1633.6,983.3h0M1635.3,983.2h0M1636.9,987.6h0M1638.6,983.4h0M1640.2,985.4h0M1641.8,985.5h0M1643.5,987.9h0M1645.1,985.5h0M1646.8,984.0h0M1648.4,985.3h0" stroke="rgb(147,120,96)" stroke-width="2.2" stroke-linecap="round" fill="none"/>
<path d="M1069.5,929.6L1071.1,935.5L1072.8,931.2L1074.4,924.2L1076.0,918.8L1077.7,902.7L1079.3,876.0L1081.0,870.3L1082.6,898.9L1084.2,908.9L1085.9,922.2L1087.5,921.6L1089.2,928.3L1090.8,935.8L1092.4,927.4L1094.1,922.3L1095.7,912.0L1097.4,906.4L1099.0,876.4L1100.6,875.4L1102.3,908.4L1103.9,914.9L1105.6,925.5L1107.2,926.4L1108.8,934.9L1110.5,934.9L1112.1,935.9L1113.8,926.7L1115.4,924.3L1117.0,914.5L1118.7,898.5L1120.3,894.0L1122.0,918.2L1123.6,921.7L1125.2,931.4L1126.9,931.1L1128.5,935.3L1130.2,940.3L1131.8,934.6L1133.4,935.3L1135.1,925.8L1136.7,922.7L1138.4,903.2L1140.0,902.6L1141.6,922.7L1143.3,928.1L1144.9,938.7L1146.6,939.7L1148.2,940.5L1149.8,941.5L1151.5,942.9L1153.1,938.3L1154.8,933.9L1156.4,925.6L1158.0,911.1L1159.7,912.8L1161.3,927.4L1163.0,935.1L1164.6,938.0L1166.2,938.0L1167.9,942.7L1169.5,945.1L1171.2,945.5L1172.8,942.2L1174.4,935.9L1176.1,929.5L1177.7,912.4L1179.4,901.4L1181.0,925.4L1182.6,927.7L1184.3,937.3L1185.9,938.0L1187.6,941.4L1189.2,945.1L1190.8,943.5L1192.5,939.1L1194.1,933.1L1195.8,927.0L1197.4,908.7L1199.0,900.5L1200.7,923.9L1202.3,927.8L1204.0,939.0L1205.6,938.8L1207.2,944.9L1208.9,946.6L1210.5,941.8L1212.2,943.1L1213.8,937.3L1215.4,927.4L1217.1,911.7L1218.7,906.3L1220.4,929.5L1222.0,934.8L1223.6,943.5L1225.3,941.4L1226.9,948.5L1228.6,950.6L1230.2,943.7L1231.8,942.2L1233.5,939.3L1235.1,927.1L1236.8,915.0L1238.4,908.2L1240.0,928.8L1241.7,934.8L1243.3,943.2L1245.0,945.8L1246.6,943.9L1248.2,949.0L1249.9,947.0L1251.5,945.1L1253.2,937.4L1254.8,928.4L1256.4,916.9L1258.1,909.9L1259.7,929.3L1261.4,935.7L1263.0,942.6L1264.6,943.0L1266.3,945.5L1267.9,952.8L1269.6,949.2L1271.2,945.5L1272.8,941.0L1274.5,932.4L1276.1,915.2L1277.8,911.4L1279.4,930.3L1281.0,939.0L1282.7,942.0L1284.3,944.1L1286.0,951.7L1287.6,953.3L1289.2,946.7L1290.9,947.0L1292.5,937.4L1294.2,933.7L1295.8,912.5L1297.4,906.7L1299.1,929.8L1300.7,934.6L1302.4,942.8L1304.0,943.5L1305.6,953.3L1307.3,953.2L1308.9,951.7L1310.6,944.4L1312.2,941.0L1313.8,932.7L1315.5,914.3L1317.1,908.6L1318.8,931.2L1320.4,938.4L1322.0,946.2L1323.7,945.5L1325.3,950.6L1327.0,955.5L1328.6,952.0L1330.2,944.9L1331.9,940.9L1333.5,929.5L1335.2,907.2L1336.8,903.3L1338.4,929.4L1340.1,939.1L1341.7,948.2L1343.4,945.2L1345.0,955.2L1346.6,957.9L1348.3,950.5L1349.9,948.0L1351.6,938.9L1353.2,931.5L1354.8,910.0L1356.5,903.3L1358.1,927.4L1359.8,935.0L1361.4,949.9L1363.0,946.9L1364.7,951.6L1366.3,956.2L1368.0,954.0L1369.6,950.2L1371.2,936.7L1372.9,932.1L1374.5,910.6L1376.2,903.6L1377.8,926.3L1379.4,933.5L1381.1,946.1L1382.7,946.2L1384.4,952.0L1386.0,959.3L1387.6,953.0L1389.3,947.1L1390.9,939.0L1392.6,928.5L1394.2,906.5L1395.8,903.2L1397.5,929.7L1399.1,934.3L1400.8,947.4L1402.4,951.3L1404.0,955.1L1405.7,954.9L1407.3,954.7L1409.0,951.4L1410.6,939.3L1412.2,930.1L1413.9,908.7L1415.5,901.2L1417.2,931.6L1418.8,937.4L1420.4,951.6L1422.1,951.5L1423.7,954.9L1425.4,959.7L1427.0,957.2L1428.6,954.3L1430.3,944.9L1431.9,938.4L1433.6,913.8L1435.2,910.7L1436.8,937.4L1438.5,946.0L1440.1,953.9L1441.8,956.8L1443.4,961.4L1445.0,965.3L1446.7,962.8L1448.3,959.8L1450.0,953.4L1451.6,943.7L1453.2,929.2L1454.9,928.6L1456.5,949.5L1458.2,954.0L1459.8,959.1L1461.4,962.8L1463.1,964.9L1464.7,968.6L1466.4,962.1L1468.0,960.8L1469.6,957.1L1471.3,947.9L1472.9,937.6L1474.6,935.0L1476.2,949.2L1477.8,952.3L1479.5,961.0L1481.1,960.0L1482.8,965.3L1484.4,968.6L1486.0,963.9L1487.7,964.7L1489.3,954.5L1491.0,951.3L1492.6,940.5L1494.2,934.8L1495.9,950.1L1497.5,953.5L1499.2,960.1L1500.8,964.2L1502.4,964.2L1504.1,968.3L1505.7,965.2L1507.4,960.7L1509.0,956.8L1510.6,951.5L1512.3,940.7L1513.9,934.6L1515.6,949.8L1517.2,956.8L1518.8,966.2L1520.5,962.1L1522.1,968.3L1523.8,967.8L1525.4,967.2L1527.0,964.0L1528.7,957.4L1530.3,950.9L1532.0,932.9L1533.6,929.9L1535.2,950.3L1536.9,954.4L1538.5,961.0L1540.2,961.8L1541.8,969.7L1543.4,968.7L1545.1,963.1L1546.7,989.7L1548.4,988.8L1550.0,988.2L1551.6,989.9L1553.3,988.7L1554.9,989.1L1556.6,989.0L1558.2,988.5L1559.8,989.7L1561.5,990.0L1563.1,988.9L1564.8,989.2L1566.4,988.2L1568.0,989.1L1569.7,988.1L1571.3,988.3L1573.0,987.9L1574.6,984.9L1576.2,983.2L1577.9,984.3L1579.5,983.4L1581.2,982.9L1582.8,981.3L1584.4,979.7L1586.1,976.2L1587.7,972.1L1589.4,966.3L1591.0,949.2L1592.6,943.1L1594.3,957.6L1595.9,964.2L1597.6,969.8L1599.2,972.4L1600.8,972.8L1602.5,978.4L1604.1,974.8L1605.8,970.0L1607.4,966.8L1609.0,959.6L1610.7,945.7L1612.3,938.4L1614.0,959.2L1615.6,963.4L1617.2,971.3L1618.9,969.2L1620.5,972.8L1622.2,976.2L1623.8,974.2L1625.4,967.2L1627.1,963.3L1628.7,959.3L1630.4,942.6L1632.0,934.8L1633.6,954.6L1635.3,962.0L1636.9,968.2L1638.6,970.4L1640.2,973.6L1641.8,976.9L1643.5,969.7L1645.1,966.2L1646.8,965.2L1648.4,956.3" fill="none" stroke="rgb(218,139,195)" stroke-width="1.5" stroke-linejoin="round"/><path d="M1069.5,929.6h0M1071.1,935.5h0M1072.8,931.2h0M1074.4,924.2h0M1076.0,918.8h0M1077.7,902.7h0M1079.3,876.0h0M1081.0,870.3h0M1082.6,898.9h0M1084.2,908.9h0M1085.9,922.2h0M1087.5,921.6h0M1089.2,928.3h0M1090.8,935.8h0M1092.4,927.4h0M1094.1,922.3h0M1095.7,912.0h0M1097.4,906.4h0M1099.0,876.4h0M1100.6,875.4h0M1102.3,908.4h0M1103.9,914.9h0M1105.6,925.5h0M1107.2,926.4h0M1108.8,934.9h0M1110.5,934.9h0M1112.1,935.9h0M1113.8,926.7h0M1115.4,924.3h0M1117.0,914.5h0M1118.7,898.5h0M1120.3,894.0h0M1122.0,918.2h0M1123.6,921.7h0M1125.2,931.4h0M1126.9,931.1h0M1128.5,935.3h0M1130.2,940.3h0M1131.8,934.6h0M1133.4,935.3h0M1135.1,925.8h0M1136.7,922.7h0M1138.4,903.2h0M1140.0,902.6h0M1141.6,922.7h0M1143.3,928.1h0M1144.9,938.7h0M1146.6,939.7h0M1148.2,940.5h0M1149.8,941.5h0M1151.5,942.9h0M1153.1,938.3h0M1154.8,933.9h0M1156.4,925.6h0M1158.0,911.1h0M1159.7,912.8h0M1161.3,927.4h0M1163.0,935.1h0M1164.6,938.0h0M1166.2,938.0h0M1167.9,942.7h0M1169.5,945.1h0M1171.2,945.5h0M1172.8,942.2h0M1174.4,935.9h0M1176.1,929.5h0M1177.7,912.4h0M1179.4,901.4h0M1181.0,925.4h0M1182.6,927.7h0M1184.3,937.3h0M1185.9,938.0h0M1187.6,941.4h0M1189.2,945.1h0M1190.8,943.5h0M1192.5,939.1h0M1194.1,933.1h0M1195.8,927.0h0M1197.4,908.7h0M1199.0,900.5h0M1200.7,923.9h0M1202.3,927.8h0M1204.0,939.0h0M1205.6,938.8h0M1207.2,944.9h0M1208.9,946.6h0M1210.5,941.8h0M1212.2,943.1h0M1213.8,937.3h0M1215.4,927.4h0M1217.1,911.7h0M1218.7,906.3h0M1220.4,929.5h0M1222.0,934.8h0M1223.6,943.5h0M1225.3,941.4h0M1226.9,948.5h0M1228.6,950.6h0M1230.2,943.7h0M1231.8,942.2h0M1233.5,939.3h0M1235.1,927.1h0M1236.8,915.0h0M1238.4,908.2h0M1240.0,928.8h0M1241.7,934.8h0M1243.3,943.2h0M1245.0,945.8h0M1246.6,943.9h0M1248.2,949.0h0M1249.9,947.0h0M1251.5,945.1h0M1253.2,937.4h0M1254.8,928.4h0M1256.4,916.9h0M1258.1,909.9h0M1259.7,929.3h0M1261.4,935.7h0M1263.0,942.6h0M1264.6,943.0h0M1266.3,945.5h0M1267.9,952.8h0M1269.6,949.2h0M1271.2,945.5h0M1272.8,941.0h0M1274.5,932.4h0M1276.1,915.2h0M1277.8,911.4h0M1279.4,930.3h0M1281.0,939.0h0M1282.7,942.0h0M1284.3,944.1h0M1286.0,951.7h0M1287.6,953.3h0M1289.2,946.7h0M1290.9,947.0h0M1292.5,937.4h0M1294.2,933.7h0M1295.8,912.5h0M1297.4,906.7h0M1299.1,929.8h0M1300.7,934.6h0M1302.4,942.8h0M1304.0,943.5h0M1305.6,953.3h0M1307.3,953.2h0M1308.9,951.7h0M1310.6,944.4h0M1312.2,941.0h0M1313.8,932.7h0M1315.5,914.3h0M1317.1,908.6h0M1318.8,931.2h0M1320.4,938.4h0M1322.0,946.2h0M1323.7,945.5h0M1325.3,950.6h0M1327.0,955.5h0M1328.6,952.0h0M1330.2,944.9h0M1331.9,940.9h0M1333.5,929.5h0M1335.2,907.2h0M1336.8,903.3h0M1338.4,929.4h0M1340.1,939.1h0M1341.7,948.2h0M1343.4,945.2h0M1345.0,955.2h0M1346.6,957.9h0M1348.3,950.5h0M1349.9,948.0h0M1351.6,938.9h0M1353.2,931.5h0M1354.8,910.0h0M1356.5,903.3h0M1358.1,927.4h0M1359.8,935.0h0M1361.4,949.9h0M1363.0,946.9h0M1364.7,951.6h0M1366.3,956.2h0M1368.0,954.0h0M1369.6,950.2h0M1371.2,936.7h0M1372.9,932.1h0M1374.5,910.6h0M1376.2,903.6h0M1377.8,926.3h0M1379.4,933.5h0M1381.1,946.1h0M1382.7,946.2h0M1384.4,952.0h0M1386.0,959.3h0M1387.6,953.0h0M1389.3,947.1h0M1390.9,939.0h0M1392.6,928.5h0M1394.2,906.5h0M1395.8,903.2h0M1397.5,929.7h0M1399.1,934.3h0M1400.8,947.4h0M1402.4,951.3h0M1404.0,955.1h0M1405.7,954.9h0M1407.3,954.7h0M1409.0,951.4h0M1410.6,939.3h0M1412.2,930.1h0M1413.9,908.7h0M1415.5,901.2h0M1417.2,931.6h0M1418.8,937.4h0M1420.4,951.6h0M1422.1,951.5h0M1423.7,954.9h0M1425.4,959.7h0M1427.0,957.2h0M1428.6,954.3h0M1430.3,944.9h0M1431.9,938.4h0M1433.6,913.8h0M1435.2,910.7h0M1436.8,937.4h0M1438.5,946.0h0M1440.1,953.9h0M1441.8,956.8h0M1443.4,961.4h0M1445.0,965.3h0M1446.7,962.8h0M1448.3,959.8h0M1450.0,953.4h0M1451.6,943.7h0M1453.2,929.2h0M1454.9,928.6h0M1456.5,949.5h0M1458.2,954.0h0M1459.8,959.1h0M1461.4,962.8h0M1463.1,964.9h0M1464.7,968.6h0M1466.4,962.1h0M1468.0,960.8h0M1469.6,957.1h0M1471.3,947.9h0M1472.9,937.6h0M1474.6,935.0h0M1476.2,949.2h0M1477.8,952.3h0M1479.5,961.0h0M1481.1,960.0h0M1482.8,965.3h0M1484.4,968.6h0M1486.0,963.9h0M1487.7,964.7h0M1489.3,954.5h0M1491.0,951.3h0M1492.6,940.5h0M1494.2,934.8h0M1495.9,950.1h0M1497.5,953.5h0M1499.2,960.1h0M1500.8,964.2h0M1502.4,964.2h0M1504.1,968.3h0M1505.7,965.2h0M1507.4,960.7h0M1509.0,956.8h0M1510.6,951.5h0M1512.3,940.7h0M1513.9,934.6h0M1515.6,949.8h0M1517.2,956.8h0M1518.8,966.2h0M1520.5,962.1h0M1522.1,968.3h0M1523.8,967.8h0M1525.4,967.2h0M1527.0,964.0h0M1528.7,957.4h0M1530.3,950.9h0M1532.0,932.9h0M1533.6,929.9h0M1535.2,950.3h0M1536.9,954.4h0M1538.5,961.0h0M1540.2,961.8h0M1541.8,969.7h0M1543.4,968.7h0M1545.1,963.1h0M1546.7,989.7h0M1548.4,988.8h0M1550.0,988.2h0M1551.6,989.9h0M1553.3,988.7h0M1554.9,989.1h0M1556.6,989.0h0M1558.2,988.5h0M1559.8,989.7h0M1561.5,990.0h0M1563.1,988.9h0M1564.8,989.2h0M1566.4,988.2h0M1568.0,989.1h0M1569.7,988.1h0M1571.3,988.3h0M1573.0,987.9h0M1574.6,984.9h0M1576.2,983.2h0M1577.9,984.3h0M1579.5,983.4h0M1581.2,982.9h0M1582.8,981.3h0M1584.4,979.7h0M1586.1,976.2h0M1587.7,972.1h0M1589.4,966.3h0M1591.0,949.2h0M1592.6,943.1h0M1594.3,957.6h0M1595.9,964.2h0M1597.6,969.8h0M1599.2,972.4h0M1600.8,972.8h0M1602.5,978.4h0M1604.1,974.8h0M1605.8,970.0h0M1607.4,966.8h0M1609.0,959.6h0M1610.7,945.7h0M1612.3,938.4h0M1614.0,959.2h0M1615.6,963.4h0M1617.2,971.3h0M1618.9,969.2h0M1620.5,972.8h0M1622.2,976.2h0M1623.8,974.2h0M1625.4,967.2h0M1627.1,963.3h0M1628.7,959.3h0M1630.4,942.6h0M1632.0,934.8h0M1633.6,954.6h0M1635.3,962.0h0M1636.9,968.2h0M1638.6,970.4h0M1640.2,973.6h0M1641.8,976.9h0M1643.5,969.7h0M1645.1,966.2h0M1646.8,965.2h0M1648.4,956.3h0" stroke="rgb(218,139,195)" stroke-width="2.2" stroke-linecap="round" fill="none"/>
<path d="M1069.5,961.0L1071.1,962.1L1072.8,958.1L1074.4,960.1L1076.0,956.5L1077.7,946.4L1079.3,936.8L1081.0,932.7L1082.6,945.4L1084.2,953.4L1085.9,955.2L1087.5,958.3L1089.2,963.5L1090.8,960.0L1092.4,959.4L1094.1,959.7L1095.7,950.4L1097.4,944.7L1099.0,931.3L1100.6,927.4L1102.3,942.1L1103.9,952.6L1105.6,953.6L1107.2,956.2L1108.8,961.6L1110.5,961.1L1112.1,959.8L1113.8,955.0L1115.4,949.5L1117.0,943.9L1118.7,931.5L1120.3,925.0L1122.0,943.9L1123.6,946.3L1125.2,952.6L1126.9,954.2L1128.5,959.0L1130.2,963.0L1131.8,956.6L1133.4,956.0L1135.1,946.1L1136.7,943.7L1138.4,922.8L1140.0,923.3L1141.6,938.7L1143.3,946.8L1144.9,953.5L1146.6,955.1L1148.2,959.4L1149.8,960.8L1151.5,955.3L1153.1,954.8L1154.8,948.8L1156.4,938.7L1158.0,925.1L1159.7,918.8L1161.3,939.4L1163.0,945.5L1164.6,956.3L1166.2,953.7L1167.9,959.4L1169.5,964.1L1171.2,959.1L1172.8,957.3L1174.4,949.3L1176.1,942.6L1177.7,923.5L1179.4,916.1L1181.0,938.2L1182.6,947.0L1184.3,955.3L1185.9,956.0L1187.6,959.9L1189.2,960.4L1190.8,960.9L1192.5,954.1L1194.1,949.1L1195.8,939.1L1197.4,922.6L1199.0,921.6L1200.7,943.9L1202.3,946.0L1204.0,957.9L1205.6,957.1L1207.2,964.2L1208.9,963.7L1210.5,961.2L1212.2,957.7L1213.8,954.7L1215.4,942.1L1217.1,926.1L1218.7,922.2L1220.4,943.7L1222.0,951.9L1223.6,960.3L1225.3,957.4L1226.9,964.2L1228.6,965.9L1230.2,960.0L1231.8,960.2L1233.5,951.1L1235.1,949.3L1236.8,930.6L1238.4,929.8L1240.0,949.6L1241.7,953.1L1243.3,958.4L1245.0,963.5L1246.6,964.0L1248.2,964.3L1249.9,966.4L1251.5,960.9L1253.2,956.9L1254.8,949.4L1256.4,932.6L1258.1,930.5L1259.7,949.7L1261.4,955.5L1263.0,959.4L1264.6,964.2L1266.3,964.3L1267.9,964.6L1269.6,963.5L1271.2,959.3L1272.8,958.5L1274.5,948.8L1276.1,933.2L1277.8,931.6L1279.4,949.0L1281.0,955.3L1282.7,964.4L1284.3,963.6L1286.0,969.1L1287.6,966.3L1289.2,967.6L1290.9,962.2L1292.5,955.6L1294.2,952.4L1295.8,930.5L1297.4,925.6L1299.1,948.3L1300.7,954.5L1302.4,960.9L1304.0,963.3L1305.6,969.4L1307.3,967.4L1308.9,968.4L1310.6,962.9L1312.2,956.9L1313.8,947.7L1315.5,932.3L1317.1,925.2L1318.8,949.9L1320.4,953.3L1322.0,965.6L1323.7,965.4L1325.3,968.6L1327.0,969.8L1328.6,965.1L1330.2,961.0L1331.9,957.3L1333.5,951.1L1335.2,928.5L1336.8,922.5L1338.4,945.9L1340.1,956.8L1341.7,962.3L1343.4,967.3L1345.0,967.7L1346.6,969.4L1348.3,967.9L1349.9,964.4L1351.6,955.9L1353.2,949.7L1354.8,925.6L1356.5,917.9L1358.1,943.5L1359.8,952.2L1361.4,962.7L1363.0,962.3L1364.7,970.6L1366.3,973.6L1368.0,965.4L1369.6,966.6L1371.2,957.3L1372.9,945.2L1374.5,922.2L1376.2,916.4L1377.8,947.3L1379.4,951.3L1381.1,965.7L1382.7,965.0L1384.4,969.5L1386.0,970.1L1387.6,970.2L1389.3,965.0L1390.9,957.5L1392.6,947.5L1394.2,926.0L1395.8,917.8L1397.5,946.5L1399.1,954.4L1400.8,962.2L1402.4,967.6L1404.0,970.6L1405.7,976.0L1407.3,971.4L1409.0,962.2L1410.6,954.6L1412.2,943.5L1413.9,925.5L1415.5,914.6L1417.2,946.0L1418.8,951.1L1420.4,963.9L1422.1,965.9L1423.7,970.0L1425.4,975.0L1427.0,968.9L1428.6,962.8L1430.3,956.5L1431.9,946.5L1433.6,924.6L1435.2,924.1L1436.8,946.6L1438.5,953.0L1440.1,965.7L1441.8,968.0L1443.4,970.7L1445.0,976.2L1446.7,968.7L1448.3,965.3L1450.0,963.5L1451.6,953.0L1453.2,936.6L1454.9,930.9L1456.5,954.1L1458.2,962.2L1459.8,970.7L1461.4,970.1L1463.1,974.7L1464.7,976.2L1466.4,970.6L1468.0,966.0L1469.6,964.9L1471.3,955.9L1472.9,941.2L1474.6,935.7L1476.2,952.8L1477.8,961.6L1479.5,967.9L1481.1,969.3L1482.8,974.7L1484.4,974.8L1486.0,968.8L1487.7,967.1L1489.3,965.0L1491.0,957.4L1492.6,943.0L1494.2,937.1L1495.9,955.9L1497.5,963.2L1499.2,969.1L1500.8,966.6L1502.4,973.6L1504.1,974.1L1505.7,969.0L1507.4,969.5L1509.0,964.4L1510.6,957.0L1512.3,943.2L1513.9,939.2L1515.6,958.0L1517.2,960.1L1518.8,967.3L1520.5,968.2L1522.1,975.4L1523.8,976.5L1525.4,969.6L1527.0,967.4L1528.7,963.7L1530.3,954.1L1532.0,940.3L1533.6,936.0L1535.2,951.6L1536.9,957.6L1538.5,968.1L1540.2,969.3L1541.8,970.2L1543.4,974.4L1545.1,968.4L1546.7,988.5L1548.4,988.4L1550.0,990.0L1551.6,988.1L1553.3,989.8L1554.9,988.4L1556.6,988.7L1558.2,989.3L1559.8,988.3L1561.5,988.6L1563.1,989.0L1564.8,988.2L1566.4,989.9L1568.0,987.8L1569.7,988.0L1571.3,988.7L1573.0,986.8L1574.6,986.2L1576.2,985.3L1577.9,983.5L1579.5,984.1L1581.2,983.8L1582.8,984.1L1584.4,981.8L1586.1,976.7L1587.7,974.1L1589.4,968.1L1591.0,952.3L1592.6,949.1L1594.3,962.6L1595.9,965.9L1597.6,973.4L1599.2,975.0L1600.8,977.0L1602.5,981.3L1604.1,975.7L1605.8,974.1L1607.4,967.3L1609.0,963.9L1610.7,948.7L1612.3,942.0L1614.0,959.7L1615.6,965.4L1617.2,975.0L1618.9,973.7L1620.5,976.5L1622.2,978.6L1623.8,975.6L1625.4,971.5L1627.1,966.2L1628.7,959.8L1630.4,944.5L1632.0,937.9L1633.6,958.5L1635.3,963.6L1636.9,971.0L1638.6,973.6L1640.2,975.6L1641.8,976.2L1643.5,976.6L1645.1,969.8L1646.8,967.8L1648.4,958.4" fill="none" stroke="rgb(140,140,140)" stroke-width="1.5" stroke-linejoin="round"/><path d="M1069.5,961.0h0M1071.1,962.1h0M1072.8,958.1h0M1074.4,960.1h0M1076.0,956.5h0M1077.7,946.4h0M1079.3,936.8h0M1081.0,932.7h0M1082.6,945.4h0M1084.2,953.4h0M1085.9,955.2h0M1087.5,958.3h0M1089.2,963.5h0M1090.8,960.0h0M1092.4,959.4h0M1094.1,959.7h0M1095.7,950.4h0M1097.4,944.7h0M1099.0,931.3h0M1100.6,927.4h0M1102.3,942.1h0M1103.9,952.6h0M1105.6,953.6h0M1107.2,956.2h0M1108.8,961.6h0M1110.5,961.1h0M1112.1,959.8h0M1113.8,955.0h0M1115.4,949.5h0M1117.0,943.9h0M1118.7,931.5h0M1120.3,925.0h0M1122.0,943.9h0M1123.6,946.3h0M1125.2,952.6h0M1126.9,954.2h0M1128.5,959.0h0M1130.2,963.0h0M1131.8,956.6h0M1133.4,956.0h0M1135.1,946.1h0M1136.7,943.7h0M1138.4,922.8h0M1140.0,923.3h0M1141.6,938.7h0M1143.3,946.8h0M1144.9,953.5h0M1146.6,955.1h0M1148.2,959.4h0M1149.8,960.8h0M1151.5,955.3h0M1153.1,954.8h0M1154.8,948.8h0M1156.4,938.7h0M1158.0,925.1h0M1159.7,918.8h0M1161.3,939.4h0M1163.0,945.5h0M1164.6,956.3h0M1166.2,953.7h0M1167.9,959.4h0M1169.5,964.1h0M1171.2,959.1h0M1172.8,957.3h0M1174.4,949.3h0M1176.1,942.6h0M1177.7,923.5h0M1179.4,916.1h0M1181.0,938.2h0M1182.6,947.0h0M1184.3,955.3h0M1185.9,956.0h0M1187.6,959.9h0M1189.2,960.4h0M1190.8,960.9h0M1192.5,954.1h0M1194.1,949.1h0M1195.8,939.1h0M1197.4,922.6h0M1199.0,921.6h0M1200.7,943.9h0M1202.3,946.0h0M1204.0,957.9h0M1205.6,957.1h0M1207.2,964.2h0M1208.9,963.7h0M1210.5,961.2h0M1212.2,957.7h0M1213.8,954.7h0M1215.4,942.1h0M1217.1,926.1h0M1218.7,922.2h0M1220.4,943.7h0M1222.0,951.9h0M1223.6,960.3h0M1225.3,957.4h0M1226.9,964.2h0M1228.6,965.9h0M1230.2,960.0h0M1231.8,960.2h0M1233.5,951.1h0M1235.1,949.3h0M1236.8,930.6h0M1238.4,929.8h0M1240.0,949.6h0M1241.7,953.1h0M1243.3,958.4h0M1245.0,963.5h0M1246.6,964.0h0M1248.2,964.3h0M1249.9,966.4h0M1251.5,960.9h0M1253.2,956.9h0M1254.8,949.4h0M1256.4,932.6h0M1258.1,930.5h0M1259.7,949.7h0M1261.4,955.5h0M1263.0,959.4h0M1264.6,964.2h0M1266.3,964.3h0M1267.9,964.6h0M1269.6,963.5h0M1271.2,959.3h0M1272.8,958.5h0M1274.5,948.8h0M1276.1,933.2h0M1277.8,931.6h0M1279.4,949.0h0M1281.0,955.3h0M1282.7,964.4h0M1284.3,963.6h0M1286.0,969.1h0M1287.6,966.3h0M1289.2,967.6h0M1290.9,962.2h0M1292.5,955.6h0M1294.2,952.4h0M1295.8,930.5h0M1297.4,925.6h0M1299.1,948.3h0M1300.7,954.5h0M1302.4,960.9h0M1304.0,963.3h0M1305.6,969.4h0M1307.3,967.4h0M1308.9,968.4h0M1310.6,962.9h0M1312.2,956.9h0M1313.8,947.7h0M1315.5,932.3h0M1317.1,925.2h0M1318.8,949.9h0M1320.4,953.3h0M1322.0,965.6h0M1323.7,965.4h0M1325.3,968.6h0M1327.0,969.8h0M1328.6,965.1h0M1330.2,961.0h0M1331.9,957.3h0M1333.5,951.1h0M1335.2,928.5h0M1336.8,922.5h0M1338.4,945.9h0M1340.1,956.8h0M1341.7,962.3h0M1343.4,967.3h0M1345.0,967.7h0M1346.6,969.4h0M1348.3,967.9h0M1349.9,964.4h0M1351.6,955.9h0M1353.2,949.7h0M1354.8,925.6h0M1356.5,917.9h0M1358.1,943.5h0M1359.8,952.2h0M1361.4,962.7h0M1363.0,962.3h0M1364.7,970.6h0M1366.3,973.6h0M1368.0,965.4h0M1369.6,966.6h0M1371.2,957.3h0M1372.9,945.2h0M1374.5,922.2h0M1376.2,916.4h0M1377.8,947.3h0M1379.4,951.3h0M1381.1,965.7h0M1382.7,965.0h0M1384.4,969.5h0M1386.0,970.1h0M1387.6,970.2h0M1389.3,965.0h0M1390.9,957.5h0M1392.6,947.5h0M1394.2,926.0h0M1395.8,917.8h0M1397.5,946.5h0M1399.1,954.4h0M1400.8,962.2h0M1402.4,967.6h0M1404.0,970.6h0M1405.7,976.0h0M1407.3,971.4h0M1409.0,962.2h0M1410.6,954.6h0M1412.2,943.5h0M1413.9,925.5h0M1415.5,914.6h0M1417.2,946.0h0M1418.8,951.1h0M1420.4,963.9h0M1422.1,965.9h0M1423.7,970.0h0M1425.4,975.0h0M1427.0,968.9h0M1428.6,962.8h0M1430.3,956.5h0M1431.9,946.5h0M1433.6,924.6h0M1435.2,924.1h0M1436.8,946.6h0M1438.5,953.0h0M1440.1,965.7h0M1441.8,968.0h0M1443.4,970.7h0M1445.0,976.2h0M1446.7,968.7h0M1448.3,965.3h0M1450.0,963.5h0M1451.6,953.0h0M1453.2,936.6h0M1454.9,930.9h0M1456.5,954.1h0M1458.2,962.2h0M1459.8,970.7h0M1461.4,970.1h0M1463.1,974.7h0M1464.7,976.2h0M1466.4,970.6h0M1468.0,966.0h0M1469.6,964.9h0M1471.3,955.9h0M1472.9,941.2h0M1474.6,935.7h0M1476.2,952.8h0M1477.8,961.6h0M1479.5,967.9h0M1481.1,969.3h0M1482.8,974.7h0M1484.4,974.8h0M1486.0,968.8h0M1487.7,967.1h0M1489.3,965.0h0M1491.0,957.4h0M1492.6,943.0h0M1494.2,937.1h0M1495.9,955.9h0M1497.5,963.2h0M1499.2,969.1h0M1500.8,966.6h0M1502.4,973.6h0M1504.1,974.1h0M1505.7,969.0h0M1507.4,969.5h0M1509.0,964.4h0M1510.6,957.0h0M1512.3,943.2h0M1513.9,939.2h0M1515.6,958.0h0M1517.2,960.1h0M1518.8,967.3h0M1520.5,968.2h0M1522.1,975.4h0M1523.8,976.5h0M1525.4,969.6h0M1527.0,967.4h0M1528.7,963.7h0M1530.3,954.1h0M1532.0,940.3h0M1533.6,936.0h0M1535.2,951.6h0M1536.9,957.6h0M1538.5,968.1h0M1540.2,969.3h0M1541.8,970.2h0M1543.4,974.4h0M1545.1,968.4h0M1546.7,988.5h0M1548.4,988.4h0M1550.0,990.0h0M1551.6,988.1h0M1553.3,989.8h0M1554.9,988.4h0M1556.6,988.7h0M1558.2,989.3h0M1559.8,988.3h0M1561.5,988.6h0M1563.1,989.0h0M1564.8,988.2h0M1566.4,989.9h0M1568.0,987.8h0M1569.7,988.0h0M1571.3,988.7h0M1573.0,986.8h0M1574.6,986.2h0M1576.2,985.3h0M1577.9,983.5h0M1579.5,984.1h0M1581.2,983.8h0M1582.8,984.1h0M1584.4,981.8h0M1586.1,976.7h0M1587.7,974.1h0M1589.4,968.1h0M1591.0,952.3h0M1592.6,949.1h0M1594.3,962.6h0M1595.9,965.9h0M1597.6,973.4h0M1599.2,975.0h0M1600.8,977.0h0M1602.5,981.3h0M1604.1,975.7h0M1605.8,974.1h0M1607.4,967.3h0M1609.0,963.9h0M1610.7,948.7h0M1612.3,942.0h0M1614.0,959.7h0M1615.6,965.4h0M1617.2,975.0h0M1618.9,973.7h0M1620.5,976.5h0M1622.2,978.6h0M1623.8,975.6h0M1625.4,971.5h0M1627.1,966.2h0M1628.7,959.8h0M1630.4,944.5h0M1632.0,937.9h0M1633.6,958.5h0M1635.3,963.6h0M1636.9,971.0h0M1638.6,973.6h0M1640.2,975.6h0M1641.8,976.2h0M1643.5,976.6h0M1645.1,969.8h0M1646.8,967.8h0M1648.4,958.4h0" stroke="rgb(140,140,140)" stroke-width="2.2" stroke-linecap="round" fill="none"/>
<path d="M1069.5,989.6L1071.1,989.9L1072.8,988.9L1074.4,989.0L1076.0,988.5L1077.7,987.5L1079.3,986.8L1081.0,986.9L1082.6,987.6L1084.2,987.5L1085.9,989.1L1087.5,989.2L1089.2,989.9L1090.8,989.9L1092.4,989.7L1094.1,988.2L1095.7,988.4L1097.4,987.0L1099.0,987.3L1100.6,986.3L1102.3,987.6L1103.9,987.9L1105.6,988.6L1107.2,989.3L1108.8,989.7L1110.5,989.5L1112.1,989.7L1113.8,989.5L1115.4,988.0L1117.0,987.6L1118.7,987.3L1120.3,986.9L1122.0,987.3L1123.6,988.5L1125.2,989.4L1126.9,989.2L1128.5,990.0L1130.2,990.0L1131.8,990.0L1133.4,988.7L1135.1,988.1L1136.7,988.1L1138.4,987.4L1140.0,987.4L1141.6,987.4L1143.3,987.9L1144.9,988.9L1146.6,989.6L1148.2,990.1L1149.8,989.7L1151.5,989.9L1153.1,988.9L1154.8,988.7L1156.4,988.6L1158.0,987.8L1159.7,986.8L1161.3,988.3L1163.0,988.3L1164.6,988.9L1166.2,989.5L1167.9,989.8L1169.5,989.7L1171.2,989.4L1172.8,989.3L1174.4,988.7L1176.1,988.3L1177.7,987.7L1179.4,987.2L1181.0,988.6L1182.6,988.3L1184.3,989.6L1185.9,989.9L1187.6,989.4L1189.2,990.8L1190.8,990.0L1192.5,989.4L1194.1,989.0L1195.8,988.0L1197.4,987.5L1199.0,987.6L1200.7,989.0L1202.3,988.3L1204.0,989.7L1205.6,989.8L1207.2,990.4L1208.9,990.7L1210.5,990.5L1212.2,990.0L1213.8,988.9L1215.4,988.8L1217.1,987.9L1218.7,987.6L1220.4,989.1L1222.0,988.7L1223.6,990.0L1225.3,989.5L1226.9,989.8L1228.6,990.6L1230.2,990.3L1231.8,989.7L1233.5,988.7L1235.1,988.1L1236.8,987.8L1238.4,988.1L1240.0,988.9L1241.7,988.9L1243.3,990.0L1245.0,989.6L1246.6,990.5L1248.2,990.5L1249.9,990.2L1251.5,989.8L1253.2,989.0L1254.8,988.4L1256.4,987.9L1258.1,988.0L1259.7,989.0L1261.4,989.4L1263.0,990.0L1264.6,989.7L1266.3,990.2L1267.9,991.2L1269.6,990.7L1271.2,990.5L1272.8,989.7L1274.5,988.6L1276.1,988.3L1277.8,988.9L1279.4,988.8L1281.0,989.3L1282.7,990.1L1284.3,990.8L1286.0,991.2L1287.6,991.4L1289.2,990.1L1290.9,990.3L1292.5,990.2L1294.2,988.8L1295.8,988.6L1297.4,988.6L1299.1,989.3L1300.7,990.0L1302.4,990.8L1304.0,990.0L1305.6,990.3L1307.3,991.2L1308.9,990.6L1310.6,989.9L1312.2,990.4L1313.8,988.7L1315.5,989.2L1317.1,988.8L1318.8,989.9L1320.4,990.1L1322.0,990.8L1323.7,990.8L1325.3,990.9L1327.0,991.0L1328.6,990.8L1330.2,990.1L1331.9,989.4L1333.5,989.8L1335.2,989.1L1336.8,988.7L1338.4,989.9L1340.1,990.5L1341.7,990.1L1343.4,990.6L1345.0,991.2L1346.6,991.1L1348.3,991.2L1349.9,990.7L1351.6,990.5L1353.2,989.7L1354.8,989.2L1356.5,988.9L1358.1,989.2L1359.8,989.7L1361.4,990.4L1363.0,990.6L1364.7,990.7L1366.3,991.7L1368.0,990.4L1369.6,991.0L1371.2,989.7L1372.9,989.7L1374.5,988.9L1376.2,988.4L1377.8,990.3L1379.4,990.3L1381.1,991.1L1382.7,991.0L1384.4,991.5L1386.0,991.2L1387.6,990.7L1389.3,991.0L1390.9,990.3L1392.6,990.2L1394.2,989.7L1395.8,989.5L1397.5,990.3L1399.1,989.7L1400.8,991.0L1402.4,990.7L1404.0,990.9L1405.7,991.8L1407.3,991.2L1409.0,990.6L1410.6,990.4L1412.2,989.7L1413.9,989.8L1415.5,988.7L1417.2,989.3L1418.8,989.7L1420.4,990.5L1422.1,990.8L1423.7,991.6L1425.4,992.0L1427.0,991.3L1428.6,991.2L1430.3,990.2L1431.9,989.4L1433.6,989.6L1435.2,989.1L1436.8,990.3L1438.5,989.7L1440.1,990.7L1441.8,990.9L1443.4,991.4L1445.0,991.9L1446.7,990.8L1448.3,990.9L1450.0,989.9L1451.6,989.7L1453.2,988.9L1454.9,989.5L1456.5,989.8L1458.2,990.2L1459.8,991.5L1461.4,990.7L1463.1,991.7L1464.7,991.8L1466.4,991.9L1468.0,991.1L1469.6,991.0L1471.3,990.3L1472.9,989.1L1474.6,989.7L1476.2,989.8L1477.8,990.7L1479.5,990.9L1481.1,990.8L1482.8,991.8L1484.4,992.2L1486.0,990.9L1487.7,991.3L1489.3,990.3L1491.0,990.4L1492.6,989.0L1494.2,988.9L1495.9,990.5L1497.5,990.1L1499.2,991.5L1500.8,990.8L1502.4,992.2L1504.1,992.0L1505.7,992.1L1507.4,990.7L1509.0,990.9L1510.6,990.1L1512.3,989.3L1513.9,989.8L1515.6,990.0L1517.2,990.4L1518.8,991.1L1520.5,991.6L1522.1,991.8L1523.8,991.9L1525.4,991.2L1527.0,991.7L1528.7,990.5L1530.3,990.8L1532.0,990.0L1533.6,990.1L1535.2,990.8L1536.9,990.5L1538.5,990.7L1540.2,991.0L1541.8,991.7L1543.4,991.4L1545.1,992.2L1546.7,993.9L1548.4,993.4L1550.0,993.6L1551.6,993.7L1553.3,993.6L1554.9,993.5L1556.6,993.5L1558.2,993.5L1559.8,993.5L1561.5,993.4L1563.1,993.4L1564.8,993.8L1566.4,993.4L1568.0,993.4L1569.7,993.7L1571.3,993.6L1573.0,993.6L1574.6,993.6L1576.2,993.5L1577.9,993.6L1579.5,993.3L1581.2,993.4L1582.8,993.9L1584.4,993.8L1586.1,993.2L1587.7,993.2L1589.4,993.2L1591.0,992.9L1592.6,992.5L1594.3,992.9L1595.9,993.5L1597.6,993.3L1599.2,993.7L1600.8,993.9L1602.5,993.9L1604.1,993.8L1605.8,993.8L1607.4,993.2L1609.0,992.9L1610.7,993.3L1612.3,992.9L1614.0,992.8L1615.6,993.2L1617.2,993.8L1618.9,993.3L1620.5,993.5L1622.2,993.9L1623.8,993.8L1625.4,993.8L1627.1,993.6L1628.7,993.2L1630.4,993.0L1632.0,992.9L1633.6,993.2L1635.3,993.5L1636.9,993.8L1638.6,993.2L1640.2,993.7L1641.8,993.8L1643.5,993.5L1645.1,993.5L1646.8,993.0L1648.4,992.7" fill="none" stroke="rgb(200,190,60)" stroke-width="1.5" stroke-linejoin="round"/><path d="M1069.5,989.6h0M1071.1,989.9h0M1072.8,988.9h0M1074.4,989.0h0M1076.0,988.5h0M1077.7,987.5h0M1079.3,986.8h0M1081.0,986.9h0M1082.6,987.6h0M1084.2,987.5h0M1085.9,989.1h0M1087.5,989.2h0M1089.2,989.9h0M1090.8,989.9h0M1092.4,989.7h0M1094.1,988.2h0M1095.7,988.4h0M1097.4,987.0h0M1099.0,987.3h0M1100.6,986.3h0M1102.3,987.6h0M1103.9,987.9h0M1105.6,988.6h0M1107.2,989.3h0M1108.8,989.7h0M1110.5,989.5h0M1112.1,989.7h0M1113.8,989.5h0M1115.4,988.0h0M1117.0,987.6h0M1118.7,987.3h0M1120.3,986.9h0M1122.0,987.3h0M1123.6,988.5h0M1125.2,989.4h0M1126.9,989.2h0M1128.5,990.0h0M1130.2,990.0h0M1131.8,990.0h0M1133.4,988.7h0M1135.1,988.1h0M1136.7,988.1h0M1138.4,987.4h0M1140.0,987.4h0M1141.6,987.4h0M1143.3,987.9h0M1144.9,988.9h0M1146.6,989.6h0M1148.2,990.1h0M1149.8,989.7h0M1151.5,989.9h0M1153.1,988.9h0M1154.8,988.7h0M1156.4,988.6h0M1158.0,987.8h0M1159.7,986.8h0M1161.3,988.3h0M1163.0,988.3h0M1164.6,988.9h0M1166.2,989.5h0M1167.9,989.8h0M1169.5,989.7h0M1171.2,989.4h0M1172.8,989.3h0M1174.4,988.7h0M1176.1,988.3h0M1177.7,987.7h0M1179.4,987.2h0M1181.0,988.6h0M1182.6,988.3h0M1184.3,989.6h0M1185.9,989.9h0M1187.6,989.4h0M1189.2,990.8h0M1190.8,990.0h0M1192.5,989.4h0M1194.1,989.0h0M1195.8,988.0h0M1197.4,987.5h0M1199.0,987.6h0M1200.7,989.0h0M1202.3,988.3h0M1204.0,989.7h0M1205.6,989.8h0M1207.2,990.4h0M1208.9,990.7h0M1210.5,990.5h0M1212.2,990.0h0M1213.8,988.9h0M1215.4,988.8h0M1217.1,987.9h0M1218.7,987.6h0M1220.4,989.1h0M1222.0,988.7h0M1223.6,990.0h0M1225.3,989.5h0M1226.9,989.8h0M1228.6,990.6h0M1230.2,990.3h0M1231.8,989.7h0M1233.5,988.7h0M1235.1,988.1h0M1236.8,987.8h0M1238.4,988.1h0M1240.0,988.9h0M1241.7,988.9h0M1243.3,990.0h0M1245.0,989.6h0M1246.6,990.5h0M1248.2,990.5h0M1249.9,990.2h0M1251.5,989.8h0M1253.2,989.0h0M1254.8,988.4h0M1256.4,987.9h0M1258.1,988.0h0M1259.7,989.0h0M1261.4,989.4h0M1263.0,990.0h0M1264.6,989.7h0M1266.3,990.2h0M1267.9,991.2h0M1269.6,990.7h0M1271.2,990.5h0M1272.8,989.7h0M1274.5,988.6h0M1276.1,988.3h0M1277.8,988.9h0M1279.4,988.8h0M1281.0,989.3h0M1282.7,990.1h0M1284.3,990.8h0M1286.0,991.2h0M1287.6,991.4h0M1289.2,990.1h0M1290.9,990.3h0M1292.5,990.2h0M1294.2,988.8h0M1295.8,988.6h0M1297.4,988.6h0M1299.1,989.3h0M1300.7,990.0h0M1302.4,990.8h0M1304.0,990.0h0M1305.6,990.3h0M1307.3,991.2h0M1308.9,990.6h0M1310.6,989.9h0M1312.2,990.4h0M1313.8,988.7h0M1315.5,989.2h0M1317.1,988.8h0M1318.8,989.9h0M1320.4,990.1h0M1322.0,990.8h0M1323.7,990.8h0M1325.3,990.9h0M1327.0,991.0h0M1328.6,990.8h0M1330.2,990.1h0M1331.9,989.4h0M1333.5,989.8h0M1335.2,989.1h0M1336.8,988.7h0M1338.4,989.9h0M1340.1,990.5h0M1341.7,990.1h0M1343.4,990.6h0M1345.0,991.2h0M1346.6,991.1h0M1348.3,991.2h0M1349.9,990.7h0M1351.6,990.5h0M1353.2,989.7h0M1354.8,989.2h0M1356.5,988.9h0M1358.1,989.2h0M1359.8,989.7h0M1361.4,990.4h0M1363.0,990.6h0M1364.7,990.7h0M1366.3,991.7h0M1368.0,990.4h0M1369.6,991.0h0M1371.2,989.7h0M1372.9,989.7h0M1374.5,988.9h0M1376.2,988.4h0M1377.8,990.3h0M1379.4,990.3h0M1381.1,991.1h0M1382.7,991.0h0M1384.4,991.5h0M1386.0,991.2h0M1387.6,990.7h0M1389.3,991.0h0M1390.9,990.3h0M1392.6,990.2h0M1394.2,989.7h0M1395.8,989.5h0M1397.5,990.3h0M1399.1,989.7h0M1400.8,991.0h0M1402.4,990.7h0M1404.0,990.9h0M1405.7,991.8h0M1407.3,991.2h0M1409.0,990.6h0M1410.6,990.4h0M1412.2,989.7h0M1413.9,989.8h0M1415.5,988.7h0M1417.2,989.3h0M1418.8,989.7h0M1420.4,990.5h0M1422.1,990.8h0M1423.7,991.6h0M1425.4,992.0h0M1427.0,991.3h0M1428.6,991.2h0M1430.3,990.2h0M1431.9,989.4h0M1433.6,989.6h0M1435.2,989.1h0M1436.8,990.3h0M1438.5,989.7h0M1440.1,990.7h0M1441.8,990.9h0M1443.4,991.4h0M1445.0,991.9h0M1446.7,990.8h0M1448.3,990.9h0M1450.0,989.9h0M1451.6,989.7h0M1453.2,988.9h0M1454.9,989.5h0M1456.5,989.8h0M1458.2,990.2h0M1459.8,991.5h0M1461.4,990.7h0M1463.1,991.7h0M1464.7,991.8h0M1466.4,991.9h0M1468.0,991.1h0M1469.6,991.0h0M1471.3,990.3h0M1472.9,989.1h0M1474.6,989.7h0M1476.2,989.8h0M1477.8,990.7h0M1479.5,990.9h0M1481.1,990.8h0M1482.8,991.8h0M1484.4,992.2h0M1486.0,990.9h0M1487.7,991.3h0M1489.3,990.3h0M1491.0,990.4h0M1492.6,989.0h0M1494.2,988.9h0M1495.9,990.5h0M1497.5,990.1h0M1499.2,991.5h0M1500.8,990.8h0M1502.4,992.2h0M1504.1,992.0h0M1505.7,992.1h0M1507.4,990.7h0M1509.0,990.9h0M1510.6,990.1h0M1512.3,989.3h0M1513.9,989.8h0M1515.6,990.0h0M1517.2,990.4h0M1518.8,991.1h0M1520.5,991.6h0M1522.1,991.8h0M1523.8,991.9h0M1525.4,991.2h0M1527.0,991.7h0M1528.7,990.5h0M1530.3,990.8h0M1532.0,990.0h0M1533.6,990.1h0M1535.2,990.8h0M1536.9,990.5h0M1538.5,990.7h0M1540.2,991.0h0M1541.8,991.7h0M1543.4,991.4h0M1545.1,992.2h0M1546.7,993.9h0M1548.4,993.4h0M1550.0,993.6h0M1551.6,993.7h0M1553.3,993.6h0M1554.9,993.5h0M1556.6,993.5h0M1558.2,993.5h0M1559.8,993.5h0M1561.5,993.4h0M1563.1,993.4h0M1564.8,993.8h0M1566.4,993.4h0M1568.0,993.4h0M1569.7,993.7h0M1571.3,993.6h0M1573.0,993.6h0M1574.6,993.6h0M1576.2,993.5h0M1577.9,993.6h0M1579.5,993.3h0M1581.2,993.4h0M1582.8,993.9h0M1584.4,993.8h0M1586.1,993.2h0M1587.7,993.2h0M1589.4,993.2h0M1591.0,992.9h0M1592.6,992.5h0M1594.3,992.9h0M1595.9,993.5h0M1597.6,993.3h0M1599.2,993.7h0M1600.8,993.9h0M1602.5,993.9h0M1604.1,993.8h0M1605.8,993.8h0M1607.4,993.2h0M1609.0,992.9h0M1610.7,993.3h0M1612.3,992.9h0M1614.0,992.8h0M1615.6,993.2h0M1617.2,993.8h0M1618.9,993.3h0M1620.5,993.5h0M1622.2,993.9h0M1623.8,993.8h0M1625.4,993.8h0M1627.1,993.6h0M1628.7,993.2h0M1630.4,993.0h0M1632.0,992.9h0M1633.6,993.2h0M1635.3,993.5h0M1636.9,993.8h0M1638.6,993.2h0M1640.2,993.7h0M1641.8,993.8h0M1643.5,993.5h0M1645.1,993.5h0M1646.8,993.0h0M1648.4,992.7h0" stroke="rgb(200,190,60)" stroke-width="2.2" stroke-linecap="round" fill="none"/>
<path d="M1069.5,872.7L1071.1,870.0L1072.8,864.0L1074.4,856.9L1076.0,853.1L1077.7,844.7L1079.3,848.2L1081.0,839.3L1082.6,844.0L1084.2,857.4L1085.9,866.0L1087.5,883.6L1089.2,889.3L1090.8,901.1L1092.4,892.6L1094.1,884.8L1095.7,883.1L1097.4,872.4L1099.0,862.6L1100.6,849.2L1102.3,858.5L1103.9,872.5L1105.6,873.4L1107.2,886.4L1108.8,887.6L1110.5,895.1L1112.1,894.0L1113.8,881.2L1115.4,885.8L1117.0,882.4L1118.7,869.1L1120.3,869.6L1122.0,881.5L1123.6,876.0L1125.2,885.2L1126.9,884.4L1128.5,892.5L1130.2,885.9L1131.8,886.9L1133.4,881.6L1135.1,879.6L1136.7,883.8L1138.4,879.4L1140.0,881.4L1141.6,887.2L1143.3,891.1L1144.9,892.9L1146.6,890.7L1148.2,900.8L1149.8,894.9L1151.5,897.0L1153.1,895.3L1154.8,886.4L1156.4,887.6L1158.0,885.9L1159.7,883.6L1161.3,886.5L1163.0,897.1L1164.6,890.9L1166.2,903.5L1167.9,897.9L1169.5,898.9L1171.2,906.7L1172.8,895.6L1174.4,897.8L1176.1,892.4L1177.7,895.5L1179.4,894.7L1181.0,898.6L1182.6,892.4L1184.3,906.1L1185.9,900.8L1187.6,901.7L1189.2,903.4L1190.8,908.3L1192.5,905.9L1194.1,900.8L1195.8,894.8L1197.4,898.8L1199.0,890.6L1200.7,895.3L1202.3,897.3L1204.0,911.4L1205.6,901.7L1207.2,914.6L1208.9,913.1L1210.5,907.1L1212.2,900.7L1213.8,904.0L1215.4,893.5L1217.1,893.6L1218.7,895.3L1220.4,900.0L1222.0,903.9L1223.6,996.0L1225.3,901.0L1226.9,996.0L1228.6,902.6L1230.2,910.2L1231.8,909.1L1233.5,894.7L1235.1,896.9L1236.8,894.4L1238.4,895.6L1240.0,896.5L1241.7,896.3L1243.3,905.0L1245.0,906.3L1246.6,913.2L1248.2,905.0L1249.9,913.3L1251.5,905.6L1253.2,898.5L1254.8,903.9L1256.4,892.9L1258.1,889.7L1259.7,898.8L1261.4,899.7L1263.0,912.3L1264.6,909.5L1266.3,915.7L1267.9,909.2L1269.6,913.3L1271.2,909.1L1272.8,899.3L1274.5,897.9L1276.1,892.3L1277.8,897.8L1279.4,902.5L1281.0,902.2L1282.7,909.4L1284.3,912.6L1286.0,913.9L1287.6,919.1L1289.2,914.3L1290.9,905.1L1292.5,902.6L1294.2,903.7L1295.8,901.6L1297.4,903.1L1299.1,911.6L1300.7,912.4L1302.4,911.0L1304.0,911.3L1305.6,920.3L1307.3,917.3L1308.9,915.3L1310.6,914.1L1312.2,911.4L1313.8,907.3L1315.5,908.2L1317.1,903.7L1318.8,914.1L1320.4,914.5L1322.0,915.6L1323.7,917.7L1325.3,925.3L1327.0,919.6L1328.6,921.0L1330.2,919.7L1331.9,923.6L1333.5,914.3L1335.2,914.0L1336.8,908.6L1338.4,916.4L1340.1,915.1L1341.7,921.7L1343.4,921.1L1345.0,929.4L1346.6,927.9L1348.3,924.7L1349.9,921.5L1351.6,924.2L1353.2,915.4L1354.8,911.3L1356.5,913.0L1358.1,914.9L1359.8,918.0L1361.4,927.7L1363.0,928.8L1364.7,931.6L1366.3,935.6L1368.0,932.2L1369.6,933.4L1371.2,927.2L1372.9,923.2L1374.5,909.6L1376.2,906.7L1377.8,925.3L1379.4,926.9L1381.1,933.0L1382.7,937.8L1384.4,939.7L1386.0,942.0L1387.6,939.7L1389.3,938.5L1390.9,932.6L1392.6,926.3L1394.2,912.8L1395.8,912.5L1397.5,927.6L1399.1,929.6L1400.8,940.5L1402.4,941.1L1404.0,942.6L1405.7,940.7L1407.3,941.8L1409.0,938.4L1410.6,937.5L1412.2,930.0L1413.9,916.0L1415.5,916.4L1417.2,933.6L1418.8,934.7L1420.4,943.5L1422.1,939.9L1423.7,945.6L1425.4,948.8L1427.0,946.8L1428.6,942.2L1430.3,942.8L1431.9,936.9L1433.6,927.0L1435.2,923.3L1436.8,939.1L1438.5,943.3L1440.1,952.1L1441.8,950.4L1443.4,955.7L1445.0,955.1L1446.7,957.0L1448.3,955.4L1450.0,950.7L1451.6,944.5L1453.2,932.1L1454.9,931.7L1456.5,945.7L1458.2,949.9L1459.8,954.9L1461.4,956.8L1463.1,958.3L1464.7,961.9L1466.4,955.7L1468.0,955.6L1469.6,950.1L1471.3,946.1L1472.9,933.9L1474.6,928.8L1476.2,946.8L1477.8,952.2L1479.5,954.5L1481.1,955.1L1482.8,960.3L1484.4,959.8L1486.0,961.3L1487.7,956.6L1489.3,953.8L1491.0,947.0L1492.6,938.3L1494.2,930.3L1495.9,946.2L1497.5,950.1L1499.2,954.5L1500.8,960.8L1502.4,962.5L1504.1,959.7L1505.7,962.3L1507.4,955.4L1509.0,953.1L1510.6,950.5L1512.3,939.4L1513.9,933.9L1515.6,950.8L1517.2,951.0L1518.8,960.6L1520.5,960.2L1522.1,961.9L1523.8,964.1L1525.4,959.8L1527.0,957.8L1528.7,952.0L1530.3,948.4L1532.0,936.9L1533.6,932.1L1535.2,950.7L1536.9,953.4L1538.5,960.5L1540.2,958.3L1541.8,960.8L1543.4,965.6L1545.1,962.5L1546.7,989.3L1548.4,988.3L1550.0,987.8L1551.6,989.8L1553.3,988.1L1554.9,989.2L1556.6,988.6L1558.2,989.7L1559.8,988.1L1561.5,988.8L1563.1,988.3L1564.8,990.0L1566.4,987.9L1568.0,990.1L1569.7,988.6L1571.3,989.8L1573.0,987.8L1574.6,986.0L1576.2,984.4L1577.9,982.8L1579.5,980.3L1581.2,979.0L1582.8,978.5L1584.4,976.1L1586.1,974.7L1587.7,970.7L1589.4,962.1L1591.0,954.0L1592.6,947.9L1594.3,956.7L1595.9,960.8L1597.6,967.4L1599.2,968.4L1600.8,968.8L1602.5,970.6L1604.1,966.9L1605.8,968.2L1607.4,964.1L1609.0,961.9L1610.7,951.1L1612.3,947.8L1614.0,959.9L1615.6,960.0L1617.2,967.9L1618.9,966.2L1620.5,966.3L1622.2,968.8L1623.8,969.7L1625.4,963.7L1627.1,965.2L1628.7,960.5L1630.4,951.5L1632.0,949.3L1633.6,959.4L1635.3,961.3L1636.9,963.4L1638.6,965.8L1640.2,966.3L1641.8,968.8L1643.5,968.7L1645.1,967.5L1646.8,964.2L1648.4,958.9" fill="none" stroke="rgb(100,181,205)" stroke-width="1.5" stroke-linejoin="round"/><path d="M1069.5,872.7h0M1071.1,870.0h0M1072.8,864.0h0M1074.4,856.9h0M1076.0,853.1h0M1077.7,844.7h0M1079.3,848.2h0M1081.0,839.3h0M1082.6,844.0h0M1084.2,857.4h0M1085.9,866.0h0M1087.5,883.6h0M1089.2,889.3h0M1090.8,901.1h0M1092.4,892.6h0M1094.1,884.8h0M1095.7,883.1h0M1097.4,872.4h0M1099.0,862.6h0M1100.6,849.2h0M1102.3,858.5h0M1103.9,872.5h0M1105.6,873.4h0M1107.2,886.4h0M1108.8,887.6h0M1110.5,895.1h0M1112.1,894.0h0M1113.8,881.2h0M1115.4,885.8h0M1117.0,882.4h0M1118.7,869.1h0M1120.3,869.6h0M1122.0,881.5h0M1123.6,876.0h0M1125.2,885.2h0M1126.9,884.4h0M1128.5,892.5h0M1130.2,885.9h0M1131.8,886.9h0M1133.4,881.6h0M1135.1,879.6h0M1136.7,883.8h0M1138.4,879.4h0M1140.0,881.4h0M1141.6,887.2h0M1143.3,891.1h0M1144.9,892.9h0M1146.6,890.7h0M1148.2,900.8h0M1149.8,894.9h0M1151.5,897.0h0M1153.1,895.3h0M1154.8,886.4h0M1156.4,887.6h0M1158.0,885.9h0M1159.7,883.6h0M1161.3,886.5h0M1163.0,897.1h0M1164.6,890.9h0M1166.2,903.5h0M1167.9,897.9h0M1169.5,898.9h0M1171.2,906.7h0M1172.8,895.6h0M1174.4,897.8h0M1176.1,892.4h0M1177.7,895.5h0M1179.4,894.7h0M1181.0,898.6h0M1182.6,892.4h0M1184.3,906.1h0M1185.9,900.8h0M1187.6,901.7h0M1189.2,903.4h0M1190.8,908.3h0M1192.5,905.9h0M1194.1,900.8h0M1195.8,894.8h0M1197.4,898.8h0M1199.0,890.6h0M1200.7,895.3h0M1202.3,897.3h0M1204.0,911.4h0M1205.6,901.7h0M1207.2,914.6h0M1208.9,913.1h0M1210.5,907.1h0M1212.2,900.7h0M1213.8,904.0h0M1215.4,893.5h0M1217.1,893.6h0M1218.7,895.3h0M1220.4,900.0h0M1222.0,903.9h0M1223.6,996.0h0M1225.3,901.0h0M1226.9,996.0h0M1228.6,902.6h0M1230.2,910.2h0M1231.8,909.1h0M1233.5,894.7h0M1235.1,896.9h0M1236.8,894.4h0M1238.4,895.6h0M1240.0,896.5h0M1241.7,896.3h0M1243.3,905.0h0M1245.0,906.3h0M1246.6,913.2h0M1248.2,905.0h0M1249.9,913.3h0M1251.5,905.6h0M1253.2,898.5h0M1254.8,903.9h0M1256.4,892.9h0M1258.1,889.7h0M1259.7,898.8h0M1261.4,899.7h0M1263.0,912.3h0M1264.6,909.5h0M1266.3,915.7h0M1267.9,909.2h0M1269.6,913.3h0M1271.2,909.1h0M1272.8,899.3h0M1274.5,897.9h0M1276.1,892.3h0M1277.8,897.8h0M1279.4,902.5h0M1281.0,902.2h0M1282.7,909.4h0M1284.3,912.6h0M1286.0,913.9h0M1287.6,919.1h0M1289.2,914.3h0M1290.9,905.1h0M1292.5,902.6h0M1294.2,903.7h0M1295.8,901.6h0M1297.4,903.1h0M1299.1,911.6h0M1300.7,912.4h0M1302.4,911.0h0M1304.0,911.3h0M1305.6,920.3h0M1307.3,917.3h0M1308.9,915.3h0M1310.6,914.1h0M1312.2,911.4h0M1313.8,907.3h0M1315.5,908.2h0M1317.1,903.7h0M1318.8,914.1h0M1320.4,914.5h0M1322.0,915.6h0M1323.7,917.7h0M1325.3,925.3h0M1327.0,919.6h0M1328.6,921.0h0M1330.2,919.7h0M1331.9,923.6h0M1333.5,914.3h0M1335.2,914.0h0M1336.8,908.6h0M1338.4,916.4h0M1340.1,915.1h0M1341.7,921.7h0M1343.4,921.1h0M1345.0,929.4h0M1346.6,927.9h0M1348.3,924.7h0M1349.9,921.5h0M1351.6,924.2h0M1353.2,915.4h0M1354.8,911.3h0M1356.5,913.0h0M1358.1,914.9h0M1359.8,918.0h0M1361.4,927.7h0M1363.0,928.8h0M1364.7,931.6h0M1366.3,935.6h0M1368.0,932.2h0M1369.6,933.4h0M1371.2,927.2h0M1372.9,923.2h0M1374.5,909.6h0M1376.2,906.7h0M1377.8,925.3h0M1379.4,926.9h0M1381.1,933.0h0M1382.7,937.8h0M1384.4,939.7h0M1386.0,942.0h0M1387.6,939.7h0M1389.3,938.5h0M1390.9,932.6h0M1392.6,926.3h0M1394.2,912.8h0M1395.8,912.5h0M1397.5,927.6h0M1399.1,929.6h0M1400.8,940.5h0M1402.4,941.1h0M1404.0,942.6h0M1405.7,940.7h0M1407.3,941.8h0M1409.0,938.4h0M1410.6,937.5h0M1412.2,930.0h0M1413.9,916.0h0M1415.5,916.4h0M1417.2,933.6h0M1418.8,934.7h0M1420.4,943.5h0M1422.1,939.9h0M1423.7,945.6h0M1425.4,948.8h0M1427.0,946.8h0M1428.6,942.2h0M1430.3,942.8h0M1431.9,936.9h0M1433.6,927.0h0M1435.2,923.3h0M1436.8,939.1h0M1438.5,943.3h0M1440.1,952.1h0M1441.8,950.4h0M1443.4,955.7h0M1445.0,955.1h0M1446.7,957.0h0M1448.3,955.4h0M1450.0,950.7h0M1451.6,944.5h0M1453.2,932.1h0M1454.9,931.7h0M1456.5,945.7h0M1458.2,949.9h0M1459.8,954.9h0M1461.4,956.8h0M1463.1,958.3h0M1464.7,961.9h0M1466.4,955.7h0M1468.0,955.6h0M1469.6,950.1h0M1471.3,946.1h0M1472.9,933.9h0M1474.6,928.8h0M1476.2,946.8h0M1477.8,952.2h0M1479.5,954.5h0M1481.1,955.1h0M1482.8,960.3h0M1484.4,959.8h0M1486.0,961.3h0M1487.7,956.6h0M1489.3,953.8h0M1491.0,947.0h0M1492.6,938.3h0M1494.2,930.3h0M1495.9,946.2h0M1497.5,950.1h0M1499.2,954.5h0M1500.8,960.8h0M1502.4,962.5h0M1504.1,959.7h0M1505.7,962.3h0M1507.4,955.4h0M1509.0,953.1h0M1510.6,950.5h0M1512.3,939.4h0M1513.9,933.9h0M1515.6,950.8h0M1517.2,951.0h0M1518.8,960.6h0M1520.5,960.2h0M1522.1,961.9h0M1523.8,964.1h0M1525.4,959.8h0M1527.0,957.8h0M1528.7,952.0h0M1530.3,948.4h0M1532.0,936.9h0M1533.6,932.1h0M1535.2,950.7h0M1536.9,953.4h0M1538.5,960.5h0M1540.2,958.3h0M1541.8,960.8h0M1543.4,965.6h0M1545.1,962.5h0M1546.7,989.3h0M1548.4,988.3h0M1550.0,987.8h0M1551.6,989.8h0M1553.3,988.1h0M1554.9,989.2h0M1556.6,988.6h0M1558.2,989.7h0M1559.8,988.1h0M1561.5,988.8h0M1563.1,988.3h0M1564.8,990.0h0M1566.4,987.9h0M1568.0,990.1h0M1569.7,988.6h0M1571.3,989.8h0M1573.0,987.8h0M1574.6,986.0h0M1576.2,984.4h0M1577.9,982.8h0M1579.5,980.3h0M1581.2,979.0h0M1582.8,978.5h0M1584.4,976.1h0M1586.1,974.7h0M1587.7,970.7h0M1589.4,962.1h0M1591.0,954.0h0M1592.6,947.9h0M1594.3,956.7h0M1595.9,960.8h0M1597.6,967.4h0M1599.2,968.4h0M1600.8,968.8h0M1602.5,970.6h0M1604.1,966.9h0M1605.8,968.2h0M1607.4,964.1h0M1609.0,961.9h0M1610.7,951.1h0M1612.3,947.8h0M1614.0,959.9h0M1615.6,960.0h0M1617.2,967.9h0M1618.9,966.2h0M1620.5,966.3h0M1622.2,968.8h0M1623.8,969.7h0M1625.4,963.7h0M1627.1,965.2h0M1628.7,960.5h0M1630.4,951.5h0M1632.0,949.3h0M1633.6,959.4h0M1635.3,961.3h0M1636.9,963.4h0M1638.6,965.8h0M1640.2,966.3h0M1641.8,968.8h0M1643.5,968.7h0M1645.1,967.5h0M1646.8,964.2h0M1648.4,958.9h0" stroke="rgb(100,181,205)" stroke-width="2.2" stroke-linecap="round" fill="none"/>
<path d="M1069.5,994.8L1207.2,994.2L1305.6,995.4L1404.0,996.6L1522.1,996.0L1648.1,994.8" fill="none" stroke="rgb(76,114,176)" stroke-width="1.5" stroke-linejoin="round"/><path d="M1069.5,994.8h0M1207.2,994.2h0M1305.6,995.4h0M1404.0,996.6h0M1522.1,996.0h0M1648.1,994.8h0" stroke="rgb(76,114,176)" stroke-width="2.2" stroke-linecap="round" fill="none"/>
<path d="M1069.5,996.0L1071.1,973.3L1072.8,970.6L1074.4,973.0L1076.0,971.5L1077.7,971.8L1079.3,970.8L1081.0,968.2L1082.6,973.7L1084.2,973.0L1085.9,975.3L1087.5,975.2L1089.2,973.0L1090.8,976.9L1092.4,975.2L1094.1,975.8L1095.7,973.7L1097.4,996.0L1099.0,974.9L1100.6,973.7L1102.3,975.4L1103.9,974.6L1105.6,977.1L1107.2,979.3L1108.8,978.1L1110.5,980.3L1112.1,978.6L1113.8,979.2L1115.4,977.3L1117.0,974.6L1118.7,974.7L1120.3,973.3L1122.0,974.7L1123.6,976.2L1125.2,977.1L1126.9,978.5L1128.5,978.1L1130.2,977.8L1131.8,980.3L1133.4,975.6L1135.1,977.3L1136.7,977.4L1138.4,976.2L1140.0,975.0L1141.6,977.7L1143.3,976.8L1144.9,977.9L1146.6,977.0L1148.2,978.6L1149.8,976.8L1151.5,977.4L1153.1,978.3L1154.8,974.7L1156.4,974.5L1158.0,972.0L1159.7,972.9L1161.3,973.2L1163.0,977.5L1164.6,978.3L1166.2,975.2L1167.9,980.5L1169.5,976.6L1171.2,976.0L1172.8,978.9L1174.4,977.9L1176.1,973.3L1177.7,971.8L1179.4,972.0L1181.0,974.1L1182.6,974.6L1184.3,977.9L1185.9,979.6L1187.6,977.3L1189.2,976.6L1190.8,975.5L1192.5,976.9L1194.1,978.3L1195.8,976.5L1197.4,974.0L1199.0,974.8L1200.7,977.2L1202.3,977.1L1204.0,976.8L1205.6,978.8L1207.2,979.5L1208.9,978.5L1210.5,976.7L1212.2,970.0L1213.8,965.5L1215.4,963.7L1217.1,955.2L1218.7,950.2L1220.4,955.9L1222.0,956.2L1223.6,940.1L1225.3,963.6L1226.9,942.8L1228.6,976.5L1230.2,964.9L1231.8,970.1L1233.5,936.7L1235.1,939.6L1236.8,951.0L1238.4,945.4L1240.0,948.1L1241.7,946.9L1243.3,959.9L1245.0,949.1L1246.6,953.8L1248.2,975.5L1249.9,950.4L1251.5,940.2L1253.2,949.1L1254.8,937.5L1256.4,947.7L1258.1,947.6L1259.7,952.0L1261.4,950.6L1263.0,946.3L1264.6,949.1L1266.3,956.1L1267.9,969.8L1269.6,951.3L1271.2,963.3L1272.8,960.5L1274.5,959.6L1276.1,943.4L1277.8,938.3L1279.4,960.6L1281.0,958.1L1282.7,948.0L1284.3,970.7L1286.0,966.0L1287.6,965.8L1289.2,996.0L1290.9,996.0L1292.5,951.7L1294.2,945.4L1295.8,956.5L1297.4,956.3L1299.1,961.8L1300.7,961.5L1302.4,965.6L1304.0,966.1L1305.6,971.3L1307.3,972.2L1308.9,967.6L1310.6,970.6L1312.2,967.0L1313.8,963.1L1315.5,963.7L1317.1,963.8L1318.8,965.5L1320.4,969.4L1322.0,972.0L1323.7,972.7L1325.3,975.0L1327.0,974.6L1328.6,973.2L1330.2,972.1L1331.9,969.8L1333.5,972.8L1335.2,970.4L1336.8,967.0L1338.4,970.9L1340.1,972.8L1341.7,977.7L1343.4,978.9L1345.0,979.7L1346.6,977.7L1348.3,977.5L1349.9,978.4L1351.6,975.8L1353.2,974.3L1354.8,975.0L1356.5,975.7L1358.1,974.6L1359.8,976.3L1361.4,977.6L1363.0,978.4L1364.7,981.4L1366.3,980.8L1368.0,981.4L1369.6,978.1L1371.2,980.8L1372.9,977.0L1374.5,977.4L1376.2,974.7L1377.8,977.2L1379.4,981.2L1381.1,983.6L1382.7,983.0L1384.4,980.6L1386.0,982.2L1387.6,981.9L1389.3,983.6L1390.9,982.7L1392.6,980.8L1394.2,979.3L1395.8,978.8L1397.5,983.2L1399.1,980.5L1400.8,984.7L1402.4,982.9L1404.0,985.7L1405.7,986.3L1407.3,982.9L1409.0,985.4L1410.6,983.1L1412.2,980.4L1413.9,979.5L1415.5,979.9L1417.2,983.6L1418.8,982.5L1420.4,984.4L1422.1,985.5L1423.7,984.0L1425.4,985.0L1427.0,983.3L1428.6,984.9L1430.3,985.4L1431.9,983.9L1433.6,980.5L1435.2,980.5L1436.8,982.2L1438.5,984.1L1440.1,984.5L1441.8,987.2L1443.4,987.8L1445.0,984.9L1446.7,987.5L1448.3,984.5L1450.0,985.2L1451.6,984.9L1453.2,980.9L1454.9,980.3L1456.5,984.4L1458.2,985.9L1459.8,985.6L1461.4,987.5L1463.1,984.2L1464.7,989.1L1466.4,986.2L1468.0,987.2L1469.6,987.1L1471.3,981.5L1472.9,982.0L1474.6,981.7L1476.2,982.8L1477.8,983.4L1479.5,985.4L1481.1,985.4L1482.8,987.7L1484.4,989.2L1486.0,985.6L1487.7,985.0L1489.3,984.2L1491.0,983.8L1492.6,985.4L1494.2,982.6L1495.9,986.6L1497.5,983.5L1499.2,988.8L1500.8,987.8L1502.4,987.2L1504.1,986.1L1505.7,986.5L1507.4,988.4L1509.0,984.8L1510.6,986.4L1512.3,984.8L1513.9,984.5L1515.6,983.8L1517.2,987.2L1518.8,987.8L1520.5,988.2L1522.1,989.1L1523.8,989.6L1525.4,988.2L1527.0,988.6L1528.7,987.3L1530.3,987.2L1532.0,983.9L1533.6,983.2L1535.2,986.6L1536.9,986.2L1538.5,986.6L1540.2,985.0L1541.8,985.6L1543.4,990.1L1545.1,985.5L1546.7,991.8L1548.4,991.2L1550.0,991.6L1551.6,991.2L1553.3,992.1L1554.9,991.8L1556.6,991.9L1558.2,991.5L1559.8,990.6L1561.5,990.4L1563.1,990.8L1564.8,991.2L1566.4,990.8L1568.0,991.7L1569.7,992.2L1571.3,991.1L1573.0,990.4L1574.6,991.4L1576.2,990.9L1577.9,991.4L1579.5,990.2L1581.2,990.8L1582.8,991.1L1584.4,989.5L1586.1,989.6L1587.7,991.0L1589.4,990.4L1591.0,989.1L1592.6,988.0L1594.3,989.4L1595.9,990.1L1597.6,989.7L1599.2,991.9L1600.8,991.0L1602.5,990.7L1604.1,989.4L1605.8,990.2L1607.4,989.3L1609.0,990.9L1610.7,989.5L1612.3,989.0L1614.0,990.2L1615.6,989.8L1617.2,989.4L1618.9,990.0L1620.5,990.7L1622.2,990.3L1623.8,991.4L1625.4,989.0L1627.1,989.2L1628.7,989.4L1630.4,989.0L1632.0,989.2L1633.6,990.0L1635.3,990.3L1636.9,990.5L1638.6,992.2L1640.2,989.5L1641.8,991.4L1643.5,990.8L1645.1,988.9L1646.8,988.5L1648.4,987.9" fill="none" stroke="rgb(226,133,62)" stroke-width="1.5" stroke-linejoin="round"/><path d="M1069.5,996.0h0M1071.1,973.3h0M1072.8,970.6h0M1074.4,973.0h0M1076.0,971.5h0M1077.7,971.8h0M1079.3,970.8h0M1081.0,968.2h0M1082.6,973.7h0M1084.2,973.0h0M1085.9,975.3h0M1087.5,975.2h0M1089.2,973.0h0M1090.8,976.9h0M1092.4,975.2h0M1094.1,975.8h0M1095.7,973.7h0M1097.4,996.0h0M1099.0,974.9h0M1100.6,973.7h0M1102.3,975.4h0M1103.9,974.6h0M1105.6,977.1h0M1107.2,979.3h0M1108.8,978.1h0M1110.5,980.3h0M1112.1,978.6h0M1113.8,979.2h0M1115.4,977.3h0M1117.0,974.6h0M1118.7,974.7h0M1120.3,973.3h0M1122.0,974.7h0M1123.6,976.2h0M1125.2,977.1h0M1126.9,978.5h0M1128.5,978.1h0M1130.2,977.8h0M1131.8,980.3h0M1133.4,975.6h0M1135.1,977.3h0M1136.7,977.4h0M1138.4,976.2h0M1140.0,975.0h0M1141.6,977.7h0M1143.3,976.8h0M1144.9,977.9h0M1146.6,977.0h0M1148.2,978.6h0M1149.8,976.8h0M1151.5,977.4h0M1153.1,978.3h0M1154.8,974.7h0M1156.4,974.5h0M1158.0,972.0h0M1159.7,972.9h0M1161.3,973.2h0M1163.0,977.5h0M1164.6,978.3h0M1166.2,975.2h0M1167.9,980.5h0M1169.5,976.6h0M1171.2,976.0h0M1172.8,978.9h0M1174.4,977.9h0M1176.1,973.3h0M1177.7,971.8h0M1179.4,972.0h0M1181.0,974.1h0M1182.6,974.6h0M1184.3,977.9h0M1185.9,979.6h0M1187.6,977.3h0M1189.2,976.6h0M1190.8,975.5h0M1192.5,976.9h0M1194.1,978.3h0M1195.8,976.5h0M1197.4,974.0h0M1199.0,974.8h0M1200.7,977.2h0M1202.3,977.1h0M1204.0,976.8h0M1205.6,978.8h0M1207.2,979.5h0M1208.9,978.5h0M1210.5,976.7h0M1212.2,970.0h0M1213.8,965.5h0M1215.4,963.7h0M1217.1,955.2h0M1218.7,950.2h0M1220.4,955.9h0M1222.0,956.2h0M1223.6,940.1h0M1225.3,963.6h0M1226.9,942.8h0M1228.6,976.5h0M1230.2,964.9h0M1231.8,970.1h0M1233.5,936.7h0M1235.1,939.6h0M1236.8,951.0h0M1238.4,945.4h0M1240.0,948.1h0M1241.7,946.9h0M1243.3,959.9h0M1245.0,949.1h0M1246.6,953.8h0M1248.2,975.5h0M1249.9,950.4h0M1251.5,940.2h0M1253.2,949.1h0M1254.8,937.5h0M1256.4,947.7h0M1258.1,947.6h0M1259.7,952.0h0M1261.4,950.6h0M1263.0,946.3h0M1264.6,949.1h0M1266.3,956.1h0M1267.9,969.8h0M1269.6,951.3h0M1271.2,963.3h0M1272.8,960.5h0M1274.5,959.6h0M1276.1,943.4h0M1277.8,938.3h0M1279.4,960.6h0M1281.0,958.1h0M1282.7,948.0h0M1284.3,970.7h0M1286.0,966.0h0M1287.6,965.8h0M1289.2,996.0h0M1290.9,996.0h0M1292.5,951.7h0M1294.2,945.4h0M1295.8,956.5h0M1297.4,956.3h0M1299.1,961.8h0M1300.7,961.5h0M1302.4,965.6h0M1304.0,966.1h0M1305.6,971.3h0M1307.3,972.2h0M1308.9,967.6h0M1310.6,970.6h0M1312.2,967.0h0M1313.8,963.1h0M1315.5,963.7h0M1317.1,963.8h0M1318.8,965.5h0M1320.4,969.4h0M1322.0,972.0h0M1323.7,972.7h0M1325.3,975.0h0M1327.0,974.6h0M1328.6,973.2h0M1330.2,972.1h0M1331.9,969.8h0M1333.5,972.8h0M1335.2,970.4h0M1336.8,967.0h0M1338.4,970.9h0M1340.1,972.8h0M1341.7,977.7h0M1343.4,978.9h0M1345.0,979.7h0M1346.6,977.7h0M1348.3,977.5h0M1349.9,978.4h0M1351.6,975.8h0M1353.2,974.3h0M1354.8,975.0h0M1356.5,975.7h0M1358.1,974.6h0M1359.8,976.3h0M1361.4,977.6h0M1363.0,978.4h0M1364.7,981.4h0M1366.3,980.8h0M1368.0,981.4h0M1369.6,978.1h0M1371.2,980.8h0M1372.9,977.0h0M1374.5,977.4h0M1376.2,974.7h0M1377.8,977.2h0M1379.4,981.2h0M1381.1,983.6h0M1382.7,983.0h0M1384.4,980.6h0M1386.0,982.2h0M1387.6,981.9h0M1389.3,983.6h0M1390.9,982.7h0M1392.6,980.8h0M1394.2,979.3h0M1395.8,978.8h0M1397.5,983.2h0M1399.1,980.5h0M1400.8,984.7h0M1402.4,982.9h0M1404.0,985.7h0M1405.7,986.3h0M1407.3,982.9h0M1409.0,985.4h0M1410.6,983.1h0M1412.2,980.4h0M1413.9,979.5h0M1415.5,979.9h0M1417.2,983.6h0M1418.8,982.5h0M1420.4,984.4h0M1422.1,985.5h0M1423.7,984.0h0M1425.4,985.0h0M1427.0,983.3h0M1428.6,984.9h0M1430.3,985.4h0M1431.9,983.9h0M1433.6,980.5h0M1435.2,980.5h0M1436.8,982.2h0M1438.5,984.1h0M1440.1,984.5h0M1441.8,987.2h0M1443.4,987.8h0M1445.0,984.9h0M1446.7,987.5h0M1448.3,984.5h0M1450.0,985.2h0M1451.6,984.9h0M1453.2,980.9h0M1454.9,980.3h0M1456.5,984.4h0M1458.2,985.9h0M1459.8,985.6h0M1461.4,987.5h0M1463.1,984.2h0M1464.7,989.1h0M1466.4,986.2h0M1468.0,987.2h0M1469.6,987.1h0M1471.3,981.5h0M1472.9,982.0h0M1474.6,981.7h0M1476.2,982.8h0M1477.8,983.4h0M1479.5,985.4h0M1481.1,985.4h0M1482.8,987.7h0M1484.4,989.2h0M1486.0,985.6h0M1487.7,985.0h0M1489.3,984.2h0M1491.0,983.8h0M1492.6,985.4h0M1494.2,982.6h0M1495.9,986.6h0M1497.5,983.5h0M1499.2,988.8h0M1500.8,987.8h0M1502.4,987.2h0M1504.1,986.1h0M1505.7,986.5h0M1507.4,988.4h0M1509.0,984.8h0M1510.6,986.4h0M1512.3,984.8h0M1513.9,984.5h0M1515.6,983.8h0M1517.2,987.2h0M1518.8,987.8h0M1520.5,988.2h0M1522.1,989.1h0M1523.8,989.6h0M1525.4,988.2h0M1527.0,988.6h0M1528.7,987.3h0M1530.3,987.2h0M1532.0,983.9h0M1533.6,983.2h0M1535.2,986.6h0M1536.9,986.2h0M1538.5,986.6h0M1540.2,985.0h0M1541.8,985.6h0M1543.4,990.1h0M1545.1,985.5h0M1546.7,991.8h0M1548.4,991.2h0M1550.0,991.6h0M1551.6,991.2h0M1553.3,992.1h0M1554.9,991.8h0M1556.6,991.9h0M1558.2,991.5h0M1559.8,990.6h0M1561.5,990.4h0M1563.1,990.8h0M1564.8,991.2h0M1566.4,990.8h0M1568.0,991.7h0M1569.7,992.2h0M1571.3,991.1h0M1573.0,990.4h0M1574.6,991.4h0M1576.2,990.9h0M1577.9,991.4h0M1579.5,990.2h0M1581.2,990.8h0M1582.8,991.1h0M1584.4,989.5h0M1586.1,989.6h0M1587.7,991.0h0M1589.4,990.4h0M1591.0,989.1h0M1592.6,988.0h0M1594.3,989.4h0M1595.9,990.1h0M1597.6,989.7h0M1599.2,991.9h0M1600.8,991.0h0M1602.5,990.7h0M1604.1,989.4h0M1605.8,990.2h0M1607.4,989.3h0M1609.0,990.9h0M1610.7,989.5h0M1612.3,989.0h0M1614.0,990.2h0M1615.6,989.8h0M1617.2,989.4h0M1618.9,990.0h0M1620.5,990.7h0M1622.2,990.3h0M1623.8,991.4h0M1625.4,989.0h0M1627.1,989.2h0M1628.7,989.4h0M1630.4,989.0h0M1632.0,989.2h0M1633.6,990.0h0M1635.3,990.3h0M1636.9,990.5h0M1638.6,992.2h0M1640.2,989.5h0M1641.8,991.4h0M1643.5,990.8h0M1645.1,988.9h0M1646.8,988.5h0M1648.4,987.9h0" stroke="rgb(226,133,62)" stroke-width="2.2" stroke-linecap="round" fill="none"/>
<path d="M1069.5,987.8L1071.1,988.8L1072.8,988.8L1074.4,986.7L1076.0,986.7L1077.7,985.2L1079.3,962.7L1081.0,980.3L1082.6,983.3L1084.2,985.6L1085.9,985.9L1087.5,986.1L1089.2,988.5L1090.8,989.3L1092.4,988.5L1094.1,986.3L1095.7,985.8L1097.4,983.7L1099.0,980.5L1100.6,980.3L1102.3,984.4L1103.9,986.6L1105.6,988.3L1107.2,986.6L1108.8,987.6L1110.5,987.7L1112.1,987.6L1113.8,986.7L1115.4,985.8L1117.0,983.8L1118.7,982.6L1120.3,980.8L1122.0,985.0L1123.6,984.9L1125.2,986.3L1126.9,987.9L1128.5,989.0L1130.2,989.0L1131.8,988.2L1133.4,986.6L1135.1,986.4L1136.7,984.2L1138.4,982.2L1140.0,980.8L1141.6,985.4L1143.3,985.4L1144.9,987.2L1146.6,986.5L1148.2,987.0L1149.8,988.4L1151.5,988.9L1153.1,986.2L1154.8,985.1L1156.4,984.9L1158.0,981.9L1159.7,979.9L1161.3,985.3L1163.0,986.4L1164.6,986.8L1166.2,987.0L1167.9,987.7L1169.5,987.7L1171.2,987.9L1172.8,987.5L1174.4,986.9L1176.1,985.6L1177.7,982.2L1179.4,981.2L1181.0,984.2L1182.6,985.5L1184.3,987.3L1185.9,987.8L1187.6,987.9L1189.2,988.8L1190.8,987.2L1192.5,987.0L1194.1,985.8L1195.8,985.3L1197.4,982.0L1199.0,980.6L1200.7,983.8L1202.3,985.8L1204.0,987.8L1205.6,987.1L1207.2,989.1L1208.9,989.0L1210.5,989.1L1212.2,987.3L1213.8,987.0L1215.4,985.3L1217.1,981.4L1218.7,980.9L1220.4,986.0L1222.0,986.1L1223.6,988.6L1225.3,986.8L1226.9,988.3L1228.6,987.8L1230.2,988.6L1231.8,986.7L1233.5,987.3L1235.1,984.2L1236.8,982.4L1238.4,982.3L1240.0,984.0L1241.7,985.2L1243.3,988.2L1245.0,987.4L1246.6,988.3L1248.2,989.5L1249.9,988.3L1251.5,986.4L1253.2,986.8L1254.8,984.5L1256.4,981.6L1258.1,980.7L1259.7,984.8L1261.4,985.1L1263.0,987.9L1264.6,987.7L1266.3,988.5L1267.9,989.7L1269.6,988.2L1271.2,986.9L1272.8,986.4L1274.5,986.0L1276.1,982.9L1277.8,981.5L1279.4,986.0L1281.0,986.8L1282.7,987.0L1284.3,988.7L1286.0,989.3L1287.6,989.6L1289.2,988.1L1290.9,988.7L1292.5,986.1L1294.2,985.1L1295.8,981.8L1297.4,980.9L1299.1,984.6L1300.7,986.1L1302.4,988.1L1304.0,987.5L1305.6,989.3L1307.3,989.4L1308.9,987.7L1310.6,987.4L1312.2,987.5L1313.8,985.5L1315.5,982.2L1317.1,982.3L1318.8,984.9L1320.4,987.1L1322.0,988.5L1323.7,988.0L1325.3,989.0L1327.0,988.3L1328.6,988.5L1330.2,988.2L1331.9,985.9L1333.5,984.6L1335.2,981.9L1336.8,982.6L1338.4,985.8L1340.1,987.2L1341.7,987.1L1343.4,988.0L1345.0,989.5L1346.6,987.9L1348.3,989.3L1349.9,988.9L1351.6,985.9L1353.2,985.7L1354.8,982.0L1356.5,981.8L1358.1,986.4L1359.8,986.6L1361.4,987.3L1363.0,989.2L1364.7,988.1L1366.3,989.4L1368.0,988.5L1369.6,988.5L1371.2,986.4L1372.9,986.0L1374.5,983.4L1376.2,983.6L1377.8,985.4L1379.4,987.6L1381.1,987.9L1382.7,989.5L1384.4,989.9L1386.0,989.0L1387.6,989.3L1389.3,988.1L1390.9,987.0L1392.6,986.7L1394.2,983.7L1395.8,983.4L1397.5,987.4L1399.1,986.4L1400.8,988.4L1402.4,987.7L1404.0,988.8L1405.7,989.2L1407.3,989.9L1409.0,988.3L1410.6,987.9L1412.2,987.2L1413.9,985.2L1415.5,984.4L1417.2,987.7L1418.8,987.1L1420.4,988.9L1422.1,989.7L1423.7,989.2L1425.4,988.8L1427.0,988.2L1428.6,989.8L1430.3,987.7L1431.9,986.8L1433.6,984.8L1435.2,984.5L1436.8,987.1L1438.5,988.2L1440.1,989.2L1441.8,989.8L1443.4,989.1L1445.0,989.0L1446.7,988.3L1448.3,989.3L1450.0,989.0L1451.6,988.0L1453.2,986.4L1454.9,984.3L1456.5,988.2L1458.2,988.1L1459.8,988.3L1461.4,988.8L1463.1,989.5L1464.7,989.4L1466.4,989.4L1468.0,988.5L1469.6,988.4L1471.3,988.4L1472.9,986.8L1474.6,984.2L1476.2,988.6L1477.8,988.4L1479.5,988.6L1481.1,988.8L1482.8,989.4L1484.4,991.4L1486.0,991.0L1487.7,989.5L1489.3,989.9L1491.0,988.8L1492.6,986.8L1494.2,985.0L1495.9,987.3L1497.5,988.1L1499.2,988.8L1500.8,988.9L1502.4,991.0L1504.1,989.3L1505.7,990.5L1507.4,989.3L1509.0,988.5L1510.6,989.1L1512.3,985.8L1513.9,986.0L1515.6,988.0L1517.2,989.4L1518.8,989.4L1520.5,990.8L1522.1,990.8L1523.8,990.2L1525.4,989.4L1527.0,989.8L1528.7,989.2L1530.3,989.7L1532.0,987.0L1533.6,987.2L1535.2,989.1L1536.9,989.4L1538.5,990.0L1540.2,990.5L1541.8,989.9L1543.4,991.6L1545.1,991.4L1546.7,992.5L1548.4,992.3L1550.0,992.4L1551.6,992.3L1553.3,992.8L1554.9,992.9L1556.6,992.5L1558.2,992.1L1559.8,992.8L1561.5,992.5L1563.1,992.9L1564.8,992.7L1566.4,992.5L1568.0,992.8L1569.7,992.6L1571.3,992.6L1573.0,992.6L1574.6,992.7L1576.2,991.9L1577.9,992.2L1579.5,991.9L1581.2,991.9L1582.8,992.3L1584.4,992.3L1586.1,992.2L1587.7,991.6L1589.4,991.5L1591.0,991.0L1592.6,990.5L1594.3,991.5L1595.9,992.2L1597.6,992.5L1599.2,991.6L1600.8,992.3L1602.5,992.7L1604.1,992.6L1605.8,991.7L1607.4,992.6L1609.0,991.9L1610.7,990.8L1612.3,990.5L1614.0,991.6L1615.6,992.1L1617.2,992.8L1618.9,991.6L1620.5,992.9L1622.2,991.7L1623.8,992.7L1625.4,991.4L1627.1,991.7L1628.7,990.9L1630.4,990.8L1632.0,990.3L1633.6,990.8L1635.3,991.6L1636.9,992.4L1638.6,991.2L1640.2,992.5L1641.8,992.9L1643.5,993.0L1645.1,991.4L1646.8,991.6L1648.4,991.5" fill="none" stroke="rgb(92,168,60)" stroke-width="1.5" stroke-linejoin="round"/><path d="M1069.5,987.8h0M1071.1,988.8h0M1072.8,988.8h0M1074.4,986.7h0M1076.0,986.7h0M1077.7,985.2h0M1079.3,962.7h0M1081.0,980.3h0M1082.6,983.3h0M1084.2,985.6h0M1085.9,985.9h0M1087.5,986.1h0M1089.2,988.5h0M1090.8,989.3h0M1092.4,988.5h0M1094.1,986.3h0M1095.7,985.8h0M1097.4,983.7h0M1099.0,980.5h0M1100.6,980.3h0M1102.3,984.4h0M1103.9,986.6h0M1105.6,988.3h0M1107.2,986.6h0M1108.8,987.6h0M1110.5,987.7h0M1112.1,987.6h0M1113.8,986.7h0M1115.4,985.8h0M1117.0,983.8h0M1118.7,982.6h0M1120.3,980.8h0M1122.0,985.0h0M1123.6,984.9h0M1125.2,986.3h0M1126.9,987.9h0M1128.5,989.0h0M1130.2,989.0h0M1131.8,988.2h0M1133.4,986.6h0M1135.1,986.4h0M1136.7,984.2h0M1138.4,982.2h0M1140.0,980.8h0M1141.6,985.4h0M1143.3,985.4h0M1144.9,987.2h0M1146.6,986.5h0M1148.2,987.0h0M1149.8,988.4h0M1151.5,988.9h0M1153.1,986.2h0M1154.8,985.1h0M1156.4,984.9h0M1158.0,981.9h0M1159.7,979.9h0M1161.3,985.3h0M1163.0,986.4h0M1164.6,986.8h0M1166.2,987.0h0M1167.9,987.7h0M1169.5,987.7h0M1171.2,987.9h0M1172.8,987.5h0M1174.4,986.9h0M1176.1,985.6h0M1177.7,982.2h0M1179.4,981.2h0M1181.0,984.2h0M1182.6,985.5h0M1184.3,987.3h0M1185.9,987.8h0M1187.6,987.9h0M1189.2,988.8h0M1190.8,987.2h0M1192.5,987.0h0M1194.1,985.8h0M1195.8,985.3h0M1197.4,982.0h0M1199.0,980.6h0M1200.7,983.8h0M1202.3,985.8h0M1204.0,987.8h0M1205.6,987.1h0M1207.2,989.1h0M1208.9,989.0h0M1210.5,989.1h0M1212.2,987.3h0M1213.8,987.0h0M1215.4,985.3h0M1217.1,981.4h0M1218.7,980.9h0M1220.4,986.0h0M1222.0,986.1h0M1223.6,988.6h0M1225.3,986.8h0M1226.9,988.3h0M1228.6,987.8h0M1230.2,988.6h0M1231.8,986.7h0M1233.5,987.3h0M1235.1,984.2h0M1236.8,982.4h0M1238.4,982.3h0M1240.0,984.0h0M1241.7,985.2h0M1243.3,988.2h0M1245.0,987.4h0M1246.6,988.3h0M1248.2,989.5h0M1249.9,988.3h0M1251.5,986.4h0M1253.2,986.8h0M1254.8,984.5h0M1256.4,981.6h0M1258.1,980.7h0M1259.7,984.8h0M1261.4,985.1h0M1263.0,987.9h0M1264.6,987.7h0M1266.3,988.5h0M1267.9,989.7h0M1269.6,988.2h0M1271.2,986.9h0M1272.8,986.4h0M1274.5,986.0h0M1276.1,982.9h0M1277.8,981.5h0M1279.4,986.0h0M1281.0,986.8h0M1282.7,987.0h0M1284.3,988.7h0M1286.0,989.3h0M1287.6,989.6h0M1289.2,988.1h0M1290.9,988.7h0M1292.5,986.1h0M1294.2,985.1h0M1295.8,981.8h0M1297.4,980.9h0M1299.1,984.6h0M1300.7,986.1h0M1302.4,988.1h0M1304.0,987.5h0M1305.6,989.3h0M1307.3,989.4h0M1308.9,987.7h0M1310.6,987.4h0M1312.2,987.5h0M1313.8,985.5h0M1315.5,982.2h0M1317.1,982.3h0M1318.8,984.9h0M1320.4,987.1h0M1322.0,988.5h0M1323.7,988.0h0M1325.3,989.0h0M1327.0,988.3h0M1328.6,988.5h0M1330.2,988.2h0M1331.9,985.9h0M1333.5,984.6h0M1335.2,981.9h0M1336.8,982.6h0M1338.4,985.8h0M1340.1,987.2h0M1341.7,987.1h0M1343.4,988.0h0M1345.0,989.5h0M1346.6,987.9h0M1348.3,989.3h0M1349.9,988.9h0M1351.6,985.9h0M1353.2,985.7h0M1354.8,982.0h0M1356.5,981.8h0M1358.1,986.4h0M1359.8,986.6h0M1361.4,987.3h0M1363.0,989.2h0M1364.7,988.1h0M1366.3,989.4h0M1368.0,988.5h0M1369.6,988.5h0M1371.2,986.4h0M1372.9,986.0h0M1374.5,983.4h0M1376.2,983.6h0M1377.8,985.4h0M1379.4,987.6h0M1381.1,987.9h0M1382.7,989.5h0M1384.4,989.9h0M1386.0,989.0h0M1387.6,989.3h0M1389.3,988.1h0M1390.9,987.0h0M1392.6,986.7h0M1394.2,983.7h0M1395.8,983.4h0M1397.5,987.4h0M1399.1,986.4h0M1400.8,988.4h0M1402.4,987.7h0M1404.0,988.8h0M1405.7,989.2h0M1407.3,989.9h0M1409.0,988.3h0M1410.6,987.9h0M1412.2,987.2h0M1413.9,985.2h0M1415.5,984.4h0M1417.2,987.7h0M1418.8,987.1h0M1420.4,988.9h0M1422.1,989.7h0M1423.7,989.2h0M1425.4,988.8h0M1427.0,988.2h0M1428.6,989.8h0M1430.3,987.7h0M1431.9,986.8h0M1433.6,984.8h0M1435.2,984.5h0M1436.8,987.1h0M1438.5,988.2h0M1440.1,989.2h0M1441.8,989.8h0M1443.4,989.1h0M1445.0,989.0h0M1446.7,988.3h0M1448.3,989.3h0M1450.0,989.0h0M1451.6,988.0h0M1453.2,986.4h0M1454.9,984.3h0M1456.5,988.2h0M1458.2,988.1h0M1459.8,988.3h0M1461.4,988.8h0M1463.1,989.5h0M1464.7,989.4h0M1466.4,989.4h0M1468.0,988.5h0M1469.6,988.4h0M1471.3,988.4h0M1472.9,986.8h0M1474.6,984.2h0M1476.2,988.6h0M1477.8,988.4h0M1479.5,988.6h0M1481.1,988.8h0M1482.8,989.4h0M1484.4,991.4h0M1486.0,991.0h0M1487.7,989.5h0M1489.3,989.9h0M1491.0,988.8h0M1492.6,986.8h0M1494.2,985.0h0M1495.9,987.3h0M1497.5,988.1h0M1499.2,988.8h0M1500.8,988.9h0M1502.4,991.0h0M1504.1,989.3h0M1505.7,990.5h0M1507.4,989.3h0M1509.0,988.5h0M1510.6,989.1h0M1512.3,985.8h0M1513.9,986.0h0M1515.6,988.0h0M1517.2,989.4h0M1518.8,989.4h0M1520.5,990.8h0M1522.1,990.8h0M1523.8,990.2h0M1525.4,989.4h0M1527.0,989.8h0M1528.7,989.2h0M1530.3,989.7h0M1532.0,987.0h0M1533.6,987.2h0M1535.2,989.1h0M1536.9,989.4h0M1538.5,990.0h0M1540.2,990.5h0M1541.8,989.9h0M1543.4,991.6h0M1545.1,991.4h0M1546.7,992.5h0M1548.4,992.3h0M1550.0,992.4h0M1551.6,992.3h0M1553.3,992.8h0M1554.9,992.9h0M1556.6,992.5h0M1558.2,992.1h0M1559.8,992.8h0M1561.5,992.5h0M1563.1,992.9h0M1564.8,992.7h0M1566.4,992.5h0M1568.0,992.8h0M1569.7,992.6h0M1571.3,992.6h0M1573.0,992.6h0M1574.6,992.7h0M1576.2,991.9h0M1577.9,992.2h0M1579.5,991.9h0M1581.2,991.9h0M1582.8,992.3h0M1584.4,992.3h0M1586.1,992.2h0M1587.7,991.6h0M1589.4,991.5h0M1591.0,991.0h0M1592.6,990.5h0M1594.3,991.5h0M1595.9,992.2h0M1597.6,992.5h0M1599.2,991.6h0M1600.8,992.3h0M1602.5,992.7h0M1604.1,992.6h0M1605.8,991.7h0M1607.4,992.6h0M1609.0,991.9h0M1610.7,990.8h0M1612.3,990.5h0M1614.0,991.6h0M1615.6,992.1h0M1617.2,992.8h0M1618.9,991.6h0M1620.5,992.9h0M1622.2,991.7h0M1623.8,992.7h0M1625.4,991.4h0M1627.1,991.7h0M1628.7,990.9h0M1630.4,990.8h0M1632.0,990.3h0M1633.6,990.8h0M1635.3,991.6h0M1636.9,992.4h0M1638.6,991.2h0M1640.2,992.5h0M1641.8,992.9h0M1643.5,993.0h0M1645.1,991.4h0M1646.8,991.6h0M1648.4,991.5h0" stroke="rgb(92,168,60)" stroke-width="2.2" stroke-linecap="round" fill="none"/>
</g>
<text x="1049.8" y="1046.0" font-size="23.75" text-anchor="middle" fill="#424242" textLength="59.5" lengthAdjust="spacingAndGlyphs">1995</text>
<text x="1148.2" y="1046.0" font-size="23.75" text-anchor="middle" fill="#424242" textLength="59.5" lengthAdjust="spacingAndGlyphs">2000</text>
<text x="1246.6" y="1046.0" font-size="23.75" text-anchor="middle" fill="#424242" textLength="59.5" lengthAdjust="spacingAndGlyphs">2005</text>
<text x="1345.0" y="1046.0" font-size="23.75" text-anchor="middle" fill="#424242" textLength="59.5" lengthAdjust="spacingAndGlyphs">2010</text>
<text x="1443.4" y="1046.0" font-size="23.75" text-anchor="middle" fill="#424242" textLength="59.5" lengthAdjust="spacingAndGlyphs">2015</text>
<text x="1541.8" y="1046.0" font-size="23.75" text-anchor="middle" fill="#424242" textLength="59.5" lengthAdjust="spacingAndGlyphs">2020</text>
<text x="1640.2" y="1046.0" font-size="23.75" text-anchor="middle" fill="#424242" textLength="59.5" lengthAdjust="spacingAndGlyphs">2025</text>
<text x="1031.5" y="1004.3" font-size="23.75" text-anchor="end" fill="#424242" textLength="14.9" lengthAdjust="spacingAndGlyphs">0</text>
<text x="1031.5" y="944.9" font-size="23.75" text-anchor="end" fill="#424242" textLength="38.3" lengthAdjust="spacingAndGlyphs">0.1</text>
<text x="1031.5" y="885.5" font-size="23.75" text-anchor="end" fill="#424242" textLength="38.3" lengthAdjust="spacingAndGlyphs">0.2</text>
<text x="1031.5" y="826.1" font-size="23.75" text-anchor="end" fill="#424242" textLength="38.3" lengthAdjust="spacingAndGlyphs">0.3</text>
<text x="1031.5" y="766.7" font-size="23.75" text-anchor="end" fill="#424242" textLength="38.3" lengthAdjust="spacingAndGlyphs">0.4</text>
<text x="1031.5" y="707.3" font-size="23.75" text-anchor="end" fill="#424242" textLength="38.3" lengthAdjust="spacingAndGlyphs">0.5</text>
<text x="1031.5" y="647.9" font-size="23.75" text-anchor="end" fill="#424242" textLength="38.3" lengthAdjust="spacingAndGlyphs">0.6</text>
<g transform="translate(962.6,816.2) rotate(-90)"><text x="0.0" y="0.0" font-size="30.35" text-anchor="middle" fill="#424242" textLength="174.5" lengthAdjust="spacingAndGlyphs">VALUE (M$)</text></g>
<text x="1425.4" y="570.0" font-size="33.29" text-anchor="middle" fill="#424242" textLength="368.9" lengthAdjust="spacingAndGlyphs">Value of Goods, Maine</text>
<clipPath id="c2l"><rect x="1695" y="612" width="215" height="408.5"/></clipPath><g clip-path="url(#c2l)">
<text x="1701.0" y="647.9" font-size="29.03" text-anchor="start" fill="#424242" textLength="152.4" lengthAdjust="spacingAndGlyphs">Maine Port</text>
<path d="M1704.2,671.7H1743.8" stroke="rgb(76,114,176)" stroke-width="1.5"/><circle cx="1724" cy="671.7" r="1.6" fill="rgb(76,114,176)"/>
<text x="1751.2" y="680.3" font-size="23.75" text-anchor="start" fill="#424242" textLength="128.7" lengthAdjust="spacingAndGlyphs">Bar Harbor</text>
<path d="M1704.2,706.7H1743.8" stroke="rgb(226,133,62)" stroke-width="1.5"/><circle cx="1724" cy="706.7" r="1.6" fill="rgb(226,133,62)"/>
<text x="1751.2" y="715.3" font-size="23.75" text-anchor="start" fill="#424242" textLength="141.9" lengthAdjust="spacingAndGlyphs">Bridgewater</text>
<path d="M1704.2,741.7H1743.8" stroke="rgb(92,168,60)" stroke-width="1.5"/><circle cx="1724" cy="741.7" r="1.6" fill="rgb(92,168,60)"/>
<text x="1751.2" y="750.3" font-size="23.75" text-anchor="start" fill="#424242" textLength="69.5" lengthAdjust="spacingAndGlyphs">Calais</text>
<path d="M1704.2,776.7H1743.8" stroke="rgb(196,78,82)" stroke-width="1.5"/><circle cx="1724" cy="776.7" r="1.6" fill="rgb(196,78,82)"/>
<text x="1751.2" y="785.3" font-size="23.75" text-anchor="start" fill="#424242" textLength="98.3" lengthAdjust="spacingAndGlyphs">Eastport</text>
<path d="M1704.2,811.7H1743.8" stroke="rgb(129,114,179)" stroke-width="1.5"/><circle cx="1724" cy="811.7" r="1.6" fill="rgb(129,114,179)"/>
<text x="1751.2" y="820.3" font-size="23.75" text-anchor="start" fill="#424242" textLength="148.6" lengthAdjust="spacingAndGlyphs">Fort Fairfield</text>
<path d="M1704.2,846.7H1743.8" stroke="rgb(147,120,96)" stroke-width="1.5"/><circle cx="1724" cy="846.7" r="1.6" fill="rgb(147,120,96)"/>
<text x="1751.2" y="855.3" font-size="23.75" text-anchor="start" fill="#424242" textLength="109.3" lengthAdjust="spacingAndGlyphs">Fort Kent</text>
<path d="M1704.2,881.7H1743.8" stroke="rgb(218,139,195)" stroke-width="1.5"/><circle cx="1724" cy="881.7" r="1.6" fill="rgb(218,139,195)"/>
<text x="1751.2" y="890.3" font-size="23.75" text-anchor="start" fill="#424242" textLength="91.2" lengthAdjust="spacingAndGlyphs">Houlton</text>
<path d="M1704.2,916.7H1743.8" stroke="rgb(140,140,140)" stroke-width="1.5"/><circle cx="1724" cy="916.7" r="1.6" fill="rgb(140,140,140)"/>
<text x="1751.2" y="925.3" font-size="23.75" text-anchor="start" fill="#424242" textLength="102.4" lengthAdjust="spacingAndGlyphs">Jackman</text>
<path d="M1704.2,951.7H1743.8" stroke="rgb(200,190,60)" stroke-width="1.5"/><circle cx="1724" cy="951.7" r="1.6" fill="rgb(200,190,60)"/>
<text x="1751.2" y="960.3" font-size="23.75" text-anchor="start" fill="#424242" textLength="120.5" lengthAdjust="spacingAndGlyphs">Limestone</text>
<path d="M1704.2,986.7H1743.8" stroke="rgb(100,181,205)" stroke-width="1.5"/><circle cx="1724" cy="986.7" r="1.6" fill="rgb(100,181,205)"/>
<text x="1751.2" y="995.3" font-size="23.75" text-anchor="start" fill="#424242" textLength="135.7" lengthAdjust="spacingAndGlyphs">Madawaska</text>
<path d="M1704.2,1021.7H1743.8" stroke="rgb(76,114,176)" stroke-width="1.5"/><circle cx="1724" cy="1021.7" r="1.6" fill="rgb(76,114,176)"/>
<text x="1751.2" y="1030.3" font-size="23.75" text-anchor="start" fill="#424242" textLength="97.4" lengthAdjust="spacingAndGlyphs">Portland</text>
</g>
<rect x="1907.3" y="615" width="7.7" height="333" rx="3.85" fill="#808BA4"/>
</g>
</svg>
</body></html>
